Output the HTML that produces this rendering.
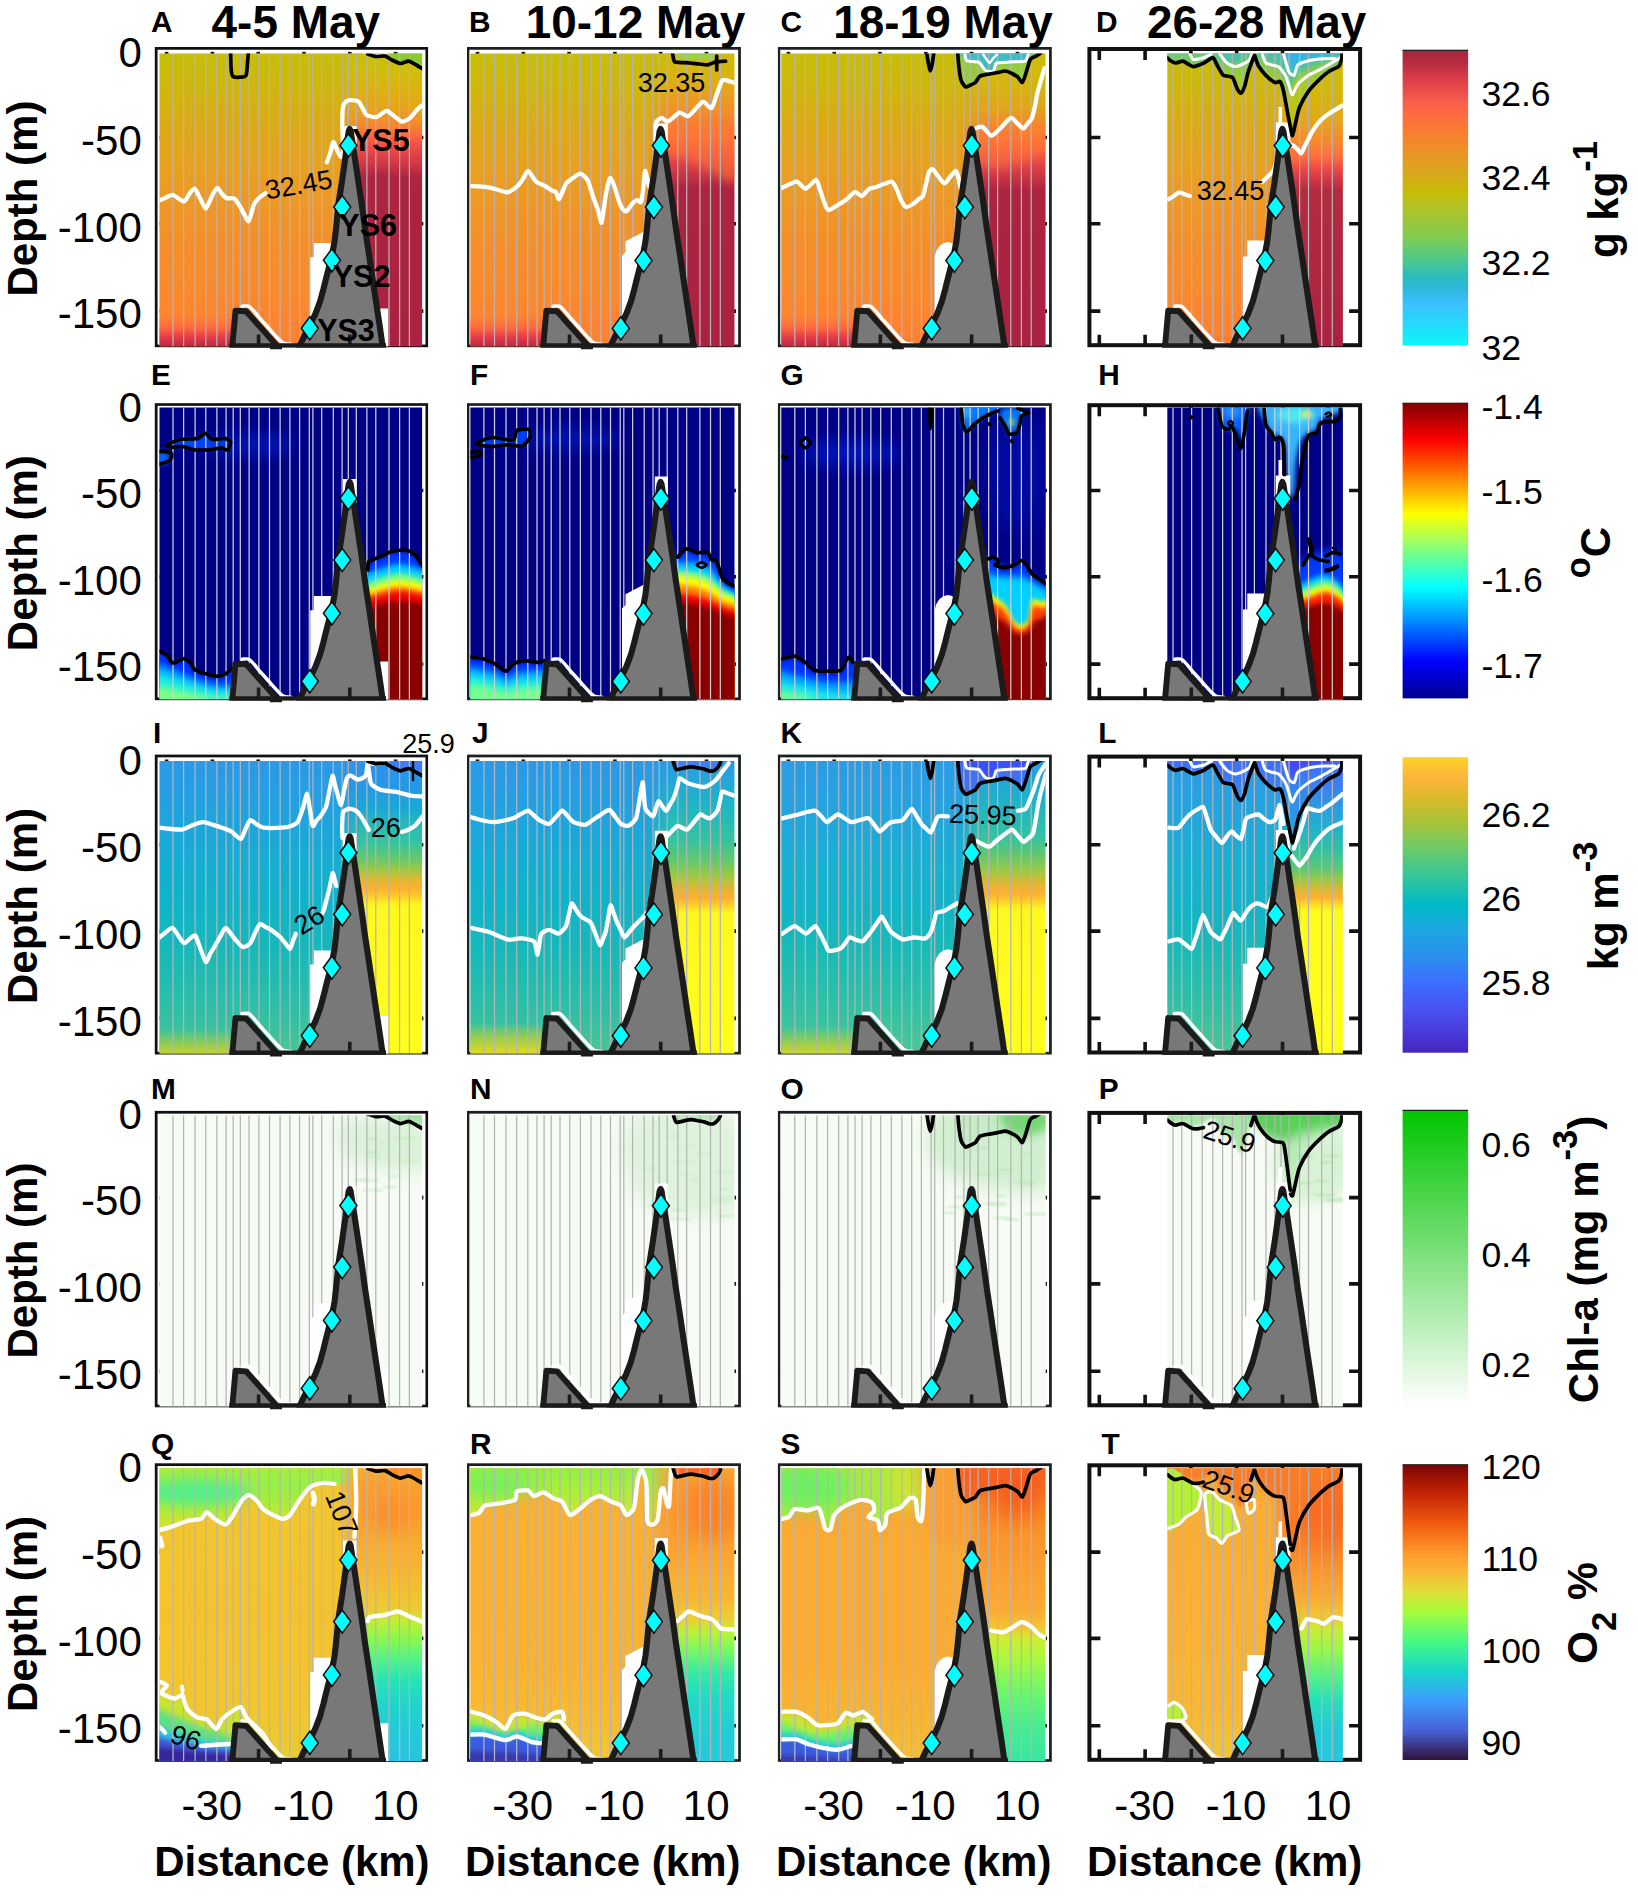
<!DOCTYPE html>
<html><head><meta charset="utf-8"><title>Figure</title>
<style>html,body{margin:0;padding:0;background:#fff}svg{display:block}text{font-family:'Liberation Sans', sans-serif;fill:#000}</style>
</head><body>
<svg width="1638" height="1897" viewBox="0 0 1638 1897">
<defs>
<linearGradient id="mRg" gradientUnits="userSpaceOnUse" x1="338" y1="0" x2="360" y2="0"><stop offset="0" stop-color="#fff" stop-opacity="0"/><stop offset="1" stop-color="#fff" stop-opacity="1"/></linearGradient><mask id="mR" maskUnits="userSpaceOnUse" x="320" y="30" width="120" height="330"><rect x="320" y="30" width="120" height="330" fill="url(#mRg)"/></mask>
<clipPath id="mclip"><path d="M100 40 H500 V347.4 H282 V349.2 H270 V347.4 H100 Z"/></clipPath>
<clipPath id="cA"><rect x="159.5" y="53.6" width="262.6" height="292.7"/></clipPath>
<linearGradient id="gA0" x1="0" y1="50" x2="0" y2="348" gradientUnits="userSpaceOnUse"><stop offset="0.0000" stop-color="#c6bf06"/><stop offset="0.1342" stop-color="#d0b60e"/><stop offset="0.2685" stop-color="#dda918"/><stop offset="0.4027" stop-color="#e8a020"/><stop offset="0.5369" stop-color="#f09626"/><stop offset="0.6711" stop-color="#f58e2a"/><stop offset="0.8054" stop-color="#fa8a2c"/><stop offset="0.9060" stop-color="#ff8430"/><stop offset="1.0000" stop-color="#ff8030"/></linearGradient>
<linearGradient id="gA1" x1="0" y1="313" x2="0" y2="348" gradientUnits="userSpaceOnUse"><stop offset="0.0000" stop-color="#ff7838" stop-opacity="0"/><stop offset="0.4000" stop-color="#ff6c3c" stop-opacity="1"/><stop offset="0.6857" stop-color="#e63c48"/><stop offset="0.8857" stop-color="#c42e44"/><stop offset="1.0000" stop-color="#b02842"/></linearGradient>
<linearGradient id="gA2" x1="0" y1="50" x2="0" y2="348" gradientUnits="userSpaceOnUse"><stop offset="0.0000" stop-color="#c6bf06"/><stop offset="0.0705" stop-color="#d0be08"/><stop offset="0.1409" stop-color="#e0b010"/><stop offset="0.1946" stop-color="#e8a418"/><stop offset="0.2483" stop-color="#f58a2c"/><stop offset="0.2852" stop-color="#ff6a3e"/><stop offset="0.3188" stop-color="#f25045"/><stop offset="0.3557" stop-color="#e04048"/><stop offset="0.3893" stop-color="#cc3444"/><stop offset="0.4262" stop-color="#ac2440"/><stop offset="1.0000" stop-color="#aa2240"/></linearGradient>
<filter id="b1_5" x="-50%" y="-50%" width="200%" height="200%"><feGaussianBlur stdDeviation="1.5"/></filter>
<clipPath id="cB"><rect x="159.5" y="53.6" width="264.1" height="292.7"/></clipPath>
<linearGradient id="gB0" x1="0" y1="50" x2="0" y2="348" gradientUnits="userSpaceOnUse"><stop offset="0.0000" stop-color="#c6bf06"/><stop offset="0.1342" stop-color="#d0b60e"/><stop offset="0.2685" stop-color="#dda918"/><stop offset="0.4027" stop-color="#e8a020"/><stop offset="0.5369" stop-color="#f09626"/><stop offset="0.6711" stop-color="#f58e2a"/><stop offset="0.8054" stop-color="#fa8a2c"/><stop offset="0.9060" stop-color="#ff8430"/><stop offset="1.0000" stop-color="#ff8030"/></linearGradient>
<linearGradient id="gB1" x1="0" y1="313" x2="0" y2="348" gradientUnits="userSpaceOnUse"><stop offset="0.0000" stop-color="#ff7838" stop-opacity="0"/><stop offset="0.4000" stop-color="#ff6c3c" stop-opacity="1"/><stop offset="0.6857" stop-color="#e63c48"/><stop offset="0.8857" stop-color="#c42e44"/><stop offset="1.0000" stop-color="#b02842"/></linearGradient>
<linearGradient id="gB2" x1="0" y1="50" x2="0" y2="348" gradientUnits="userSpaceOnUse"><stop offset="0.0000" stop-color="#ccbc08"/><stop offset="0.0839" stop-color="#d8b40c"/><stop offset="0.1510" stop-color="#e8a020"/><stop offset="0.2181" stop-color="#f58a2c"/><stop offset="0.2953" stop-color="#ff7038"/><stop offset="0.3423" stop-color="#f25045"/><stop offset="0.3792" stop-color="#e04048"/><stop offset="0.4195" stop-color="#c83444"/><stop offset="0.4631" stop-color="#ac2440"/><stop offset="1.0000" stop-color="#aa2240"/></linearGradient>
<filter id="b5" x="-50%" y="-50%" width="200%" height="200%"><feGaussianBlur stdDeviation="5"/></filter>
<clipPath id="cC"><rect x="159.5" y="53.6" width="264.4" height="292.7"/></clipPath>
<linearGradient id="gC0" x1="0" y1="50" x2="0" y2="348" gradientUnits="userSpaceOnUse"><stop offset="0.0000" stop-color="#c6bf06"/><stop offset="0.1342" stop-color="#d0b60e"/><stop offset="0.2685" stop-color="#dda918"/><stop offset="0.4027" stop-color="#e8a020"/><stop offset="0.5369" stop-color="#f09626"/><stop offset="0.6711" stop-color="#f58e2a"/><stop offset="0.8054" stop-color="#fa8a2c"/><stop offset="0.9060" stop-color="#ff8430"/><stop offset="1.0000" stop-color="#ff8030"/></linearGradient>
<linearGradient id="gC1" x1="0" y1="313" x2="0" y2="348" gradientUnits="userSpaceOnUse"><stop offset="0.0000" stop-color="#ff7838" stop-opacity="0"/><stop offset="0.4000" stop-color="#ff6c3c" stop-opacity="1"/><stop offset="0.6857" stop-color="#e63c48"/><stop offset="0.8857" stop-color="#c42e44"/><stop offset="1.0000" stop-color="#b02842"/></linearGradient>
<linearGradient id="gC2" x1="0" y1="50" x2="0" y2="348" gradientUnits="userSpaceOnUse"><stop offset="0.0000" stop-color="#ccbc08"/><stop offset="0.1007" stop-color="#d4b80c"/><stop offset="0.1846" stop-color="#e0a818"/><stop offset="0.2517" stop-color="#f09028"/><stop offset="0.3087" stop-color="#ff7038"/><stop offset="0.3557" stop-color="#f25045"/><stop offset="0.3893" stop-color="#e04048"/><stop offset="0.4295" stop-color="#c83444"/><stop offset="0.4732" stop-color="#ac2440"/><stop offset="1.0000" stop-color="#aa2240"/></linearGradient>
<clipPath id="cD"><rect x="234.6" y="53.6" width="175.6" height="292.7"/></clipPath>
<linearGradient id="gD0" x1="0" y1="50" x2="0" y2="348" gradientUnits="userSpaceOnUse"><stop offset="0.0000" stop-color="#c6bf06"/><stop offset="0.1342" stop-color="#d0b60e"/><stop offset="0.2685" stop-color="#dda918"/><stop offset="0.4027" stop-color="#e8a020"/><stop offset="0.5369" stop-color="#f09626"/><stop offset="0.6711" stop-color="#f58e2a"/><stop offset="0.8054" stop-color="#fa8a2c"/><stop offset="0.9060" stop-color="#ff8430"/><stop offset="1.0000" stop-color="#ff8030"/></linearGradient>
<linearGradient id="gD1" x1="0" y1="50" x2="0" y2="348" gradientUnits="userSpaceOnUse"><stop offset="0.0000" stop-color="#c6bf06"/><stop offset="0.1342" stop-color="#d2b80a"/><stop offset="0.2013" stop-color="#dcae14"/><stop offset="0.2617" stop-color="#eb9c22"/><stop offset="0.3188" stop-color="#f88432"/><stop offset="0.3624" stop-color="#ff6a3e"/><stop offset="0.3960" stop-color="#ee4c46"/><stop offset="0.4295" stop-color="#d43a46"/><stop offset="0.4698" stop-color="#b42c40"/><stop offset="1.0000" stop-color="#aa2240"/></linearGradient>
<linearGradient id="gD2" x1="0" y1="50" x2="0" y2="136" gradientUnits="userSpaceOnUse"><stop offset="0.0000" stop-color="#5cc890"/><stop offset="0.1395" stop-color="#7ccc58"/><stop offset="0.3256" stop-color="#a0cc30"/><stop offset="0.5814" stop-color="#b8c61a"/><stop offset="1.0000" stop-color="#c8bc10"/></linearGradient>
<filter id="b2" x="-50%" y="-50%" width="200%" height="200%"><feGaussianBlur stdDeviation="2"/></filter>
<clipPath id="cE"><rect x="159.5" y="54.5" width="262.6" height="291.8"/></clipPath>
<filter id="b3" x="-50%" y="-50%" width="200%" height="200%"><feGaussianBlur stdDeviation="3"/></filter>
<filter id="b2_5" x="-50%" y="-50%" width="200%" height="200%"><feGaussianBlur stdDeviation="2.5"/></filter>
<filter id="b8" x="-50%" y="-50%" width="200%" height="200%"><feGaussianBlur stdDeviation="8"/></filter>
<clipPath id="cF"><rect x="159.5" y="54.5" width="264.1" height="291.8"/></clipPath>
<clipPath id="cG"><rect x="159.5" y="54.5" width="264.4" height="291.8"/></clipPath>
<filter id="b12" x="-50%" y="-50%" width="200%" height="200%"><feGaussianBlur stdDeviation="12"/></filter>
<clipPath id="cH"><rect x="234.6" y="54.5" width="175.6" height="291.8"/></clipPath>
<filter id="b4" x="-50%" y="-50%" width="200%" height="200%"><feGaussianBlur stdDeviation="4"/></filter>
<clipPath id="cI"><rect x="159.5" y="53.6" width="262.6" height="292.7"/></clipPath>
<linearGradient id="gI0" x1="0" y1="50" x2="0" y2="348" gradientUnits="userSpaceOnUse"><stop offset="0.0000" stop-color="#2c98e8"/><stop offset="0.1174" stop-color="#259ee4"/><stop offset="0.2349" stop-color="#1ca6dc"/><stop offset="0.3691" stop-color="#14aed2"/><stop offset="0.5034" stop-color="#10b4c8"/><stop offset="0.6376" stop-color="#16b8ba"/><stop offset="0.8054" stop-color="#28beaa"/><stop offset="0.9228" stop-color="#3cc29e"/><stop offset="1.0000" stop-color="#4cc694"/></linearGradient>
<linearGradient id="gI1" x1="0" y1="322" x2="0" y2="348" gradientUnits="userSpaceOnUse"><stop offset="0.0000" stop-color="#8ccc58" stop-opacity="0"/><stop offset="0.5385" stop-color="#8ccc58" stop-opacity="1"/><stop offset="1.0000" stop-color="#ccd624"/></linearGradient>
<linearGradient id="gI2" x1="0" y1="50" x2="0" y2="348" gradientUnits="userSpaceOnUse"><stop offset="0.0000" stop-color="#3090f0"/><stop offset="0.1007" stop-color="#2498e6"/><stop offset="0.1678" stop-color="#18a8d8"/><stop offset="0.2282" stop-color="#28b8b8"/><stop offset="0.2852" stop-color="#34c4a0"/><stop offset="0.3356" stop-color="#60c870"/><stop offset="0.3792" stop-color="#a0c840"/><stop offset="0.4094" stop-color="#e0b830"/><stop offset="0.4396" stop-color="#ffb030"/><stop offset="0.4698" stop-color="#ffd028"/><stop offset="0.4966" stop-color="#fff820"/><stop offset="1.0000" stop-color="#ffff1c"/></linearGradient>
<clipPath id="cJ"><rect x="159.5" y="53.6" width="264.1" height="292.7"/></clipPath>
<linearGradient id="gJ0" x1="0" y1="50" x2="0" y2="348" gradientUnits="userSpaceOnUse"><stop offset="0.0000" stop-color="#2c98e8"/><stop offset="0.1174" stop-color="#259ee4"/><stop offset="0.2349" stop-color="#1ca6dc"/><stop offset="0.3691" stop-color="#14aed2"/><stop offset="0.5034" stop-color="#10b4c8"/><stop offset="0.6376" stop-color="#16b8ba"/><stop offset="0.8054" stop-color="#28beaa"/><stop offset="0.9228" stop-color="#3cc29e"/><stop offset="1.0000" stop-color="#4cc694"/></linearGradient>
<linearGradient id="gJ1" x1="0" y1="316" x2="0" y2="348" gradientUnits="userSpaceOnUse"><stop offset="0.0000" stop-color="#98cc50" stop-opacity="0"/><stop offset="0.4375" stop-color="#98cc50" stop-opacity="1"/><stop offset="1.0000" stop-color="#ecdc18"/></linearGradient>
<linearGradient id="gJ2" x1="0" y1="50" x2="0" y2="348" gradientUnits="userSpaceOnUse"><stop offset="0.0000" stop-color="#2c98e8"/><stop offset="0.0839" stop-color="#22a8d8"/><stop offset="0.1510" stop-color="#1eb4c8"/><stop offset="0.2181" stop-color="#28bcb4"/><stop offset="0.2852" stop-color="#38c49c"/><stop offset="0.3523" stop-color="#68c868"/><stop offset="0.4027" stop-color="#a4c840"/><stop offset="0.4430" stop-color="#e4b432"/><stop offset="0.4732" stop-color="#ffb030"/><stop offset="0.5000" stop-color="#ffd428"/><stop offset="0.5235" stop-color="#fff820"/><stop offset="1.0000" stop-color="#ffff1c"/></linearGradient>
<clipPath id="cK"><rect x="159.5" y="53.6" width="264.4" height="292.7"/></clipPath>
<linearGradient id="gK0" x1="0" y1="50" x2="0" y2="348" gradientUnits="userSpaceOnUse"><stop offset="0.0000" stop-color="#2b9ce6"/><stop offset="0.1174" stop-color="#28a0e2"/><stop offset="0.2349" stop-color="#20a8da"/><stop offset="0.3691" stop-color="#18b0d0"/><stop offset="0.5034" stop-color="#12b4c8"/><stop offset="0.6376" stop-color="#18bab8"/><stop offset="0.8054" stop-color="#2cc0a8"/><stop offset="0.9228" stop-color="#40c49c"/><stop offset="1.0000" stop-color="#4cc694"/></linearGradient>
<linearGradient id="gK1" x1="0" y1="320" x2="0" y2="348" gradientUnits="userSpaceOnUse"><stop offset="0.0000" stop-color="#90cc54" stop-opacity="0"/><stop offset="0.5000" stop-color="#90cc54" stop-opacity="1"/><stop offset="1.0000" stop-color="#d4d822"/></linearGradient>
<linearGradient id="gK2" x1="0" y1="50" x2="0" y2="348" gradientUnits="userSpaceOnUse"><stop offset="0.0000" stop-color="#2c98e8"/><stop offset="0.0839" stop-color="#22a8d8"/><stop offset="0.1510" stop-color="#1eb4c8"/><stop offset="0.2181" stop-color="#28bcb4"/><stop offset="0.2752" stop-color="#38c49c"/><stop offset="0.3356" stop-color="#68c868"/><stop offset="0.3859" stop-color="#a4c840"/><stop offset="0.4262" stop-color="#e4b432"/><stop offset="0.4564" stop-color="#ffb030"/><stop offset="0.4866" stop-color="#ffd428"/><stop offset="0.5101" stop-color="#fff820"/><stop offset="1.0000" stop-color="#ffff1c"/></linearGradient>
<clipPath id="cL"><rect x="234.6" y="53.6" width="175.6" height="292.7"/></clipPath>
<linearGradient id="gL0" x1="0" y1="50" x2="0" y2="348" gradientUnits="userSpaceOnUse"><stop offset="0.0000" stop-color="#2b9ce6"/><stop offset="0.1174" stop-color="#28a0e2"/><stop offset="0.2349" stop-color="#20a8da"/><stop offset="0.3691" stop-color="#18b0d0"/><stop offset="0.5034" stop-color="#12b4c8"/><stop offset="0.6376" stop-color="#18bab8"/><stop offset="0.8054" stop-color="#2cc0a8"/><stop offset="0.9228" stop-color="#40c49c"/><stop offset="1.0000" stop-color="#4cc694"/></linearGradient>
<linearGradient id="gL1" x1="0" y1="50" x2="0" y2="348" gradientUnits="userSpaceOnUse"><stop offset="0.0000" stop-color="#4468f8"/><stop offset="0.1007" stop-color="#3c80f0"/><stop offset="0.1678" stop-color="#2c9ce0"/><stop offset="0.2349" stop-color="#22b0cc"/><stop offset="0.3020" stop-color="#30c0a8"/><stop offset="0.3691" stop-color="#58c878"/><stop offset="0.4094" stop-color="#98c848"/><stop offset="0.4430" stop-color="#dcb834"/><stop offset="0.4698" stop-color="#ffb030"/><stop offset="0.4966" stop-color="#ffe024"/><stop offset="0.5168" stop-color="#fffc20"/><stop offset="1.0000" stop-color="#ffff1c"/></linearGradient>
<linearGradient id="gL2" x1="0" y1="50" x2="0" y2="136" gradientUnits="userSpaceOnUse"><stop offset="0.0000" stop-color="#4468f8"/><stop offset="0.1860" stop-color="#3c78f4"/><stop offset="0.4070" stop-color="#3488ec"/><stop offset="0.6977" stop-color="#2c98e4"/><stop offset="1.0000" stop-color="#28a8d8"/></linearGradient>
<clipPath id="cM"><rect x="159.5" y="55.1" width="262.6" height="291.2"/></clipPath>
<clipPath id="cN"><rect x="159.5" y="55.1" width="264.1" height="291.2"/></clipPath>
<clipPath id="cO"><rect x="159.5" y="55.1" width="264.4" height="291.2"/></clipPath>
<filter id="b1" x="-50%" y="-50%" width="200%" height="200%"><feGaussianBlur stdDeviation="1"/></filter>
<clipPath id="cP"><rect x="234.6" y="55.1" width="175.6" height="291.2"/></clipPath>
<filter id="b6" x="-50%" y="-50%" width="200%" height="200%"><feGaussianBlur stdDeviation="6"/></filter>
<clipPath id="cQ"><rect x="159.5" y="53.6" width="262.6" height="292.7"/></clipPath>
<linearGradient id="gQ0" x1="0" y1="50" x2="0" y2="348" gradientUnits="userSpaceOnUse"><stop offset="0.0000" stop-color="#f0c82e"/><stop offset="0.5034" stop-color="#f5c22c"/><stop offset="0.8389" stop-color="#f2c62e"/><stop offset="1.0000" stop-color="#e8cc32"/></linearGradient>
<linearGradient id="gQ1" x1="0" y1="50" x2="0" y2="118" gradientUnits="userSpaceOnUse"><stop offset="0.0000" stop-color="#a8f038"/><stop offset="0.2941" stop-color="#98f048"/><stop offset="0.5147" stop-color="#a4ee3c"/><stop offset="0.7353" stop-color="#c0e834"/><stop offset="1.0000" stop-color="#dcdc30"/></linearGradient>
<filter id="b7" x="-50%" y="-50%" width="200%" height="200%"><feGaussianBlur stdDeviation="7"/></filter>
<linearGradient id="gQ3" x1="0" y1="50" x2="0" y2="348" gradientUnits="userSpaceOnUse"><stop offset="0.0000" stop-color="#f8b030"/><stop offset="0.0671" stop-color="#fba030"/><stop offset="0.1342" stop-color="#fc9c30"/><stop offset="0.2685" stop-color="#f8ac32"/><stop offset="0.4027" stop-color="#f5bc32"/><stop offset="0.4866" stop-color="#eccc34"/><stop offset="0.5268" stop-color="#c0f034"/><stop offset="0.5872" stop-color="#88f850"/><stop offset="0.6544" stop-color="#50f488"/><stop offset="0.7215" stop-color="#28e4b4"/><stop offset="0.8054" stop-color="#20d4cc"/><stop offset="0.8893" stop-color="#24cad8"/><stop offset="1.0000" stop-color="#28c4e0"/></linearGradient>
<clipPath id="cR"><rect x="159.5" y="53.6" width="264.1" height="292.7"/></clipPath>
<linearGradient id="gR0" x1="0" y1="50" x2="0" y2="348" gradientUnits="userSpaceOnUse"><stop offset="0.0000" stop-color="#fab030"/><stop offset="0.2685" stop-color="#fbb030"/><stop offset="0.6711" stop-color="#fbb230"/><stop offset="0.8389" stop-color="#f8ba32"/><stop offset="1.0000" stop-color="#f2c636"/></linearGradient>
<linearGradient id="gR1" x1="0" y1="50" x2="0" y2="110" gradientUnits="userSpaceOnUse"><stop offset="0.0000" stop-color="#90f044"/><stop offset="0.4167" stop-color="#a8f038"/><stop offset="0.7500" stop-color="#c4e834"/><stop offset="1.0000" stop-color="#dcdc32"/></linearGradient>
<linearGradient id="gR3" x1="0" y1="50" x2="0" y2="348" gradientUnits="userSpaceOnUse"><stop offset="0.0000" stop-color="#fca430"/><stop offset="0.0839" stop-color="#fc9c30"/><stop offset="0.2013" stop-color="#fc9a30"/><stop offset="0.3356" stop-color="#fba832"/><stop offset="0.4530" stop-color="#f8b832"/><stop offset="0.5201" stop-color="#ecd034"/><stop offset="0.5638" stop-color="#b8f438"/><stop offset="0.6309" stop-color="#70f868"/><stop offset="0.6980" stop-color="#34eaa4"/><stop offset="0.7785" stop-color="#22dac4"/><stop offset="0.8893" stop-color="#22ced4"/><stop offset="1.0000" stop-color="#24cadc"/></linearGradient>
<filter id="b9" x="-50%" y="-50%" width="200%" height="200%"><feGaussianBlur stdDeviation="9"/></filter>
<clipPath id="cS"><rect x="159.5" y="53.6" width="264.4" height="292.7"/></clipPath>
<linearGradient id="gS0" x1="0" y1="50" x2="0" y2="348" gradientUnits="userSpaceOnUse"><stop offset="0.0000" stop-color="#fba830"/><stop offset="0.2685" stop-color="#fcaa30"/><stop offset="0.6711" stop-color="#fcac30"/><stop offset="0.8389" stop-color="#f9b432"/><stop offset="1.0000" stop-color="#f4c036"/></linearGradient>
<linearGradient id="gS4" x1="0" y1="50" x2="0" y2="348" gradientUnits="userSpaceOnUse"><stop offset="0.0000" stop-color="#f4601e"/><stop offset="0.0671" stop-color="#f66a20"/><stop offset="0.1342" stop-color="#f98428"/><stop offset="0.2349" stop-color="#fb942c"/><stop offset="0.3691" stop-color="#fca030"/><stop offset="0.4866" stop-color="#fcaa32"/><stop offset="0.5436" stop-color="#f6c232"/><stop offset="0.5839" stop-color="#d0ee34"/><stop offset="0.6544" stop-color="#a8f840"/><stop offset="0.7550" stop-color="#70f868"/><stop offset="0.8725" stop-color="#48ec90"/><stop offset="1.0000" stop-color="#38e6a4"/></linearGradient>
<clipPath id="cT"><rect x="234.6" y="53.6" width="175.6" height="292.7"/></clipPath>
<linearGradient id="gT0" x1="0" y1="50" x2="0" y2="348" gradientUnits="userSpaceOnUse"><stop offset="0.0000" stop-color="#f8a030"/><stop offset="0.1342" stop-color="#fbac32"/><stop offset="0.5034" stop-color="#fdb032"/><stop offset="0.8389" stop-color="#f8b834"/><stop offset="1.0000" stop-color="#f0c838"/></linearGradient>
<linearGradient id="gT1" x1="0" y1="50" x2="0" y2="348" gradientUnits="userSpaceOnUse"><stop offset="0.0000" stop-color="#fa7428"/><stop offset="0.1678" stop-color="#f87026"/><stop offset="0.3020" stop-color="#fa8a2c"/><stop offset="0.4362" stop-color="#fca832"/><stop offset="0.5134" stop-color="#f0c836"/><stop offset="0.5537" stop-color="#c8ec38"/><stop offset="0.6208" stop-color="#98f848"/><stop offset="0.7047" stop-color="#58f480"/><stop offset="0.7886" stop-color="#28e0b8"/><stop offset="0.8893" stop-color="#20ccd8"/><stop offset="1.0000" stop-color="#24c8e0"/></linearGradient>
<linearGradient id="cb0" x1="0" y1="0" x2="0" y2="1" gradientUnits="objectBoundingBox"><stop offset="0.0000" stop-color="#a6263c"/><stop offset="0.0400" stop-color="#b42a40"/><stop offset="0.1100" stop-color="#e2414a"/><stop offset="0.1800" stop-color="#f8604a"/><stop offset="0.2300" stop-color="#ff6e3e"/><stop offset="0.3000" stop-color="#f5852c"/><stop offset="0.4000" stop-color="#dda322"/><stop offset="0.4800" stop-color="#c7bc06"/><stop offset="0.5500" stop-color="#a8c42e"/><stop offset="0.6300" stop-color="#82cc4e"/><stop offset="0.7100" stop-color="#4ec88c"/><stop offset="0.7700" stop-color="#2cbcc0"/><stop offset="0.8100" stop-color="#2eb8dc"/><stop offset="0.8600" stop-color="#3cc0ff"/><stop offset="1.0000" stop-color="#0cf6f8"/></linearGradient>
<linearGradient id="cb1" x1="0" y1="0" x2="0" y2="1" gradientUnits="objectBoundingBox"><stop offset="0.0000" stop-color="#800000"/><stop offset="0.1250" stop-color="#ff0000"/><stop offset="0.3750" stop-color="#ffff00"/><stop offset="0.6250" stop-color="#00ffff"/><stop offset="0.8750" stop-color="#0000ff"/><stop offset="1.0000" stop-color="#00008f"/></linearGradient>
<linearGradient id="cb2" x1="0" y1="0" x2="0" y2="1" gradientUnits="objectBoundingBox"><stop offset="0.0000" stop-color="#ffd22a"/><stop offset="0.0700" stop-color="#fdb53a"/><stop offset="0.1500" stop-color="#d4ba2a"/><stop offset="0.2300" stop-color="#a2c43c"/><stop offset="0.3100" stop-color="#6ccb68"/><stop offset="0.4000" stop-color="#36c698"/><stop offset="0.5000" stop-color="#00b9c7"/><stop offset="0.5800" stop-color="#1ca8df"/><stop offset="0.6800" stop-color="#2c8df0"/><stop offset="0.7700" stop-color="#3e6cff"/><stop offset="0.8700" stop-color="#4a4cee"/><stop offset="1.0000" stop-color="#4426c0"/></linearGradient>
<linearGradient id="cb3" x1="0" y1="0" x2="0" y2="1" gradientUnits="objectBoundingBox"><stop offset="0.0000" stop-color="#00c400"/><stop offset="1.0000" stop-color="#ffffff"/></linearGradient>
<linearGradient id="cb4" x1="0" y1="0" x2="0" y2="1" gradientUnits="objectBoundingBox"><stop offset="0.0000" stop-color="#7a0403"/><stop offset="0.1000" stop-color="#c42503"/><stop offset="0.2000" stop-color="#f05b12"/><stop offset="0.3000" stop-color="#fe992c"/><stop offset="0.3700" stop-color="#f9ba38"/><stop offset="0.4300" stop-color="#e1dd37"/><stop offset="0.5000" stop-color="#a4fc3c"/><stop offset="0.6000" stop-color="#46f884"/><stop offset="0.7000" stop-color="#18d6cb"/><stop offset="0.8000" stop-color="#3e9bfe"/><stop offset="0.9000" stop-color="#4662d7"/><stop offset="1.0000" stop-color="#30123b"/></linearGradient>
</defs>
<rect width="1638" height="1897" fill="#fff"/>
<g transform="translate(0.0,0.0)">
<rect x="156.8" y="49.0" width="269.3" height="296.2" fill="#fff" stroke="#111" stroke-width="4"/>
<path d="M166.6 49.0 v11 M166.6 345.2 v-10.5 M212.4 49.0 v11 M212.4 345.2 v-10.5 M258.2 49.0 v11 M258.2 345.2 v-10.5 M304.0 49.0 v11 M304.0 345.2 v-10.5 M349.8 49.0 v11 M349.8 345.2 v-10.5 M395.6 49.0 v11 M395.6 345.2 v-10.5 M156.8 137.5 h11 M426.1 137.5 h-11 M156.8 223.8 h11 M426.1 223.8 h-11 M156.8 311.1 h11 M426.1 311.1 h-11 " stroke="#111" stroke-width="3.6" fill="none"/>
<rect x="158.6" y="50.8" width="265.8" height="292.7" fill="none" stroke="#fff" stroke-width="2.1"/>
<g clip-path="url(#cA)">
<rect x="158.0" y="52.6" width="204.0" height="294.7" fill="url(#gA0)"/>
<rect x="158.0" y="52.6" width="74.0" height="294.7" fill="url(#gA1)"/>
<rect x="330.0" y="52.6" width="94.0" height="294.7" fill="url(#gA2)" mask="url(#mR)"/>
<path d="M392.0 60.0 C393.4 63.9 397.8 63.3 400.5 63.5 C403.2 63.7 406.2 61.1 408.5 61.2 C410.8 61.3 412.3 62.8 414.5 64.0 C416.7 65.2 419.9 67.6 421.8 68.3 C423.7 69.0 425.3 73.0 426.0 68.3 C426.7 63.6 431.7 44.7 426.0 40.0 C420.3 35.3 397.7 36.7 392.0 40.0 C386.3 43.3 390.6 56.1 392.0 60.0Z" fill="#8cc832" filter="url(#b1_5)"/>
<path d="M173.0 53.6 V346.3 M183.6 53.6 V346.3 M195.1 53.6 V346.3 M205.8 53.6 V346.3 M216.9 53.6 V346.3 M226.1 53.6 V346.3 M233.2 53.6 V346.3 M240.3 53.6 V346.3 M249.1 53.6 V346.3 M258.9 53.6 V346.3 M269.5 53.6 V346.3 M280.1 53.6 V346.3 M289.9 53.6 V346.3 M299.6 53.6 V346.3 M309.3 53.6 V346.3 M312.9 53.6 V346.3 M321.7 53.6 V346.3 M333.3 53.6 V346.3 M342.1 53.6 V346.3 M348.3 53.6 V346.3 M356.3 53.6 V346.3 M366.9 53.6 V346.3 M375.8 53.6 V346.3 M389.0 53.6 V346.3 M399.6 53.6 V346.3 M409.4 53.6 V346.3 " stroke="#b6b4b8" stroke-width="1.25" fill="none"/>
<path d="M310.2 257.3 L313.8 257.3 L313.8 243.1 L342.0 243.1 L342.0 336.0 L310.2 336.0 Z" fill="#fff"/>
<path d="M374.0 308.6 L388.1 308.6 L388.1 348.0 L374.0 348.0 Z" fill="#fff"/>
<path d="M343.0 126.0 L356.5 126.0 L356.5 146.0 L343.0 146.0 Z" fill="#fff"/>
</g>
</g>
<g transform="translate(310.9,0.0)">
<rect x="158.1" y="49.0" width="269.9" height="296.2" fill="#fff" stroke="#1c2020" stroke-width="4"/>
<path d="M166.6 49.0 v11 M166.6 345.2 v-10.5 M212.4 49.0 v11 M212.4 345.2 v-10.5 M258.2 49.0 v11 M258.2 345.2 v-10.5 M304.0 49.0 v11 M304.0 345.2 v-10.5 M349.8 49.0 v11 M349.8 345.2 v-10.5 M395.6 49.0 v11 M395.6 345.2 v-10.5 M158.1 137.5 h11 M428.0 137.5 h-11 M158.1 223.8 h11 M428.0 223.8 h-11 M158.1 311.1 h11 M428.0 311.1 h-11 " stroke="#111" stroke-width="3.6" fill="none"/>
<rect x="159.5" y="50.8" width="266.7" height="292.7" fill="none" stroke="#fff" stroke-width="2.1"/>
<g clip-path="url(#cB)">
<rect x="158.0" y="52.6" width="204.0" height="294.7" fill="url(#gB0)"/>
<rect x="158.0" y="52.6" width="74.0" height="294.7" fill="url(#gB1)"/>
<rect x="330.0" y="52.6" width="94.0" height="294.7" fill="url(#gB2)" mask="url(#mR)"/>
<rect x="367.0" y="50.0" width="37.0" height="9.5" fill="#98d440" filter="url(#b1_5)"/>
<path d="M349.0 150.0 C352.8 155.5 363.5 154.3 372.0 158.0 C380.5 161.7 391.0 168.3 400.0 172.0 C409.0 175.7 421.7 187.0 426.0 180.0 C430.3 173.0 438.8 139.2 426.0 130.0 C413.2 120.8 361.8 121.7 349.0 125.0 C336.2 128.3 345.2 144.5 349.0 150.0Z" fill="#ff7a36" filter="url(#b5)" opacity="0.55"/>
<path d="M173.0 53.6 V346.3 M183.6 53.6 V346.3 M195.1 53.6 V346.3 M205.8 53.6 V346.3 M216.9 53.6 V346.3 M226.1 53.6 V346.3 M233.2 53.6 V346.3 M240.3 53.6 V346.3 M249.1 53.6 V346.3 M258.9 53.6 V346.3 M269.5 53.6 V346.3 M280.1 53.6 V346.3 M289.9 53.6 V346.3 M299.6 53.6 V346.3 M309.3 53.6 V346.3 M312.9 53.6 V346.3 M321.7 53.6 V346.3 M333.3 53.6 V346.3 M342.1 53.6 V346.3 M348.3 53.6 V346.3 M356.3 53.6 V346.3 M366.9 53.6 V346.3 M375.8 53.6 V346.3 M389.0 53.6 V346.3 M399.6 53.6 V346.3 M409.4 53.6 V346.3 " stroke="#b6b4b8" stroke-width="1.25" fill="none"/>
<path d="M311.1 255.5 L314.6 252.0 L314.6 241.3 L333.1 231.6 L344.0 231.6 L344.0 332.0 L311.1 332.0 Z" fill="#fff"/>
<path d="M343.9 123.4 L357.1 123.4 L357.1 146.0 L343.9 146.0 Z" fill="#fff"/>
</g>
</g>
<g transform="translate(621.8,0.0)">
<rect x="158.1" y="49.0" width="269.9" height="296.2" fill="#fff" stroke="#1c2020" stroke-width="4"/>
<path d="M166.6 49.0 v11 M166.6 345.2 v-10.5 M212.4 49.0 v11 M212.4 345.2 v-10.5 M258.2 49.0 v11 M258.2 345.2 v-10.5 M304.0 49.0 v11 M304.0 345.2 v-10.5 M349.8 49.0 v11 M349.8 345.2 v-10.5 M395.6 49.0 v11 M395.6 345.2 v-10.5 M158.1 137.5 h11 M428.0 137.5 h-11 M158.1 223.8 h11 M428.0 223.8 h-11 M158.1 311.1 h11 M428.0 311.1 h-11 " stroke="#111" stroke-width="3.6" fill="none"/>
<rect x="159.5" y="50.8" width="266.7" height="292.7" fill="none" stroke="#fff" stroke-width="2.1"/>
<g clip-path="url(#cC)">
<rect x="158.0" y="52.6" width="204.0" height="294.7" fill="url(#gC0)"/>
<rect x="158.0" y="52.6" width="74.0" height="294.7" fill="url(#gC1)"/>
<rect x="330.0" y="52.6" width="94.0" height="294.7" fill="url(#gC2)" mask="url(#mR)"/>
<path d="M304.9 53.0 C305.2 57.0 306.1 61.0 306.7 64.0 C307.3 67.0 307.8 71.0 308.4 71.0 C309.0 71.0 309.8 67.0 310.4 64.0 C311.0 61.0 311.7 57.0 312.0 53.0 C312.3 49.0 313.2 42.2 312.0 40.0 C310.8 37.8 306.1 37.8 304.9 40.0 C303.7 42.2 304.6 49.0 304.9 53.0Z" fill="#a4d41c"/>
<path d="M335.9 53.0 C336.1 57.7 336.6 63.4 337.2 68.0 C337.8 72.6 338.3 77.5 339.4 80.7 C340.5 83.9 342.3 86.2 343.8 86.9 C345.4 87.6 347.1 85.7 348.7 85.0 C350.3 84.3 352.1 84.0 353.6 82.5 C355.2 81.0 355.9 77.7 358.0 76.3 C360.1 74.9 363.4 74.8 366.2 74.2 C369.0 73.6 371.9 73.3 374.8 72.8 C377.7 72.3 381.1 70.9 383.7 71.0 C386.3 71.1 388.1 72.5 390.2 73.5 C392.3 74.5 394.4 75.7 396.1 77.2 C397.8 78.7 399.2 83.1 400.5 82.5 C401.8 81.9 402.7 77.4 404.0 73.6 C405.3 69.8 406.8 62.4 408.5 59.5 C410.2 56.6 412.4 57.1 414.2 56.0 C416.0 54.9 418.3 55.7 419.1 53.0 C419.9 50.3 433.0 42.2 419.1 40.0 C405.2 37.8 349.8 37.8 335.9 40.0 C322.0 42.2 335.7 48.3 335.9 53.0Z" fill="#96cc3c"/>
<path d="M343.5 50.0 C333.2 51.7 342.4 58.4 344.7 60.4 C347.0 62.4 354.0 60.5 357.1 62.1 C360.2 63.7 360.9 68.6 363.3 70.1 C365.7 71.6 369.4 72.2 371.3 71.0 C373.2 69.8 369.5 64.6 374.8 63.0 C380.1 61.4 397.9 63.4 403.2 61.2 C408.5 59.0 416.6 51.9 406.7 50.0 C396.8 48.1 353.8 48.3 343.5 50.0Z" fill="#3cbcc8" filter="url(#b1_5)"/>
<path d="M349.0 160.0 C354.2 166.7 367.2 169.7 380.0 168.0 C392.8 166.3 418.3 158.0 426.0 150.0 C433.7 142.0 438.8 123.7 426.0 120.0 C413.2 116.3 361.8 121.3 349.0 128.0 C336.2 134.7 343.8 153.3 349.0 160.0Z" fill="#ff7a36" filter="url(#b5)" opacity="0.5"/>
<path d="M173.0 53.6 V346.3 M183.6 53.6 V346.3 M195.1 53.6 V346.3 M205.8 53.6 V346.3 M216.9 53.6 V346.3 M226.1 53.6 V346.3 M233.2 53.6 V346.3 M240.3 53.6 V346.3 M249.1 53.6 V346.3 M258.9 53.6 V346.3 M269.5 53.6 V346.3 M280.1 53.6 V346.3 M289.9 53.6 V346.3 M299.6 53.6 V346.3 M309.3 53.6 V346.3 M312.9 53.6 V346.3 M321.7 53.6 V346.3 M333.3 53.6 V346.3 M342.1 53.6 V346.3 M348.3 53.6 V346.3 M356.3 53.6 V346.3 M366.9 53.6 V346.3 M375.8 53.6 V346.3 M389.0 53.6 V346.3 M399.6 53.6 V346.3 M409.4 53.6 V346.3 " stroke="#b6b4b8" stroke-width="1.25" fill="none"/>
<path d="M312.9 322.0 L312.9 257.0 L314.5 251.0 L317.5 246.2 L321.5 243.2 L326.0 242.0 L330.5 243.0 L334.0 246.5 L342.0 250.0 L342.0 322.0 Z" fill="#fff"/>
</g>
</g>
<g transform="translate(932.7,0.0)">
<rect x="156.7" y="49.0" width="270.7" height="296.2" fill="#fff" stroke="#111" stroke-width="4"/>
<path d="M166.6 49.0 v11 M166.6 345.2 v-10.5 M212.4 49.0 v11 M212.4 345.2 v-10.5 M258.2 49.0 v11 M258.2 345.2 v-10.5 M304.0 49.0 v11 M304.0 345.2 v-10.5 M349.8 49.0 v11 M349.8 345.2 v-10.5 M395.6 49.0 v11 M395.6 345.2 v-10.5 M156.7 137.5 h11 M427.4 137.5 h-11 M156.7 223.8 h11 M427.4 223.8 h-11 M156.7 311.1 h11 M427.4 311.1 h-11 " stroke="#111" stroke-width="3.6" fill="none"/>
<g clip-path="url(#cD)">
<rect x="158.0" y="52.6" width="204.0" height="294.7" fill="url(#gD0)"/>
<rect x="330.0" y="52.6" width="94.0" height="294.7" fill="url(#gD1)" mask="url(#mR)"/>
<path d="M234.8 58.0 C235.4 61.5 236.9 60.2 238.3 61.0 C239.6 61.8 240.9 63.0 242.9 63.0 C244.8 63.0 247.9 61.0 250.0 61.2 C252.1 61.4 253.5 63.1 255.3 64.0 C257.1 64.9 257.9 66.8 260.6 66.6 C263.2 66.4 268.0 64.5 271.2 63.0 C274.5 61.5 278.0 57.5 280.1 57.7 C282.2 57.9 282.6 61.9 283.8 64.0 C285.0 66.1 286.1 68.2 287.2 70.1 C288.4 72.0 288.6 74.2 290.7 75.4 C292.8 76.6 297.7 75.9 299.6 77.2 C301.5 78.5 301.4 80.9 302.3 83.0 C303.2 85.1 303.9 87.9 304.9 89.6 C305.9 91.3 307.2 93.7 308.4 93.1 C309.6 92.5 310.8 89.5 312.0 86.0 C313.2 82.5 314.4 75.7 315.5 71.9 C316.6 68.1 317.8 65.7 318.8 63.0 C319.8 60.3 320.9 55.8 321.7 55.5 C322.5 55.2 323.1 59.1 323.8 61.0 C324.5 62.9 324.5 64.2 326.1 66.6 C327.7 69.0 330.5 72.8 333.2 75.4 C335.9 78.1 339.7 81.5 342.1 82.5 C344.5 83.5 345.9 80.1 347.4 81.6 C348.9 83.1 349.7 86.4 350.9 91.3 C352.1 96.2 353.3 104.6 354.5 110.8 C355.7 117.0 357.1 124.4 358.0 128.5 C358.9 132.6 359.1 136.2 359.8 135.6 C360.5 135.0 361.2 129.7 362.4 125.0 C363.6 120.3 364.6 112.9 366.8 107.3 C369.0 101.7 372.5 95.9 375.7 91.3 C379.0 86.7 382.8 83.2 386.3 79.8 C389.8 76.4 393.6 73.2 396.9 71.0 C400.1 68.8 403.8 68.4 405.8 66.6 C407.8 64.8 408.2 62.0 408.8 60.0 C409.4 58.0 409.2 57.8 409.3 54.5 C409.4 51.2 438.4 42.4 409.3 40.0 C380.2 37.6 263.9 37.0 234.8 40.0 C205.7 43.0 234.2 54.5 234.8 58.0Z" fill="url(#gD2)"/>
<path d="M330.0 48.0 C317.0 50.0 330.5 57.0 333.0 60.0 C335.5 63.0 341.8 63.0 345.0 66.0 C348.2 69.0 350.2 73.7 352.0 78.0 C353.8 82.3 354.5 91.7 356.0 92.0 C357.5 92.3 358.3 83.7 361.0 80.0 C363.7 76.3 367.8 72.7 372.0 70.0 C376.2 67.3 381.3 66.0 386.0 64.0 C390.7 62.0 395.8 60.7 400.0 58.0 C404.2 55.3 422.7 49.7 411.0 48.0 C399.3 46.3 343.0 46.0 330.0 48.0Z" fill="#48c4a4" filter="url(#b2)"/>
<path d="M352.0 48.0 C342.8 50.3 354.3 58.3 356.0 62.0 C357.7 65.7 360.0 70.0 362.0 70.0 C364.0 70.0 364.3 64.2 368.0 62.0 C371.7 59.8 376.8 58.3 384.0 57.0 C391.2 55.7 406.5 55.5 411.0 54.0 C415.5 52.5 420.8 49.0 411.0 48.0 C401.2 47.0 361.2 45.7 352.0 48.0Z" fill="#34b4e4" filter="url(#b2)"/>
<path d="M282.0 48.0 C277.7 50.0 287.0 57.3 290.0 60.0 C293.0 62.7 296.7 64.0 300.0 64.0 C303.3 64.0 307.3 62.7 310.0 60.0 C312.7 57.3 320.7 50.0 316.0 48.0 C311.3 46.0 286.3 46.0 282.0 48.0Z" fill="#48c4a4" filter="url(#b2)"/>
<path d="M240.3 53.6 V346.3 M249.1 53.6 V346.3 M258.9 53.6 V346.3 M269.5 53.6 V346.3 M280.1 53.6 V346.3 M289.9 53.6 V346.3 M299.6 53.6 V346.3 M309.3 53.6 V346.3 M312.9 53.6 V346.3 M321.7 53.6 V346.3 M333.3 53.6 V346.3 M342.1 53.6 V346.3 M348.3 53.6 V346.3 M356.3 53.6 V346.3 M366.9 53.6 V346.3 M375.8 53.6 V346.3 M389.0 53.6 V346.3 M399.6 53.6 V346.3 " stroke="#b6b4b8" stroke-width="1.25" fill="none"/>
<path d="M310.2 256.5 L314.6 256.5 L314.6 240.5 L342.0 240.5 L342.0 336.0 L310.2 336.0 Z" fill="#fff"/>
<path d="M343.2 122.6 L357.6 122.6 L357.6 146.0 L343.2 146.0 Z" fill="#fff"/>
<path d="M345.8 107.0 L349.4 107.0 L349.4 124.0 L345.8 124.0 Z" fill="#fff"/>
</g>
</g>
<g transform="translate(0.0,353.0)">
<rect x="156.8" y="52.2" width="269.3" height="293.0" fill="#fff" stroke="#111" stroke-width="4"/>
<path d="M166.6 52.2 v11 M166.6 345.2 v-10.5 M212.4 52.2 v11 M212.4 345.2 v-10.5 M258.2 52.2 v11 M258.2 345.2 v-10.5 M304.0 52.2 v11 M304.0 345.2 v-10.5 M349.8 52.2 v11 M349.8 345.2 v-10.5 M395.6 52.2 v11 M395.6 345.2 v-10.5 M156.8 137.5 h11 M426.1 137.5 h-11 M156.8 223.8 h11 M426.1 223.8 h-11 M156.8 311.1 h11 M426.1 311.1 h-11 " stroke="#111" stroke-width="3.6" fill="none"/>
<rect x="158.6" y="53.9" width="265.8" height="289.5" fill="none" stroke="#fff" stroke-width="2.1"/>
<g clip-path="url(#cE)">
<rect x="150.0" y="40.0" width="290.0" height="320.0" fill="#000086"/>
<path d="M150.0 300.0 C151.8 292.0 157.7 299.3 160.6 300.0 C163.5 300.7 165.6 302.5 167.7 304.4 C169.8 306.3 170.3 311.1 173.0 311.5 C175.7 311.9 180.7 307.1 183.6 307.1 C186.5 307.1 188.9 309.7 190.7 311.5 C192.5 313.3 191.9 315.9 194.3 317.7 C196.7 319.5 201.1 320.9 204.9 322.1 C208.7 323.3 213.8 324.8 217.3 324.8 C220.8 324.8 223.8 323.4 226.1 322.1 C228.4 320.8 229.8 317.7 231.4 316.8 C233.1 315.9 235.2 311.6 236.0 316.8 C236.8 322.0 250.3 342.8 236.0 348.0 C221.7 353.2 164.3 356.0 150.0 348.0 C135.7 340.0 148.2 308.0 150.0 300.0Z" fill="#0030ff" filter="url(#b2)"/>
<path d="M151.0 312.0 C152.3 306.0 155.0 311.0 159.0 312.0 C163.0 313.0 169.0 315.7 175.0 318.0 C181.0 320.3 188.3 323.7 195.0 326.0 C201.7 328.3 208.2 331.0 215.0 332.0 C221.8 333.0 231.2 332.0 236.0 332.0 C240.8 332.0 242.7 329.3 244.0 332.0 C245.3 334.7 259.5 345.3 244.0 348.0 C228.5 350.7 166.5 354.0 151.0 348.0 C135.5 342.0 149.7 318.0 151.0 312.0Z" fill="#00b4ff" filter="url(#b3)"/>
<path d="M151.0 322.0 C152.3 317.7 155.0 321.2 159.0 322.0 C163.0 322.8 169.0 325.2 175.0 327.0 C181.0 328.8 188.3 331.2 195.0 333.0 C201.7 334.8 208.2 337.2 215.0 338.0 C221.8 338.8 231.2 338.0 236.0 338.0 C240.8 338.0 242.7 336.3 244.0 338.0 C245.3 339.7 259.5 346.3 244.0 348.0 C228.5 349.7 166.5 352.3 151.0 348.0 C135.5 343.7 149.7 326.3 151.0 322.0Z" fill="#24f0dc" filter="url(#b3)"/>
<path d="M151.0 334.0 C152.3 331.7 155.0 333.5 159.0 334.0 C163.0 334.5 169.0 335.8 175.0 337.0 C181.0 338.2 188.3 339.7 195.0 341.0 C201.7 342.3 208.2 344.3 215.0 345.0 C221.8 345.7 231.2 345.0 236.0 345.0 C240.8 345.0 242.7 344.5 244.0 345.0 C245.3 345.5 259.5 347.5 244.0 348.0 C228.5 348.5 166.5 350.3 151.0 348.0 C135.5 345.7 149.7 336.3 151.0 334.0Z" fill="#80ff84" filter="url(#b3)"/>
<path d="M360.0 218.8 C361.3 197.3 366.4 220.1 367.8 218.8 C369.2 217.5 366.9 212.9 368.7 210.8 C370.5 208.7 374.4 208.2 378.4 206.4 C382.4 204.6 387.9 201.4 392.6 200.2 C397.3 199.0 402.9 198.6 406.7 199.3 C410.5 200.0 412.9 201.9 415.6 204.6 C418.3 207.2 420.3 213.4 422.7 215.2 C425.1 217.0 428.8 193.1 430.0 215.2 C431.2 237.3 441.7 325.9 430.0 348.0 C418.3 370.1 371.7 369.5 360.0 348.0 C348.3 326.5 358.7 240.3 360.0 218.8Z" fill="#0038ff" filter="url(#b2)"/>
<path d="M354.0 222.0 C355.3 201.0 357.7 223.0 362.0 222.0 C366.3 221.0 373.7 217.8 380.0 216.0 C386.3 214.2 392.3 210.7 400.0 211.0 C407.7 211.3 420.3 216.8 426.0 218.0 C431.7 219.2 432.7 196.3 434.0 218.0 C435.3 239.7 447.3 326.3 434.0 348.0 C420.7 369.7 367.3 369.0 354.0 348.0 C340.7 327.0 352.7 243.0 354.0 222.0Z" fill="#00c8ff" filter="url(#b2_5)"/>
<path d="M354.0 231.0 C355.3 211.5 357.7 232.0 362.0 231.0 C366.3 230.0 373.7 226.8 380.0 225.0 C386.3 223.2 392.3 219.8 400.0 220.0 C407.7 220.2 420.3 225.0 426.0 226.0 C431.7 227.0 432.7 205.7 434.0 226.0 C435.3 246.3 447.3 327.7 434.0 348.0 C420.7 368.3 367.3 367.5 354.0 348.0 C340.7 328.5 352.7 250.5 354.0 231.0Z" fill="#70ff90" filter="url(#b2_5)"/>
<path d="M354.0 238.0 C355.3 219.7 357.7 239.0 362.0 238.0 C366.3 237.0 373.7 233.8 380.0 232.0 C386.3 230.2 392.3 227.0 400.0 227.0 C407.7 227.0 420.3 231.2 426.0 232.0 C431.7 232.8 432.7 212.7 434.0 232.0 C435.3 251.3 447.3 328.7 434.0 348.0 C420.7 367.3 367.3 366.3 354.0 348.0 C340.7 329.7 352.7 256.3 354.0 238.0Z" fill="#ffff00" filter="url(#b2_5)"/>
<path d="M354.0 244.0 C355.3 226.7 357.7 245.0 362.0 244.0 C366.3 243.0 373.7 239.7 380.0 238.0 C386.3 236.3 392.3 233.8 400.0 234.0 C407.7 234.2 420.3 238.2 426.0 239.0 C431.7 239.8 432.7 220.8 434.0 239.0 C435.3 257.2 447.3 329.8 434.0 348.0 C420.7 366.2 367.3 365.3 354.0 348.0 C340.7 330.7 352.7 261.3 354.0 244.0Z" fill="#ff6000" filter="url(#b2_5)"/>
<path d="M354.0 248.0 C355.3 231.3 357.7 248.8 362.0 248.0 C366.3 247.2 373.7 244.5 380.0 243.0 C386.3 241.5 392.3 239.0 400.0 239.0 C407.7 239.0 420.3 242.3 426.0 243.0 C431.7 243.7 432.7 225.5 434.0 243.0 C435.3 260.5 447.3 330.5 434.0 348.0 C420.7 365.5 367.3 364.7 354.0 348.0 C340.7 331.3 352.7 264.7 354.0 248.0Z" fill="#f00000" filter="url(#b2_5)"/>
<path d="M354.0 256.0 C355.3 240.7 357.7 256.8 362.0 256.0 C366.3 255.2 373.7 252.3 380.0 251.0 C386.3 249.7 392.3 248.0 400.0 248.0 C407.7 248.0 420.3 250.5 426.0 251.0 C431.7 251.5 432.7 234.8 434.0 251.0 C435.3 267.2 447.3 331.8 434.0 348.0 C420.7 364.2 367.3 363.3 354.0 348.0 C340.7 332.7 352.7 271.3 354.0 256.0Z" fill="#880000" filter="url(#b2_5)"/>
<path d="M166.8 91.6 C168.6 90.3 176.7 87.3 181.9 86.3 C187.1 85.3 194.0 86.4 197.8 85.4 C201.6 84.4 202.5 80.0 204.9 80.1 C207.3 80.3 208.8 85.4 212.0 86.3 C215.2 87.2 221.3 85.0 224.4 85.4 C227.5 85.8 230.0 87.0 230.6 88.9 C231.2 90.8 229.5 95.9 227.9 96.9 C226.3 97.9 224.1 95.1 220.8 95.1 C217.6 95.1 212.8 96.6 208.4 96.9 C204.0 97.2 198.7 97.5 194.3 96.9 C189.9 96.3 185.8 93.8 181.9 93.3 C178.1 92.9 173.7 94.5 171.2 94.2 C168.7 93.9 165.0 92.9 166.8 91.6Z" fill="#0048ff" filter="url(#b2)"/>
<ellipse cx="162.0" cy="105.0" rx="8.0" ry="7.0" fill="#0060ff" filter="url(#b2)"/>
<ellipse cx="250.0" cy="92.0" rx="45.0" ry="12.0" fill="#0020d0" filter="url(#b8)" opacity="0.6"/>
<path d="M173.0 54.5 V346.3 M183.6 54.5 V346.3 M195.1 54.5 V346.3 M205.8 54.5 V346.3 M216.9 54.5 V346.3 M226.1 54.5 V346.3 M233.2 54.5 V346.3 M240.3 54.5 V346.3 M249.1 54.5 V346.3 M258.9 54.5 V346.3 M269.5 54.5 V346.3 M280.1 54.5 V346.3 M289.9 54.5 V346.3 M299.6 54.5 V346.3 M309.3 54.5 V346.3 M312.9 54.5 V346.3 M321.7 54.5 V346.3 M333.3 54.5 V346.3 M342.1 54.5 V346.3 M348.3 54.5 V346.3 M356.3 54.5 V346.3 M366.9 54.5 V346.3 M375.8 54.5 V346.3 M389.0 54.5 V346.3 M399.6 54.5 V346.3 M409.4 54.5 V346.3 " stroke="#cfcfcf" stroke-width="1.25" fill="none"/>
<path d="M310.2 257.3 L313.8 257.3 L313.8 243.1 L342.0 243.1 L342.0 336.0 L310.2 336.0 Z" fill="#fff"/>
<path d="M374.0 308.6 L388.1 308.6 L388.1 348.0 L374.0 348.0 Z" fill="#fff"/>
<path d="M343.0 126.0 L356.5 126.0 L356.5 146.0 L343.0 146.0 Z" fill="#fff"/>
</g>
</g>
<g transform="translate(310.9,353.0)">
<rect x="158.1" y="52.2" width="269.9" height="293.0" fill="#fff" stroke="#1c2020" stroke-width="4"/>
<path d="M166.6 52.2 v11 M166.6 345.2 v-10.5 M212.4 52.2 v11 M212.4 345.2 v-10.5 M258.2 52.2 v11 M258.2 345.2 v-10.5 M304.0 52.2 v11 M304.0 345.2 v-10.5 M349.8 52.2 v11 M349.8 345.2 v-10.5 M395.6 52.2 v11 M395.6 345.2 v-10.5 M158.1 137.5 h11 M428.0 137.5 h-11 M158.1 223.8 h11 M428.0 223.8 h-11 M158.1 311.1 h11 M428.0 311.1 h-11 " stroke="#111" stroke-width="3.6" fill="none"/>
<rect x="159.5" y="53.9" width="266.7" height="289.5" fill="none" stroke="#fff" stroke-width="2.1"/>
<g clip-path="url(#cF)">
<rect x="150.0" y="40.0" width="290.0" height="320.0" fill="#000086"/>
<path d="M150.0 305.5 C151.6 298.4 156.0 305.2 159.7 305.5 C163.4 305.8 168.0 306.1 172.1 307.3 C176.2 308.5 180.7 310.5 184.5 312.6 C188.3 314.7 192.2 319.7 195.1 319.7 C198.0 319.7 199.2 314.4 202.2 312.6 C205.1 310.8 208.7 309.4 212.8 309.1 C216.9 308.8 223.4 310.9 227.0 310.9 C230.6 310.9 232.3 309.4 234.1 309.1 C235.9 308.8 237.3 302.6 238.0 309.1 C238.7 315.6 252.7 341.5 238.0 348.0 C223.3 354.5 164.7 355.1 150.0 348.0 C135.3 340.9 148.4 312.6 150.0 305.5Z" fill="#0030ff" filter="url(#b2)"/>
<path d="M151.0 314.0 C152.3 308.3 153.3 313.0 159.0 314.0 C164.7 315.0 178.8 318.0 185.0 320.0 C191.2 322.0 192.5 326.0 196.0 326.0 C199.5 326.0 199.3 321.5 206.0 320.0 C212.7 318.5 229.7 317.5 236.0 317.0 C242.3 316.5 242.7 311.8 244.0 317.0 C245.3 322.2 259.5 342.8 244.0 348.0 C228.5 353.2 166.5 353.7 151.0 348.0 C135.5 342.3 149.7 319.7 151.0 314.0Z" fill="#00b4ff" filter="url(#b3)"/>
<path d="M151.0 322.0 C152.3 317.7 153.3 321.0 159.0 322.0 C164.7 323.0 178.8 326.2 185.0 328.0 C191.2 329.8 192.5 333.0 196.0 333.0 C199.5 333.0 199.3 329.2 206.0 328.0 C212.7 326.8 229.7 326.3 236.0 326.0 C242.3 325.7 242.7 322.3 244.0 326.0 C245.3 329.7 259.5 344.3 244.0 348.0 C228.5 351.7 166.5 352.3 151.0 348.0 C135.5 343.7 149.7 326.3 151.0 322.0Z" fill="#24f0dc" filter="url(#b3)"/>
<path d="M151.0 331.0 C152.3 328.2 153.3 330.2 159.0 331.0 C164.7 331.8 178.8 334.7 185.0 336.0 C191.2 337.3 192.5 339.0 196.0 339.0 C199.5 339.0 199.3 336.8 206.0 336.0 C212.7 335.2 229.7 334.3 236.0 334.0 C242.3 333.7 242.7 331.7 244.0 334.0 C245.3 336.3 259.5 345.7 244.0 348.0 C228.5 350.3 166.5 350.8 151.0 348.0 C135.5 345.2 149.7 333.8 151.0 331.0Z" fill="#78ff8c" filter="url(#b3)"/>
<path d="M360.0 206.0 C361.1 182.3 364.9 207.0 366.9 206.0 C368.9 205.0 370.4 201.1 372.2 199.8 C374.0 198.5 375.1 197.7 377.5 198.0 C379.9 198.3 383.1 201.0 386.3 201.6 C389.6 202.2 394.6 200.4 397.0 201.6 C399.4 202.8 399.0 207.2 400.5 208.7 C402.0 210.2 404.0 207.4 405.8 210.4 C407.6 213.4 409.3 222.9 411.1 226.4 C412.9 229.9 414.4 230.2 416.5 231.7 C418.6 233.2 421.2 234.6 423.5 235.2 C425.8 235.8 428.9 216.4 430.0 235.2 C431.1 254.0 441.7 329.2 430.0 348.0 C418.3 366.8 371.7 371.7 360.0 348.0 C348.3 324.3 358.9 229.7 360.0 206.0Z" fill="#0040ff" filter="url(#b2)"/>
<path d="M354.0 210.0 C355.3 187.0 356.8 210.0 362.0 210.0 C367.2 210.0 378.7 209.0 385.0 210.0 C391.3 211.0 395.5 212.3 400.0 216.0 C404.5 219.7 407.7 228.0 412.0 232.0 C416.3 236.0 422.3 238.7 426.0 240.0 C429.7 241.3 432.7 222.0 434.0 240.0 C435.3 258.0 447.3 330.0 434.0 348.0 C420.7 366.0 367.3 371.0 354.0 348.0 C340.7 325.0 352.7 233.0 354.0 210.0Z" fill="#00c8ff" filter="url(#b2_5)"/>
<path d="M354.0 217.0 C355.3 195.2 356.8 216.7 362.0 217.0 C367.2 217.3 378.7 217.7 385.0 219.0 C391.3 220.3 395.5 222.0 400.0 225.0 C404.5 228.0 407.7 234.0 412.0 237.0 C416.3 240.0 422.3 242.0 426.0 243.0 C429.7 244.0 432.7 225.5 434.0 243.0 C435.3 260.5 447.3 330.5 434.0 348.0 C420.7 365.5 367.3 369.8 354.0 348.0 C340.7 326.2 352.7 238.8 354.0 217.0Z" fill="#70ff90" filter="url(#b2_5)"/>
<path d="M354.0 222.0 C355.3 201.0 356.8 221.5 362.0 222.0 C367.2 222.5 378.7 223.5 385.0 225.0 C391.3 226.5 395.5 228.3 400.0 231.0 C404.5 233.7 407.7 238.5 412.0 241.0 C416.3 243.5 422.3 245.2 426.0 246.0 C429.7 246.8 432.7 229.0 434.0 246.0 C435.3 263.0 447.3 331.0 434.0 348.0 C420.7 365.0 367.3 369.0 354.0 348.0 C340.7 327.0 352.7 243.0 354.0 222.0Z" fill="#ffff00" filter="url(#b2_5)"/>
<path d="M354.0 231.0 C355.3 211.5 356.8 230.5 362.0 231.0 C367.2 231.5 378.7 232.5 385.0 234.0 C391.3 235.5 395.5 237.7 400.0 240.0 C404.5 242.3 407.7 246.0 412.0 248.0 C416.3 250.0 422.3 251.3 426.0 252.0 C429.7 252.7 432.7 236.0 434.0 252.0 C435.3 268.0 447.3 332.0 434.0 348.0 C420.7 364.0 367.3 367.5 354.0 348.0 C340.7 328.5 352.7 250.5 354.0 231.0Z" fill="#ff8000" filter="url(#b2_5)"/>
<path d="M354.0 240.0 C355.3 222.0 356.8 239.5 362.0 240.0 C367.2 240.5 378.7 241.7 385.0 243.0 C391.3 244.3 395.5 246.2 400.0 248.0 C404.5 249.8 407.7 252.3 412.0 254.0 C416.3 255.7 422.3 257.3 426.0 258.0 C429.7 258.7 432.7 243.0 434.0 258.0 C435.3 273.0 447.3 333.0 434.0 348.0 C420.7 363.0 367.3 366.0 354.0 348.0 C340.7 330.0 352.7 258.0 354.0 240.0Z" fill="#f00000" filter="url(#b2_5)"/>
<path d="M354.0 248.0 C355.3 231.3 356.8 247.5 362.0 248.0 C367.2 248.5 378.7 249.8 385.0 251.0 C391.3 252.2 395.5 253.5 400.0 255.0 C404.5 256.5 407.7 258.5 412.0 260.0 C416.3 261.5 422.3 263.3 426.0 264.0 C429.7 264.7 432.7 250.0 434.0 264.0 C435.3 278.0 447.3 334.0 434.0 348.0 C420.7 362.0 367.3 364.7 354.0 348.0 C340.7 331.3 352.7 264.7 354.0 248.0Z" fill="#880000" filter="url(#b2_5)"/>
<path d="M165.9 89.8 C167.7 88.5 174.9 84.9 181.0 84.5 C187.1 84.0 198.1 88.3 202.2 87.1 C206.3 85.9 203.2 79.2 205.8 77.4 C208.5 75.6 215.9 75.3 218.1 76.5 C220.3 77.7 220.2 81.7 219.0 84.5 C217.8 87.3 214.5 92.1 211.1 93.3 C207.7 94.5 203.1 91.6 198.7 91.6 C194.3 91.6 189.2 93.1 184.5 93.3 C179.8 93.4 173.4 93.1 170.3 92.5 C167.2 91.9 164.1 91.1 165.9 89.8Z" fill="#0040ff" filter="url(#b2)"/>
<ellipse cx="262.0" cy="86.0" rx="50.0" ry="10.0" fill="#0020d0" filter="url(#b8)" opacity="0.6"/>
<path d="M173.0 54.5 V346.3 M183.6 54.5 V346.3 M195.1 54.5 V346.3 M205.8 54.5 V346.3 M216.9 54.5 V346.3 M226.1 54.5 V346.3 M233.2 54.5 V346.3 M240.3 54.5 V346.3 M249.1 54.5 V346.3 M258.9 54.5 V346.3 M269.5 54.5 V346.3 M280.1 54.5 V346.3 M289.9 54.5 V346.3 M299.6 54.5 V346.3 M309.3 54.5 V346.3 M312.9 54.5 V346.3 M321.7 54.5 V346.3 M333.3 54.5 V346.3 M342.1 54.5 V346.3 M348.3 54.5 V346.3 M356.3 54.5 V346.3 M366.9 54.5 V346.3 M375.8 54.5 V346.3 M389.0 54.5 V346.3 M399.6 54.5 V346.3 M409.4 54.5 V346.3 " stroke="#cfcfcf" stroke-width="1.25" fill="none"/>
<path d="M311.1 255.5 L314.6 252.0 L314.6 241.3 L333.1 231.6 L344.0 231.6 L344.0 332.0 L311.1 332.0 Z" fill="#fff"/>
<path d="M343.9 123.4 L357.1 123.4 L357.1 146.0 L343.9 146.0 Z" fill="#fff"/>
</g>
</g>
<g transform="translate(621.8,353.0)">
<rect x="158.1" y="52.2" width="269.9" height="293.0" fill="#fff" stroke="#1c2020" stroke-width="4"/>
<path d="M166.6 52.2 v11 M166.6 345.2 v-10.5 M212.4 52.2 v11 M212.4 345.2 v-10.5 M258.2 52.2 v11 M258.2 345.2 v-10.5 M304.0 52.2 v11 M304.0 345.2 v-10.5 M349.8 52.2 v11 M349.8 345.2 v-10.5 M395.6 52.2 v11 M395.6 345.2 v-10.5 M158.1 137.5 h11 M428.0 137.5 h-11 M158.1 223.8 h11 M428.0 223.8 h-11 M158.1 311.1 h11 M428.0 311.1 h-11 " stroke="#111" stroke-width="3.6" fill="none"/>
<rect x="159.5" y="53.9" width="266.7" height="289.5" fill="none" stroke="#fff" stroke-width="2.1"/>
<g clip-path="url(#cG)">
<rect x="150.0" y="40.0" width="290.0" height="320.0" fill="#000086"/>
<path d="M150.0 307.3 C151.8 300.5 156.8 307.7 160.6 307.3 C164.4 306.9 169.2 304.1 173.0 304.7 C176.8 305.3 180.3 308.5 183.6 310.9 C186.8 313.2 188.9 317.3 192.5 318.8 C196.1 320.3 200.5 319.7 204.9 319.7 C209.3 319.7 215.8 320.6 219.0 318.8 C222.2 317.0 222.8 311.3 224.3 309.1 C225.8 306.9 226.7 305.2 227.9 305.5 C229.1 305.8 230.1 310.0 231.4 310.9 C232.8 311.8 235.2 304.7 236.0 310.9 C236.8 317.1 250.3 341.8 236.0 348.0 C221.7 354.2 164.3 354.8 150.0 348.0 C135.7 341.2 148.2 314.1 150.0 307.3Z" fill="#0030ff" filter="url(#b2_5)"/>
<path d="M151.0 318.0 C152.3 313.0 153.3 316.8 159.0 318.0 C164.7 319.2 176.5 323.0 185.0 325.0 C193.5 327.0 201.5 329.5 210.0 330.0 C218.5 330.5 230.3 328.3 236.0 328.0 C241.7 327.7 242.7 324.7 244.0 328.0 C245.3 331.3 259.5 344.7 244.0 348.0 C228.5 351.3 166.5 353.0 151.0 348.0 C135.5 343.0 149.7 323.0 151.0 318.0Z" fill="#00a8ff" filter="url(#b3)"/>
<path d="M151.0 328.0 C152.3 324.7 153.3 327.0 159.0 328.0 C164.7 329.0 176.5 332.0 185.0 334.0 C193.5 336.0 201.5 339.0 210.0 340.0 C218.5 341.0 230.3 340.0 236.0 340.0 C241.7 340.0 242.7 338.7 244.0 340.0 C245.3 341.3 259.5 346.7 244.0 348.0 C228.5 349.3 166.5 351.3 151.0 348.0 C135.5 344.7 149.7 331.3 151.0 328.0Z" fill="#20e8e8" filter="url(#b3)"/>
<path d="M147.0 338.0 C148.3 336.3 149.5 337.3 155.0 338.0 C160.5 338.7 172.5 340.3 180.0 342.0 C187.5 343.7 195.3 347.0 200.0 348.0 C204.7 349.0 206.7 348.0 208.0 348.0 C209.3 348.0 218.2 348.0 208.0 348.0 C197.8 348.0 157.2 349.7 147.0 348.0 C136.8 346.3 145.7 339.7 147.0 338.0Z" fill="#74ff90" filter="url(#b3)"/>
<path d="M360.0 207.8 C361.1 184.4 365.0 208.1 366.9 207.8 C368.8 207.5 369.7 205.7 371.3 206.0 C372.9 206.3 374.8 207.7 376.6 209.5 C378.4 211.3 379.2 215.8 381.9 216.6 C384.5 217.3 389.6 215.2 392.5 214.0 C395.4 212.8 397.5 209.5 399.6 209.5 C401.7 209.5 403.1 211.8 404.9 214.0 C406.7 216.2 408.1 220.5 410.2 222.8 C412.3 225.2 415.1 226.5 417.3 228.1 C419.5 229.7 421.4 231.8 423.5 232.6 C425.6 233.3 428.9 213.4 430.0 232.6 C431.1 251.8 441.7 328.8 430.0 348.0 C418.3 367.2 371.7 371.4 360.0 348.0 C348.3 324.6 358.9 231.2 360.0 207.8Z" fill="#0040ff" filter="url(#b3)"/>
<path d="M354.0 221.0 C355.3 199.8 356.8 220.5 362.0 221.0 C367.2 221.5 378.7 223.5 385.0 224.0 C391.3 224.5 395.5 223.0 400.0 224.0 C404.5 225.0 407.7 227.7 412.0 230.0 C416.3 232.3 422.3 236.7 426.0 238.0 C429.7 239.3 432.7 219.7 434.0 238.0 C435.3 256.3 447.3 329.7 434.0 348.0 C420.7 366.3 367.3 369.2 354.0 348.0 C340.7 326.8 352.7 242.2 354.0 221.0Z" fill="#00d0ff" filter="url(#b3)"/>
<path d="M362.0 243.0 C364.1 233.9 371.2 243.8 374.8 245.4 C378.4 247.0 380.8 248.7 383.7 252.5 C386.6 256.3 389.9 265.2 392.5 268.4 C395.1 271.6 397.2 272.2 399.6 271.9 C402.0 271.6 404.9 270.7 406.7 266.6 C408.5 262.5 407.8 250.1 410.2 247.2 C412.6 244.2 417.6 248.6 420.9 248.9 C424.2 249.2 428.5 240.5 430.0 249.0 C431.5 257.5 441.3 291.5 430.0 300.0 C418.7 308.5 373.3 309.5 362.0 300.0 C350.7 290.5 359.9 252.1 362.0 243.0Z" fill="#ffff00" filter="url(#b2)"/>
<path d="M362.0 249.0 C364.1 240.9 371.2 249.8 374.8 251.4 C378.4 253.0 380.8 254.9 383.7 258.5 C386.6 262.1 389.9 270.1 392.5 273.0 C395.1 275.9 397.2 276.3 399.6 276.0 C402.0 275.7 404.8 274.8 406.7 271.0 C408.6 267.2 408.8 255.9 411.2 253.2 C413.6 250.5 417.8 254.6 420.9 254.9 C424.0 255.2 428.5 247.5 430.0 255.0 C431.5 262.5 441.3 292.5 430.0 300.0 C418.7 307.5 373.3 308.5 362.0 300.0 C350.7 291.5 359.9 257.1 362.0 249.0Z" fill="#ff4000" filter="url(#b2_5)"/>
<path d="M362.0 262.0 C364.1 247.7 371.0 262.5 374.8 264.0 C378.6 265.5 382.1 268.5 385.0 271.0 C387.9 273.5 390.1 277.3 392.5 279.0 C394.9 280.7 397.2 281.2 399.6 281.0 C402.0 280.8 404.5 280.2 406.7 278.0 C408.9 275.8 410.6 270.0 413.0 268.0 C415.4 266.0 418.1 266.3 420.9 266.0 C423.7 265.7 428.5 252.0 430.0 266.0 C431.5 280.0 441.3 336.0 430.0 350.0 C418.7 364.0 373.3 364.7 362.0 350.0 C350.7 335.3 359.9 276.3 362.0 262.0Z" fill="#880000" filter="url(#b2_5)"/>
<ellipse cx="183.6" cy="89.8" rx="5.0" ry="5.0" fill="#0040ff" filter="url(#b1_5)"/>
<path d="M339.4 56.0 C339.7 60.2 339.8 68.1 340.7 72.0 C341.6 75.9 342.9 79.2 344.7 79.2 C346.6 79.2 349.1 74.5 351.8 72.1 C354.5 69.7 357.5 67.1 360.7 65.0 C364.0 62.9 368.7 60.9 371.3 59.7 C374.0 58.5 375.8 60.0 376.6 57.9 C377.4 55.8 382.4 48.8 376.2 47.0 C370.0 45.2 345.3 45.5 339.2 47.0 C333.1 48.5 339.2 51.8 339.4 56.0Z" fill="#0078ff" filter="url(#b2_5)"/>
<ellipse cx="345.2" cy="59.0" rx="4.0" ry="6.0" fill="#30a8ff" filter="url(#b2)"/>
<path d="M378.4 65.0 C378.8 68.0 382.2 71.2 383.7 73.9 C385.2 76.5 385.4 79.9 387.2 80.9 C389.0 81.9 392.5 81.6 394.3 80.1 C396.1 78.6 397.0 74.9 397.9 72.1 C398.8 69.3 398.1 65.3 399.6 63.2 C401.1 61.1 407.3 61.0 406.7 59.7 C406.1 58.4 400.4 55.9 396.1 55.3 C391.9 54.7 384.2 54.4 381.2 56.0 C378.3 57.6 378.0 62.0 378.4 65.0Z" fill="#0088ff" filter="url(#b2)"/>
<ellipse cx="389.9" cy="69.4" rx="5.0" ry="6.0" fill="#30e0d0" filter="url(#b2)"/>
<ellipse cx="389.9" cy="69.4" rx="2.2" ry="2.6" fill="#f0f040" filter="url(#b1_5)"/>
<ellipse cx="230.0" cy="100.0" rx="50.0" ry="14.0" fill="#0024d8" filter="url(#b8)" opacity="0.6"/>
<ellipse cx="395.0" cy="120.0" rx="30.0" ry="60.0" fill="#0018c0" filter="url(#b12)" opacity="0.5"/>
<path d="M173.0 54.5 V346.3 M183.6 54.5 V346.3 M195.1 54.5 V346.3 M205.8 54.5 V346.3 M216.9 54.5 V346.3 M226.1 54.5 V346.3 M233.2 54.5 V346.3 M240.3 54.5 V346.3 M249.1 54.5 V346.3 M258.9 54.5 V346.3 M269.5 54.5 V346.3 M280.1 54.5 V346.3 M289.9 54.5 V346.3 M299.6 54.5 V346.3 M309.3 54.5 V346.3 M312.9 54.5 V346.3 M321.7 54.5 V346.3 M333.3 54.5 V346.3 M342.1 54.5 V346.3 M348.3 54.5 V346.3 M356.3 54.5 V346.3 M366.9 54.5 V346.3 M375.8 54.5 V346.3 M389.0 54.5 V346.3 M399.6 54.5 V346.3 M409.4 54.5 V346.3 " stroke="#cfcfcf" stroke-width="1.25" fill="none"/>
<path d="M312.9 322.0 L312.9 257.0 L314.5 251.0 L317.5 246.2 L321.5 243.2 L326.0 242.0 L330.5 243.0 L334.0 246.5 L342.0 250.0 L342.0 322.0 Z" fill="#fff"/>
</g>
</g>
<g transform="translate(932.7,353.0)">
<rect x="156.7" y="52.2" width="270.7" height="293.0" fill="#fff" stroke="#111" stroke-width="4"/>
<path d="M166.6 52.2 v11 M166.6 345.2 v-10.5 M212.4 52.2 v11 M212.4 345.2 v-10.5 M258.2 52.2 v11 M258.2 345.2 v-10.5 M304.0 52.2 v11 M304.0 345.2 v-10.5 M349.8 52.2 v11 M349.8 345.2 v-10.5 M395.6 52.2 v11 M395.6 345.2 v-10.5 M156.7 137.5 h11 M427.4 137.5 h-11 M156.7 223.8 h11 M427.4 223.8 h-11 M156.7 311.1 h11 M427.4 311.1 h-11 " stroke="#111" stroke-width="3.6" fill="none"/>
<g clip-path="url(#cH)">
<rect x="150.0" y="40.0" width="290.0" height="320.0" fill="#000086"/>
<path d="M287.0 48.0 C282.7 52.0 287.5 67.0 289.0 72.0 C290.5 77.0 293.5 77.3 296.0 78.0 C298.5 78.7 301.8 74.7 304.0 76.0 C306.2 77.3 307.5 86.7 309.0 86.0 C310.5 85.3 312.0 78.3 313.0 72.0 C314.0 65.7 319.3 52.0 315.0 48.0 C310.7 44.0 291.3 44.0 287.0 48.0Z" fill="#1060ff" filter="url(#b2_5)"/>
<path d="M331.0 48.0 C318.0 51.7 331.5 64.7 333.0 70.0 C334.5 75.3 337.5 77.7 340.0 80.0 C342.5 82.3 345.8 81.3 348.0 84.0 C350.2 86.7 351.7 86.7 353.0 96.0 C354.3 105.3 354.7 132.7 356.0 140.0 C357.3 147.3 359.8 145.0 361.0 140.0 C362.2 135.0 361.8 118.7 363.0 110.0 C364.2 101.3 365.8 93.0 368.0 88.0 C370.2 83.0 373.3 82.0 376.0 80.0 C378.7 78.0 382.0 78.3 384.0 76.0 C386.0 73.7 385.3 68.3 388.0 66.0 C390.7 63.7 396.2 63.7 400.0 62.0 C403.8 60.3 409.2 58.3 411.0 56.0 C412.8 53.7 424.3 49.3 411.0 48.0 C397.7 46.7 344.0 44.3 331.0 48.0Z" fill="#38b4ff" filter="url(#b2_5)"/>
<ellipse cx="362.0" cy="62.0" rx="18.0" ry="8.0" fill="#50e8f0" filter="url(#b3)"/>
<ellipse cx="374.0" cy="61.5" rx="6.0" ry="3.5" fill="#d0f060" filter="url(#b2)"/>
<ellipse cx="300.0" cy="58.0" rx="9.0" ry="7.0" fill="#2890ff" filter="url(#b3)"/>
<path d="M362.0 215.0 C363.7 209.3 367.0 208.8 372.0 206.0 C377.0 203.2 385.5 198.3 392.0 198.0 C398.5 197.7 407.8 197.0 411.0 204.0 C414.2 211.0 419.2 234.0 411.0 240.0 C402.8 246.0 370.2 244.2 362.0 240.0 C353.8 235.8 360.3 220.7 362.0 215.0Z" fill="#0038ff" filter="url(#b4)"/>
<path d="M354.0 234.0 C355.3 215.0 358.0 235.3 362.0 234.0 C366.0 232.7 373.0 228.0 378.0 226.0 C383.0 224.0 387.8 221.8 392.0 222.0 C396.2 222.2 399.3 224.3 403.0 227.0 C406.7 229.7 410.8 236.2 414.0 238.0 C417.2 239.8 420.7 219.7 422.0 238.0 C423.3 256.3 433.3 329.7 422.0 348.0 C410.7 366.3 365.3 367.0 354.0 348.0 C342.7 329.0 352.7 253.0 354.0 234.0Z" fill="#00c8ff" filter="url(#b2_5)"/>
<path d="M354.0 240.0 C355.3 222.0 358.0 241.2 362.0 240.0 C366.0 238.8 373.0 235.0 378.0 233.0 C383.0 231.0 387.8 228.2 392.0 228.0 C396.2 227.8 399.3 229.5 403.0 232.0 C406.7 234.5 410.8 241.2 414.0 243.0 C417.2 244.8 420.7 225.5 422.0 243.0 C423.3 260.5 433.3 330.5 422.0 348.0 C410.7 365.5 365.3 366.0 354.0 348.0 C342.7 330.0 352.7 258.0 354.0 240.0Z" fill="#70ff90" filter="url(#b2_5)"/>
<path d="M354.0 244.0 C355.3 226.7 358.0 245.0 362.0 244.0 C366.0 243.0 373.0 239.8 378.0 238.0 C383.0 236.2 387.8 233.2 392.0 233.0 C396.2 232.8 399.3 234.7 403.0 237.0 C406.7 239.3 410.8 245.3 414.0 247.0 C417.2 248.7 420.7 230.2 422.0 247.0 C423.3 263.8 433.3 331.2 422.0 348.0 C410.7 364.8 365.3 365.3 354.0 348.0 C342.7 330.7 352.7 261.3 354.0 244.0Z" fill="#ffff00" filter="url(#b2_5)"/>
<path d="M354.0 249.0 C355.3 232.5 358.0 249.8 362.0 249.0 C366.0 248.2 373.0 245.7 378.0 244.0 C383.0 242.3 387.8 239.2 392.0 239.0 C396.2 238.8 399.3 240.8 403.0 243.0 C406.7 245.2 410.8 250.5 414.0 252.0 C417.2 253.5 420.7 236.0 422.0 252.0 C423.3 268.0 433.3 332.0 422.0 348.0 C410.7 364.0 365.3 364.5 354.0 348.0 C342.7 331.5 352.7 265.5 354.0 249.0Z" fill="#ff2000" filter="url(#b2_5)"/>
<path d="M354.0 257.0 C355.3 241.8 358.0 257.7 362.0 257.0 C366.0 256.3 373.0 254.2 378.0 253.0 C383.0 251.8 387.8 250.0 392.0 250.0 C396.2 250.0 399.3 251.5 403.0 253.0 C406.7 254.5 410.8 258.0 414.0 259.0 C417.2 260.0 420.7 244.2 422.0 259.0 C423.3 273.8 433.3 333.2 422.0 348.0 C410.7 362.8 365.3 363.2 354.0 348.0 C342.7 332.8 352.7 272.2 354.0 257.0Z" fill="#880000" filter="url(#b2_5)"/>
<path d="M240.3 54.5 V346.3 M249.1 54.5 V346.3 M258.9 54.5 V346.3 M269.5 54.5 V346.3 M280.1 54.5 V346.3 M289.9 54.5 V346.3 M299.6 54.5 V346.3 M309.3 54.5 V346.3 M312.9 54.5 V346.3 M321.7 54.5 V346.3 M333.3 54.5 V346.3 M342.1 54.5 V346.3 M348.3 54.5 V346.3 M356.3 54.5 V346.3 M366.9 54.5 V346.3 M375.8 54.5 V346.3 M389.0 54.5 V346.3 M399.6 54.5 V346.3 " stroke="#cfcfcf" stroke-width="1.25" fill="none"/>
<path d="M310.2 256.5 L314.6 256.5 L314.6 240.5 L342.0 240.5 L342.0 336.0 L310.2 336.0 Z" fill="#fff"/>
<path d="M343.2 122.6 L357.6 122.6 L357.6 146.0 L343.2 146.0 Z" fill="#fff"/>
<path d="M345.8 107.0 L349.4 107.0 L349.4 124.0 L345.8 124.0 Z" fill="#fff"/>
</g>
</g>
<g transform="translate(0.0,707.3)">
<rect x="156.8" y="49.3" width="269.3" height="295.9" fill="#fff" stroke="#111" stroke-width="4"/>
<path d="M166.6 49.3 v11 M166.6 345.2 v-10.5 M212.4 49.3 v11 M212.4 345.2 v-10.5 M258.2 49.3 v11 M258.2 345.2 v-10.5 M304.0 49.3 v11 M304.0 345.2 v-10.5 M349.8 49.3 v11 M349.8 345.2 v-10.5 M395.6 49.3 v11 M395.6 345.2 v-10.5 M156.8 137.5 h11 M426.1 137.5 h-11 M156.8 223.8 h11 M426.1 223.8 h-11 M156.8 311.1 h11 M426.1 311.1 h-11 " stroke="#111" stroke-width="3.6" fill="none"/>
<rect x="158.6" y="51.1" width="265.8" height="292.4" fill="none" stroke="#fff" stroke-width="2.1"/>
<g clip-path="url(#cI)">
<rect x="158.0" y="52.6" width="204.0" height="294.7" fill="url(#gI0)"/>
<rect x="158.0" y="52.6" width="74.0" height="294.7" fill="url(#gI1)"/>
<rect x="330.0" y="52.6" width="94.0" height="294.7" fill="url(#gI2)" mask="url(#mR)"/>
<path d="M385.0 56.0 C386.2 59.3 389.4 58.8 392.0 60.0 C394.6 61.2 397.8 63.3 400.5 63.5 C403.2 63.7 406.2 61.1 408.5 61.2 C410.8 61.3 412.3 62.8 414.5 64.0 C416.7 65.2 419.9 67.6 421.8 68.3 C423.7 69.0 425.3 73.0 426.0 68.3 C426.7 63.6 432.8 44.7 426.0 40.0 C419.2 35.3 391.8 37.3 385.0 40.0 C378.2 42.7 383.8 52.7 385.0 56.0Z" fill="#3c7cf4" filter="url(#b1_5)"/>
<path d="M173.0 53.6 V346.3 M183.6 53.6 V346.3 M195.1 53.6 V346.3 M205.8 53.6 V346.3 M216.9 53.6 V346.3 M226.1 53.6 V346.3 M233.2 53.6 V346.3 M240.3 53.6 V346.3 M249.1 53.6 V346.3 M258.9 53.6 V346.3 M269.5 53.6 V346.3 M280.1 53.6 V346.3 M289.9 53.6 V346.3 M299.6 53.6 V346.3 M309.3 53.6 V346.3 M312.9 53.6 V346.3 M321.7 53.6 V346.3 M333.3 53.6 V346.3 M342.1 53.6 V346.3 M348.3 53.6 V346.3 M356.3 53.6 V346.3 M366.9 53.6 V346.3 M375.8 53.6 V346.3 M389.0 53.6 V346.3 M399.6 53.6 V346.3 M409.4 53.6 V346.3 " stroke="#b6b4b8" stroke-width="1.25" fill="none"/>
<path d="M310.2 257.3 L313.8 257.3 L313.8 243.1 L342.0 243.1 L342.0 336.0 L310.2 336.0 Z" fill="#fff"/>
<path d="M374.0 308.6 L388.1 308.6 L388.1 348.0 L374.0 348.0 Z" fill="#fff"/>
<path d="M343.0 126.0 L356.5 126.0 L356.5 146.0 L343.0 146.0 Z" fill="#fff"/>
</g>
</g>
<g transform="translate(310.9,707.3)">
<rect x="158.1" y="49.3" width="269.9" height="295.9" fill="#fff" stroke="#1c2020" stroke-width="4"/>
<path d="M166.6 49.3 v11 M166.6 345.2 v-10.5 M212.4 49.3 v11 M212.4 345.2 v-10.5 M258.2 49.3 v11 M258.2 345.2 v-10.5 M304.0 49.3 v11 M304.0 345.2 v-10.5 M349.8 49.3 v11 M349.8 345.2 v-10.5 M395.6 49.3 v11 M395.6 345.2 v-10.5 M158.1 137.5 h11 M428.0 137.5 h-11 M158.1 223.8 h11 M428.0 223.8 h-11 M158.1 311.1 h11 M428.0 311.1 h-11 " stroke="#111" stroke-width="3.6" fill="none"/>
<rect x="159.5" y="51.1" width="266.7" height="292.4" fill="none" stroke="#fff" stroke-width="2.1"/>
<g clip-path="url(#cJ)">
<rect x="158.0" y="52.6" width="204.0" height="294.7" fill="url(#gJ0)"/>
<rect x="158.0" y="52.6" width="74.0" height="294.7" fill="url(#gJ1)"/>
<rect x="330.0" y="52.6" width="94.0" height="294.7" fill="url(#gJ2)" mask="url(#mR)"/>
<path d="M361.9 52.0 C362.1 54.8 362.4 54.8 363.0 56.5 C363.6 58.2 364.0 61.5 365.5 62.2 C367.0 63.0 369.7 61.4 372.1 61.0 C374.5 60.6 377.5 59.7 380.0 59.6 C382.5 59.5 384.9 60.2 387.1 60.6 C389.3 61.0 391.4 61.3 393.2 61.8 C395.0 62.3 396.5 63.3 398.1 63.6 C399.7 63.9 401.3 64.1 402.7 63.6 C404.1 63.1 405.5 61.8 406.6 60.5 C407.7 59.2 408.8 57.4 409.3 56.0 C409.9 54.6 409.8 54.7 409.9 52.0 C410.0 49.3 417.9 42.0 409.9 40.0 C401.9 38.0 369.9 38.0 361.9 40.0 C353.9 42.0 361.7 49.2 361.9 52.0Z" fill="#3c80f4" filter="url(#b1_5)"/>
<path d="M173.0 53.6 V346.3 M183.6 53.6 V346.3 M195.1 53.6 V346.3 M205.8 53.6 V346.3 M216.9 53.6 V346.3 M226.1 53.6 V346.3 M233.2 53.6 V346.3 M240.3 53.6 V346.3 M249.1 53.6 V346.3 M258.9 53.6 V346.3 M269.5 53.6 V346.3 M280.1 53.6 V346.3 M289.9 53.6 V346.3 M299.6 53.6 V346.3 M309.3 53.6 V346.3 M312.9 53.6 V346.3 M321.7 53.6 V346.3 M333.3 53.6 V346.3 M342.1 53.6 V346.3 M348.3 53.6 V346.3 M356.3 53.6 V346.3 M366.9 53.6 V346.3 M375.8 53.6 V346.3 M389.0 53.6 V346.3 M399.6 53.6 V346.3 M409.4 53.6 V346.3 " stroke="#b6b4b8" stroke-width="1.25" fill="none"/>
<path d="M311.1 255.5 L314.6 252.0 L314.6 241.3 L333.1 231.6 L344.0 231.6 L344.0 332.0 L311.1 332.0 Z" fill="#fff"/>
<path d="M343.9 123.4 L357.1 123.4 L357.1 146.0 L343.9 146.0 Z" fill="#fff"/>
</g>
</g>
<g transform="translate(621.8,707.3)">
<rect x="158.1" y="49.3" width="269.9" height="295.9" fill="#fff" stroke="#1c2020" stroke-width="4"/>
<path d="M166.6 49.3 v11 M166.6 345.2 v-10.5 M212.4 49.3 v11 M212.4 345.2 v-10.5 M258.2 49.3 v11 M258.2 345.2 v-10.5 M304.0 49.3 v11 M304.0 345.2 v-10.5 M349.8 49.3 v11 M349.8 345.2 v-10.5 M395.6 49.3 v11 M395.6 345.2 v-10.5 M158.1 137.5 h11 M428.0 137.5 h-11 M158.1 223.8 h11 M428.0 223.8 h-11 M158.1 311.1 h11 M428.0 311.1 h-11 " stroke="#111" stroke-width="3.6" fill="none"/>
<rect x="159.5" y="51.1" width="266.7" height="292.4" fill="none" stroke="#fff" stroke-width="2.1"/>
<g clip-path="url(#cK)">
<rect x="158.0" y="52.6" width="204.0" height="294.7" fill="url(#gK0)"/>
<rect x="158.0" y="52.6" width="74.0" height="294.7" fill="url(#gK1)"/>
<rect x="330.0" y="52.6" width="94.0" height="294.7" fill="url(#gK2)" mask="url(#mR)"/>
<path d="M304.9 53.0 C305.2 57.0 306.1 61.0 306.7 64.0 C307.3 67.0 307.8 71.0 308.4 71.0 C309.0 71.0 309.8 67.0 310.4 64.0 C311.0 61.0 311.7 57.0 312.0 53.0 C312.3 49.0 313.2 42.2 312.0 40.0 C310.8 37.8 306.1 37.8 304.9 40.0 C303.7 42.2 304.6 49.0 304.9 53.0Z" fill="#3c7cf4"/>
<path d="M335.9 53.0 C336.1 57.7 336.6 63.4 337.2 68.0 C337.8 72.6 338.3 77.5 339.4 80.7 C340.5 83.9 342.3 86.2 343.8 86.9 C345.4 87.6 347.1 85.7 348.7 85.0 C350.3 84.3 352.1 84.0 353.6 82.5 C355.2 81.0 355.9 77.7 358.0 76.3 C360.1 74.9 363.4 74.8 366.2 74.2 C369.0 73.6 371.9 73.3 374.8 72.8 C377.7 72.3 381.1 70.9 383.7 71.0 C386.3 71.1 388.1 72.5 390.2 73.5 C392.3 74.5 394.4 75.7 396.1 77.2 C397.8 78.7 399.2 83.1 400.5 82.5 C401.8 81.9 402.7 77.4 404.0 73.6 C405.3 69.8 406.8 62.4 408.5 59.5 C410.2 56.6 412.4 57.1 414.2 56.0 C416.0 54.9 418.3 55.7 419.1 53.0 C419.9 50.3 433.0 42.2 419.1 40.0 C405.2 37.8 349.8 37.8 335.9 40.0 C322.0 42.2 335.7 48.3 335.9 53.0Z" fill="#4070f4"/>
<path d="M343.5 50.0 C333.2 51.7 342.4 58.4 344.7 60.4 C347.0 62.4 354.0 60.5 357.1 62.1 C360.2 63.7 360.9 68.6 363.3 70.1 C365.7 71.6 369.4 72.2 371.3 71.0 C373.2 69.8 369.5 64.6 374.8 63.0 C380.1 61.4 397.9 63.4 403.2 61.2 C408.5 59.0 416.6 51.9 406.7 50.0 C396.8 48.1 353.8 48.3 343.5 50.0Z" fill="#3a50fc" filter="url(#b1_5)"/>
<path d="M173.0 53.6 V346.3 M183.6 53.6 V346.3 M195.1 53.6 V346.3 M205.8 53.6 V346.3 M216.9 53.6 V346.3 M226.1 53.6 V346.3 M233.2 53.6 V346.3 M240.3 53.6 V346.3 M249.1 53.6 V346.3 M258.9 53.6 V346.3 M269.5 53.6 V346.3 M280.1 53.6 V346.3 M289.9 53.6 V346.3 M299.6 53.6 V346.3 M309.3 53.6 V346.3 M312.9 53.6 V346.3 M321.7 53.6 V346.3 M333.3 53.6 V346.3 M342.1 53.6 V346.3 M348.3 53.6 V346.3 M356.3 53.6 V346.3 M366.9 53.6 V346.3 M375.8 53.6 V346.3 M389.0 53.6 V346.3 M399.6 53.6 V346.3 M409.4 53.6 V346.3 " stroke="#b6b4b8" stroke-width="1.25" fill="none"/>
<path d="M312.9 322.0 L312.9 257.0 L314.5 251.0 L317.5 246.2 L321.5 243.2 L326.0 242.0 L330.5 243.0 L334.0 246.5 L342.0 250.0 L342.0 322.0 Z" fill="#fff"/>
</g>
</g>
<g transform="translate(932.7,707.3)">
<rect x="156.7" y="49.3" width="270.7" height="295.9" fill="#fff" stroke="#111" stroke-width="4"/>
<path d="M166.6 49.3 v11 M166.6 345.2 v-10.5 M212.4 49.3 v11 M212.4 345.2 v-10.5 M258.2 49.3 v11 M258.2 345.2 v-10.5 M304.0 49.3 v11 M304.0 345.2 v-10.5 M349.8 49.3 v11 M349.8 345.2 v-10.5 M395.6 49.3 v11 M395.6 345.2 v-10.5 M156.7 137.5 h11 M427.4 137.5 h-11 M156.7 223.8 h11 M427.4 223.8 h-11 M156.7 311.1 h11 M427.4 311.1 h-11 " stroke="#111" stroke-width="3.6" fill="none"/>
<g clip-path="url(#cL)">
<rect x="158.0" y="52.6" width="204.0" height="294.7" fill="url(#gL0)"/>
<rect x="330.0" y="52.6" width="94.0" height="294.7" fill="url(#gL1)" mask="url(#mR)"/>
<path d="M234.8 58.0 C235.4 61.5 236.9 60.2 238.3 61.0 C239.6 61.8 240.9 63.0 242.9 63.0 C244.8 63.0 247.9 61.0 250.0 61.2 C252.1 61.4 253.5 63.1 255.3 64.0 C257.1 64.9 257.9 66.8 260.6 66.6 C263.2 66.4 268.0 64.5 271.2 63.0 C274.5 61.5 278.0 57.5 280.1 57.7 C282.2 57.9 282.6 61.9 283.8 64.0 C285.0 66.1 286.1 68.2 287.2 70.1 C288.4 72.0 288.6 74.2 290.7 75.4 C292.8 76.6 297.7 75.9 299.6 77.2 C301.5 78.5 301.4 80.9 302.3 83.0 C303.2 85.1 303.9 87.9 304.9 89.6 C305.9 91.3 307.2 93.7 308.4 93.1 C309.6 92.5 310.8 89.5 312.0 86.0 C313.2 82.5 314.4 75.7 315.5 71.9 C316.6 68.1 317.8 65.7 318.8 63.0 C319.8 60.3 320.9 55.8 321.7 55.5 C322.5 55.2 323.1 59.1 323.8 61.0 C324.5 62.9 324.5 64.2 326.1 66.6 C327.7 69.0 330.5 72.8 333.2 75.4 C335.9 78.1 339.7 81.5 342.1 82.5 C344.5 83.5 345.9 80.1 347.4 81.6 C348.9 83.1 349.7 86.4 350.9 91.3 C352.1 96.2 353.3 104.6 354.5 110.8 C355.7 117.0 357.1 124.4 358.0 128.5 C358.9 132.6 359.1 136.2 359.8 135.6 C360.5 135.0 361.2 129.7 362.4 125.0 C363.6 120.3 364.6 112.9 366.8 107.3 C369.0 101.7 372.5 95.9 375.7 91.3 C379.0 86.7 382.8 83.2 386.3 79.8 C389.8 76.4 393.6 73.2 396.9 71.0 C400.1 68.8 403.8 68.4 405.8 66.6 C407.8 64.8 408.2 62.0 408.8 60.0 C409.4 58.0 409.2 57.8 409.3 54.5 C409.4 51.2 438.4 42.4 409.3 40.0 C380.2 37.6 263.9 37.0 234.8 40.0 C205.7 43.0 234.2 54.5 234.8 58.0Z" fill="url(#gL2)"/>
<path d="M352.0 48.0 C344.7 50.3 354.7 57.7 356.0 62.0 C357.3 66.3 358.7 73.3 360.0 74.0 C361.3 74.7 362.0 68.3 364.0 66.0 C366.0 63.7 368.3 61.5 372.0 60.0 C375.7 58.5 381.3 57.7 386.0 57.0 C390.7 56.3 397.7 57.5 400.0 56.0 C402.3 54.5 408.0 49.3 400.0 48.0 C392.0 46.7 359.3 45.7 352.0 48.0Z" fill="#4448f4" filter="url(#b2_5)"/>
<path d="M240.3 53.6 V346.3 M249.1 53.6 V346.3 M258.9 53.6 V346.3 M269.5 53.6 V346.3 M280.1 53.6 V346.3 M289.9 53.6 V346.3 M299.6 53.6 V346.3 M309.3 53.6 V346.3 M312.9 53.6 V346.3 M321.7 53.6 V346.3 M333.3 53.6 V346.3 M342.1 53.6 V346.3 M348.3 53.6 V346.3 M356.3 53.6 V346.3 M366.9 53.6 V346.3 M375.8 53.6 V346.3 M389.0 53.6 V346.3 M399.6 53.6 V346.3 " stroke="#b6b4b8" stroke-width="1.25" fill="none"/>
<path d="M310.2 256.5 L314.6 256.5 L314.6 240.5 L342.0 240.5 L342.0 336.0 L310.2 336.0 Z" fill="#fff"/>
<path d="M343.2 122.6 L357.6 122.6 L357.6 146.0 L343.2 146.0 Z" fill="#fff"/>
<path d="M345.8 107.0 L349.4 107.0 L349.4 124.0 L345.8 124.0 Z" fill="#fff"/>
</g>
</g>
<g transform="translate(0.0,1060.1)">
<rect x="156.8" y="52.8" width="269.3" height="292.4" fill="#fff" stroke="#111" stroke-width="4"/>
<path d="M166.6 52.8 v11 M166.6 345.2 v-10.5 M212.4 52.8 v11 M212.4 345.2 v-10.5 M258.2 52.8 v11 M258.2 345.2 v-10.5 M304.0 52.8 v11 M304.0 345.2 v-10.5 M349.8 52.8 v11 M349.8 345.2 v-10.5 M395.6 52.8 v11 M395.6 345.2 v-10.5 M156.8 137.5 h11 M426.1 137.5 h-11 M156.8 223.8 h11 M426.1 223.8 h-11 M156.8 311.1 h11 M426.1 311.1 h-11 " stroke="#111" stroke-width="3.6" fill="none"/>
<rect x="158.6" y="54.6" width="265.8" height="288.9" fill="none" stroke="#fff" stroke-width="2.1"/>
<g clip-path="url(#cM)">
<rect x="150.0" y="40.0" width="290.0" height="320.0" fill="#f6fbf4"/>
<path d="M376.0 56.5 C377.5 59.2 382.3 55.4 385.0 56.0 C387.7 56.6 389.4 58.8 392.0 60.0 C394.6 61.2 397.8 63.3 400.5 63.5 C403.2 63.7 406.2 61.1 408.5 61.2 C410.8 61.3 412.3 62.8 414.5 64.0 C416.7 65.2 419.9 67.6 421.8 68.3 C423.7 69.0 425.3 73.0 426.0 68.3 C426.7 63.6 434.3 44.7 426.0 40.0 C417.7 35.3 384.3 37.2 376.0 40.0 C367.7 42.8 374.5 53.8 376.0 56.5Z" fill="#9adf9a" filter="url(#b1_5)"/>
<path d="M345.0 60.0 C357.3 54.3 410.8 57.7 424.0 66.0 C437.2 74.3 436.3 104.3 424.0 110.0 C411.7 115.7 363.2 108.3 350.0 100.0 C336.8 91.7 332.7 65.7 345.0 60.0Z" fill="#d4f0d2" filter="url(#b8)" opacity="0.8"/>
<rect x="359.8" y="119.6" width="18.7" height="1.6" fill="#bfeabd" filter="url(#b1_5)"/>
<rect x="366.8" y="95.7" width="14.3" height="1.6" fill="#bfeabd" filter="url(#b1_5)"/>
<rect x="389.8" y="115.6" width="9.3" height="1.6" fill="#bfeabd" filter="url(#b1_5)"/>
<rect x="353.6" y="118.8" width="14.1" height="1.6" fill="#bfeabd" filter="url(#b1_5)"/>
<rect x="396.2" y="62.1" width="14.2" height="1.6" fill="#bfeabd" filter="url(#b1_5)"/>
<rect x="393.8" y="77.6" width="21.2" height="1.6" fill="#bfeabd" filter="url(#b1_5)"/>
<rect x="404.3" y="64.1" width="8.4" height="1.6" fill="#bfeabd" filter="url(#b1_5)"/>
<rect x="383.4" y="125.9" width="13.3" height="1.6" fill="#bfeabd" filter="url(#b1_5)"/>
<rect x="364.6" y="90.7" width="8.4" height="1.6" fill="#bfeabd" filter="url(#b1_5)"/>
<rect x="364.9" y="91.8" width="14.9" height="1.6" fill="#bfeabd" filter="url(#b1_5)"/>
<rect x="365.5" y="77.7" width="11.1" height="1.6" fill="#bfeabd" filter="url(#b1_5)"/>
<rect x="378.7" y="81.7" width="8.3" height="1.6" fill="#bfeabd" filter="url(#b1_5)"/>
<rect x="400.6" y="99.8" width="17.0" height="1.6" fill="#bfeabd" filter="url(#b1_5)"/>
<rect x="362.8" y="129.5" width="20.0" height="1.6" fill="#bfeabd" filter="url(#b1_5)"/>
<path d="M173.0 55.1 V346.3 M183.6 55.1 V346.3 M195.1 55.1 V346.3 M205.8 55.1 V346.3 M216.9 55.1 V346.3 M226.1 55.1 V346.3 M233.2 55.1 V346.3 M240.3 55.1 V346.3 M249.1 55.1 V346.3 M258.9 55.1 V346.3 M269.5 55.1 V346.3 M280.1 55.1 V346.3 M289.9 55.1 V346.3 M299.6 55.1 V346.3 M309.3 55.1 V346.3 M312.9 55.1 V346.3 M321.7 55.1 V346.3 M333.3 55.1 V346.3 M342.1 55.1 V346.3 M348.3 55.1 V346.3 M356.3 55.1 V346.3 M366.9 55.1 V346.3 M375.8 55.1 V346.3 M389.0 55.1 V346.3 M399.6 55.1 V346.3 M409.4 55.1 V346.3 " stroke="#b4b4b4" stroke-width="1.25" fill="none"/>
<path d="M310.2 257.3 L313.8 257.3 L313.8 243.1 L342.0 243.1 L342.0 336.0 L310.2 336.0 Z" fill="#fff"/>
<path d="M374.0 308.6 L388.1 308.6 L388.1 348.0 L374.0 348.0 Z" fill="#fff"/>
<path d="M343.0 126.0 L356.5 126.0 L356.5 146.0 L343.0 146.0 Z" fill="#fff"/>
</g>
</g>
<g transform="translate(310.9,1060.1)">
<rect x="158.1" y="52.8" width="269.9" height="292.4" fill="#fff" stroke="#1c2020" stroke-width="4"/>
<path d="M166.6 52.8 v11 M166.6 345.2 v-10.5 M212.4 52.8 v11 M212.4 345.2 v-10.5 M258.2 52.8 v11 M258.2 345.2 v-10.5 M304.0 52.8 v11 M304.0 345.2 v-10.5 M349.8 52.8 v11 M349.8 345.2 v-10.5 M395.6 52.8 v11 M395.6 345.2 v-10.5 M158.1 137.5 h11 M428.0 137.5 h-11 M158.1 223.8 h11 M428.0 223.8 h-11 M158.1 311.1 h11 M428.0 311.1 h-11 " stroke="#111" stroke-width="3.6" fill="none"/>
<rect x="159.5" y="54.6" width="266.7" height="288.9" fill="none" stroke="#fff" stroke-width="2.1"/>
<g clip-path="url(#cN)">
<rect x="150.0" y="40.0" width="290.0" height="320.0" fill="#f6fbf4"/>
<path d="M361.9 52.0 C362.1 54.8 362.4 54.8 363.0 56.5 C363.6 58.2 364.0 61.5 365.5 62.2 C367.0 63.0 369.7 61.4 372.1 61.0 C374.5 60.6 377.5 59.7 380.0 59.6 C382.5 59.5 384.9 60.2 387.1 60.6 C389.3 61.0 391.4 61.3 393.2 61.8 C395.0 62.3 396.5 63.3 398.1 63.6 C399.7 63.9 401.3 64.1 402.7 63.6 C404.1 63.1 405.5 61.8 406.6 60.5 C407.7 59.2 408.8 57.4 409.3 56.0 C409.9 54.6 409.8 54.7 409.9 52.0 C410.0 49.3 417.9 42.0 409.9 40.0 C401.9 38.0 369.9 38.0 361.9 40.0 C353.9 42.0 361.7 49.2 361.9 52.0Z" fill="#8cdc8c" filter="url(#b1_5)"/>
<path d="M320.0 60.0 C335.7 46.7 406.7 45.0 424.0 60.0 C441.3 75.0 439.7 136.7 424.0 150.0 C408.3 163.3 347.3 155.0 330.0 140.0 C312.7 125.0 304.3 73.3 320.0 60.0Z" fill="#d8f2d6" filter="url(#b8)" opacity="0.8"/>
<rect x="406.5" y="154.9" width="8.8" height="1.6" fill="#c4ecc2" filter="url(#b1_5)"/>
<rect x="336.8" y="143.9" width="18.3" height="1.6" fill="#c4ecc2" filter="url(#b1_5)"/>
<rect x="383.6" y="92.2" width="16.5" height="1.6" fill="#c4ecc2" filter="url(#b1_5)"/>
<rect x="378.5" y="119.0" width="10.2" height="1.6" fill="#c4ecc2" filter="url(#b1_5)"/>
<rect x="364.5" y="100.6" width="18.1" height="1.6" fill="#c4ecc2" filter="url(#b1_5)"/>
<rect x="409.6" y="155.0" width="15.6" height="1.6" fill="#c4ecc2" filter="url(#b1_5)"/>
<rect x="365.6" y="88.3" width="8.5" height="1.6" fill="#c4ecc2" filter="url(#b1_5)"/>
<rect x="332.2" y="107.6" width="12.5" height="1.6" fill="#c4ecc2" filter="url(#b1_5)"/>
<rect x="360.4" y="149.4" width="15.4" height="1.6" fill="#c4ecc2" filter="url(#b1_5)"/>
<rect x="374.8" y="85.1" width="8.3" height="1.6" fill="#c4ecc2" filter="url(#b1_5)"/>
<rect x="356.0" y="75.4" width="15.1" height="1.6" fill="#c4ecc2" filter="url(#b1_5)"/>
<rect x="409.9" y="128.1" width="10.5" height="1.6" fill="#c4ecc2" filter="url(#b1_5)"/>
<rect x="401.5" y="140.1" width="18.3" height="1.6" fill="#c4ecc2" filter="url(#b1_5)"/>
<rect x="402.5" y="136.8" width="19.1" height="1.6" fill="#c4ecc2" filter="url(#b1_5)"/>
<rect x="358.3" y="158.1" width="21.5" height="1.6" fill="#c4ecc2" filter="url(#b1_5)"/>
<rect x="342.9" y="135.9" width="18.0" height="1.6" fill="#c4ecc2" filter="url(#b1_5)"/>
<rect x="366.9" y="114.0" width="14.9" height="1.6" fill="#c4ecc2" filter="url(#b1_5)"/>
<rect x="404.0" y="111.1" width="19.6" height="1.6" fill="#c4ecc2" filter="url(#b1_5)"/>
<path d="M173.0 55.1 V346.3 M183.6 55.1 V346.3 M195.1 55.1 V346.3 M205.8 55.1 V346.3 M216.9 55.1 V346.3 M226.1 55.1 V346.3 M233.2 55.1 V346.3 M240.3 55.1 V346.3 M249.1 55.1 V346.3 M258.9 55.1 V346.3 M269.5 55.1 V346.3 M280.1 55.1 V346.3 M289.9 55.1 V346.3 M299.6 55.1 V346.3 M309.3 55.1 V346.3 M312.9 55.1 V346.3 M321.7 55.1 V346.3 M333.3 55.1 V346.3 M342.1 55.1 V346.3 M348.3 55.1 V346.3 M356.3 55.1 V346.3 M366.9 55.1 V346.3 M375.8 55.1 V346.3 M389.0 55.1 V346.3 M399.6 55.1 V346.3 M409.4 55.1 V346.3 " stroke="#b4b4b4" stroke-width="1.25" fill="none"/>
<path d="M311.1 255.5 L314.6 252.0 L314.6 241.3 L333.1 231.6 L344.0 231.6 L344.0 332.0 L311.1 332.0 Z" fill="#fff"/>
<path d="M343.9 123.4 L357.1 123.4 L357.1 146.0 L343.9 146.0 Z" fill="#fff"/>
</g>
</g>
<g transform="translate(621.8,1060.1)">
<rect x="158.1" y="52.8" width="269.9" height="292.4" fill="#fff" stroke="#1c2020" stroke-width="4"/>
<path d="M166.6 52.8 v11 M166.6 345.2 v-10.5 M212.4 52.8 v11 M212.4 345.2 v-10.5 M258.2 52.8 v11 M258.2 345.2 v-10.5 M304.0 52.8 v11 M304.0 345.2 v-10.5 M349.8 52.8 v11 M349.8 345.2 v-10.5 M395.6 52.8 v11 M395.6 345.2 v-10.5 M158.1 137.5 h11 M428.0 137.5 h-11 M158.1 223.8 h11 M428.0 223.8 h-11 M158.1 311.1 h11 M428.0 311.1 h-11 " stroke="#111" stroke-width="3.6" fill="none"/>
<rect x="159.5" y="54.6" width="266.7" height="288.9" fill="none" stroke="#fff" stroke-width="2.1"/>
<g clip-path="url(#cO)">
<rect x="150.0" y="40.0" width="290.0" height="320.0" fill="#f6fbf4"/>
<path d="M335.9 53.0 C336.1 57.7 336.6 63.4 337.2 68.0 C337.8 72.6 338.3 77.5 339.4 80.7 C340.5 83.9 342.3 86.2 343.8 86.9 C345.4 87.6 347.1 85.7 348.7 85.0 C350.3 84.3 352.1 84.0 353.6 82.5 C355.2 81.0 355.9 77.7 358.0 76.3 C360.1 74.9 363.4 74.8 366.2 74.2 C369.0 73.6 371.9 73.3 374.8 72.8 C377.7 72.3 381.1 70.9 383.7 71.0 C386.3 71.1 388.1 72.5 390.2 73.5 C392.3 74.5 394.4 75.7 396.1 77.2 C397.8 78.7 399.2 83.1 400.5 82.5 C401.8 81.9 402.7 77.4 404.0 73.6 C405.3 69.8 406.8 62.4 408.5 59.5 C410.2 56.6 412.4 57.1 414.2 56.0 C416.0 54.9 418.3 55.7 419.1 53.0 C419.9 50.3 433.0 42.2 419.1 40.0 C405.2 37.8 349.8 37.8 335.9 40.0 C322.0 42.2 335.7 48.3 335.9 53.0Z" fill="#8fdc8f" filter="url(#b1_5)"/>
<path d="M304.9 53.0 C305.2 57.0 306.1 61.0 306.7 64.0 C307.3 67.0 307.8 71.0 308.4 71.0 C309.0 71.0 309.8 67.0 310.4 64.0 C311.0 61.0 311.7 57.0 312.0 53.0 C312.3 49.0 313.2 42.2 312.0 40.0 C310.8 37.8 306.1 37.8 304.9 40.0 C303.7 42.2 304.6 49.0 304.9 53.0Z" fill="#a8e4a8" filter="url(#b1)"/>
<path d="M318.0 52.0 C335.3 42.3 406.3 39.0 424.0 52.0 C441.7 65.0 441.3 120.3 424.0 130.0 C406.7 139.7 337.7 123.0 320.0 110.0 C302.3 97.0 300.7 61.7 318.0 52.0Z" fill="#cdeeca" filter="url(#b8)" opacity="0.9"/>
<path d="M380.0 50.0 C385.7 46.0 416.7 46.7 424.0 50.0 C431.3 53.3 429.7 66.0 424.0 70.0 C418.3 74.0 397.3 77.3 390.0 74.0 C382.7 70.7 374.3 54.0 380.0 50.0Z" fill="#5fd05f" filter="url(#b4)" opacity="0.8"/>
<rect x="341.4" y="128.5" width="13.2" height="1.6" fill="#b8e8b6" filter="url(#b1_5)"/>
<rect x="374.4" y="135.1" width="8.9" height="1.6" fill="#b8e8b6" filter="url(#b1_5)"/>
<rect x="321.2" y="152.0" width="11.6" height="1.6" fill="#b8e8b6" filter="url(#b1_5)"/>
<rect x="341.1" y="164.7" width="14.6" height="1.6" fill="#b8e8b6" filter="url(#b1_5)"/>
<rect x="395.3" y="123.1" width="16.9" height="1.6" fill="#b8e8b6" filter="url(#b1_5)"/>
<rect x="333.6" y="135.8" width="20.2" height="1.6" fill="#b8e8b6" filter="url(#b1_5)"/>
<rect x="367.1" y="144.3" width="17.4" height="1.6" fill="#b8e8b6" filter="url(#b1_5)"/>
<rect x="325.8" y="145.7" width="16.3" height="1.6" fill="#b8e8b6" filter="url(#b1_5)"/>
<rect x="347.1" y="87.5" width="20.1" height="1.6" fill="#b8e8b6" filter="url(#b1_5)"/>
<rect x="362.5" y="142.5" width="20.3" height="1.6" fill="#b8e8b6" filter="url(#b1_5)"/>
<rect x="384.3" y="158.7" width="13.5" height="1.6" fill="#b8e8b6" filter="url(#b1_5)"/>
<rect x="392.1" y="120.6" width="21.1" height="1.6" fill="#b8e8b6" filter="url(#b1_5)"/>
<rect x="399.1" y="92.8" width="9.9" height="1.6" fill="#b8e8b6" filter="url(#b1_5)"/>
<rect x="339.5" y="162.2" width="14.1" height="1.6" fill="#b8e8b6" filter="url(#b1_5)"/>
<rect x="376.4" y="109.1" width="15.1" height="1.6" fill="#b8e8b6" filter="url(#b1_5)"/>
<rect x="354.7" y="113.1" width="16.2" height="1.6" fill="#b8e8b6" filter="url(#b1_5)"/>
<rect x="372.6" y="157.3" width="17.5" height="1.6" fill="#b8e8b6" filter="url(#b1_5)"/>
<rect x="403.6" y="153.5" width="21.9" height="1.6" fill="#b8e8b6" filter="url(#b1_5)"/>
<path d="M173.0 55.1 V346.3 M183.6 55.1 V346.3 M195.1 55.1 V346.3 M205.8 55.1 V346.3 M216.9 55.1 V346.3 M226.1 55.1 V346.3 M233.2 55.1 V346.3 M240.3 55.1 V346.3 M249.1 55.1 V346.3 M258.9 55.1 V346.3 M269.5 55.1 V346.3 M280.1 55.1 V346.3 M289.9 55.1 V346.3 M299.6 55.1 V346.3 M309.3 55.1 V346.3 M312.9 55.1 V346.3 M321.7 55.1 V346.3 M333.3 55.1 V346.3 M342.1 55.1 V346.3 M348.3 55.1 V346.3 M356.3 55.1 V346.3 M366.9 55.1 V346.3 M375.8 55.1 V346.3 M389.0 55.1 V346.3 M399.6 55.1 V346.3 M409.4 55.1 V346.3 " stroke="#b4b4b4" stroke-width="1.25" fill="none"/>
<path d="M312.9 322.0 L312.9 257.0 L314.5 251.0 L317.5 246.2 L321.5 243.2 L326.0 242.0 L330.5 243.0 L334.0 246.5 L342.0 250.0 L342.0 322.0 Z" fill="#fff"/>
</g>
</g>
<g transform="translate(932.7,1060.1)">
<rect x="156.7" y="52.8" width="270.7" height="292.4" fill="#fff" stroke="#111" stroke-width="4"/>
<path d="M166.6 52.8 v11 M166.6 345.2 v-10.5 M212.4 52.8 v11 M212.4 345.2 v-10.5 M258.2 52.8 v11 M258.2 345.2 v-10.5 M304.0 52.8 v11 M304.0 345.2 v-10.5 M349.8 52.8 v11 M349.8 345.2 v-10.5 M395.6 52.8 v11 M395.6 345.2 v-10.5 M156.7 137.5 h11 M427.4 137.5 h-11 M156.7 223.8 h11 M427.4 223.8 h-11 M156.7 311.1 h11 M427.4 311.1 h-11 " stroke="#111" stroke-width="3.6" fill="none"/>
<g clip-path="url(#cP)">
<rect x="150.0" y="40.0" width="290.0" height="320.0" fill="#f6fbf4"/>
<path d="M234.8 58.0 C235.4 61.5 236.9 60.2 238.3 61.0 C239.6 61.8 240.9 63.0 242.9 63.0 C244.8 63.0 247.9 61.0 250.0 61.2 C252.1 61.4 253.5 63.1 255.3 64.0 C257.1 64.9 257.9 66.8 260.6 66.6 C263.2 66.4 268.0 64.5 271.2 63.0 C274.5 61.5 278.0 57.5 280.1 57.7 C282.2 57.9 282.6 61.9 283.8 64.0 C285.0 66.1 286.1 68.2 287.2 70.1 C288.4 72.0 288.6 74.2 290.7 75.4 C292.8 76.6 297.7 75.9 299.6 77.2 C301.5 78.5 301.4 80.9 302.3 83.0 C303.2 85.1 303.9 87.9 304.9 89.6 C305.9 91.3 307.2 93.7 308.4 93.1 C309.6 92.5 310.8 89.5 312.0 86.0 C313.2 82.5 314.4 75.7 315.5 71.9 C316.6 68.1 317.8 65.7 318.8 63.0 C319.8 60.3 320.9 55.8 321.7 55.5 C322.5 55.2 323.1 59.1 323.8 61.0 C324.5 62.9 324.5 64.2 326.1 66.6 C327.7 69.0 330.5 72.8 333.2 75.4 C335.9 78.1 339.7 81.5 342.1 82.5 C344.5 83.5 345.9 80.1 347.4 81.6 C348.9 83.1 349.7 86.4 350.9 91.3 C352.1 96.2 353.3 104.6 354.5 110.8 C355.7 117.0 357.1 124.4 358.0 128.5 C358.9 132.6 359.1 136.2 359.8 135.6 C360.5 135.0 361.2 129.7 362.4 125.0 C363.6 120.3 364.6 112.9 366.8 107.3 C369.0 101.7 372.5 95.9 375.7 91.3 C379.0 86.7 382.8 83.2 386.3 79.8 C389.8 76.4 393.6 73.2 396.9 71.0 C400.1 68.8 403.8 68.4 405.8 66.6 C407.8 64.8 408.2 62.0 408.8 60.0 C409.4 58.0 409.2 57.8 409.3 54.5 C409.4 51.2 438.4 42.4 409.3 40.0 C380.2 37.6 263.9 37.0 234.8 40.0 C205.7 43.0 234.2 54.5 234.8 58.0Z" fill="#a9e5a9" filter="url(#b1_5)"/>
<path d="M322.0 48.0 C308.5 51.7 325.7 64.7 330.0 70.0 C334.3 75.3 344.2 75.7 348.0 80.0 C351.8 84.3 351.5 88.0 353.0 96.0 C354.5 104.0 355.7 125.7 357.0 128.0 C358.3 130.3 359.2 116.0 361.0 110.0 C362.8 104.0 364.8 97.0 368.0 92.0 C371.2 87.0 375.3 83.7 380.0 80.0 C384.7 76.3 390.8 73.0 396.0 70.0 C401.2 67.0 408.5 65.7 411.0 62.0 C413.5 58.3 425.8 50.3 411.0 48.0 C396.2 45.7 335.5 44.3 322.0 48.0Z" fill="#4fcf4f" filter="url(#b3)" opacity="0.9"/>
<path d="M345.0 86.0 C354.2 74.3 400.0 62.7 411.0 70.0 C422.0 77.3 420.2 118.3 411.0 130.0 C401.8 141.7 367.0 147.3 356.0 140.0 C345.0 132.7 335.8 97.7 345.0 86.0Z" fill="#d0f0ce" filter="url(#b6)" opacity="0.8"/>
<rect x="367.0" y="96.2" width="13.5" height="1.6" fill="#a8e4a6" filter="url(#b1_5)"/>
<rect x="363.9" y="94.0" width="13.6" height="1.6" fill="#a8e4a6" filter="url(#b1_5)"/>
<rect x="392.9" y="138.0" width="18.7" height="1.6" fill="#a8e4a6" filter="url(#b1_5)"/>
<rect x="366.4" y="122.2" width="11.9" height="1.6" fill="#a8e4a6" filter="url(#b1_5)"/>
<rect x="364.6" y="96.4" width="11.0" height="1.6" fill="#a8e4a6" filter="url(#b1_5)"/>
<rect x="393.2" y="139.7" width="19.3" height="1.6" fill="#a8e4a6" filter="url(#b1_5)"/>
<rect x="388.4" y="101.6" width="12.3" height="1.6" fill="#a8e4a6" filter="url(#b1_5)"/>
<rect x="381.8" y="133.9" width="20.0" height="1.6" fill="#a8e4a6" filter="url(#b1_5)"/>
<rect x="391.4" y="95.2" width="16.5" height="1.6" fill="#a8e4a6" filter="url(#b1_5)"/>
<rect x="383.5" y="120.4" width="10.5" height="1.6" fill="#a8e4a6" filter="url(#b1_5)"/>
<path d="M240.3 55.1 V346.3 M249.1 55.1 V346.3 M258.9 55.1 V346.3 M269.5 55.1 V346.3 M280.1 55.1 V346.3 M289.9 55.1 V346.3 M299.6 55.1 V346.3 M309.3 55.1 V346.3 M312.9 55.1 V346.3 M321.7 55.1 V346.3 M333.3 55.1 V346.3 M342.1 55.1 V346.3 M348.3 55.1 V346.3 M356.3 55.1 V346.3 M366.9 55.1 V346.3 M375.8 55.1 V346.3 M389.0 55.1 V346.3 M399.6 55.1 V346.3 " stroke="#b4b4b4" stroke-width="1.25" fill="none"/>
<path d="M310.2 256.5 L314.6 256.5 L314.6 240.5 L342.0 240.5 L342.0 336.0 L310.2 336.0 Z" fill="#fff"/>
<path d="M343.2 122.6 L357.6 122.6 L357.6 146.0 L343.2 146.0 Z" fill="#fff"/>
<path d="M345.8 107.0 L349.4 107.0 L349.4 124.0 L345.8 124.0 Z" fill="#fff"/>
</g>
</g>
<g transform="translate(0.0,1414.6)">
<rect x="156.8" y="50.7" width="269.3" height="294.5" fill="#fff" stroke="#111" stroke-width="4"/>
<path d="M166.6 50.7 v11 M166.6 345.2 v-10.5 M212.4 50.7 v11 M212.4 345.2 v-10.5 M258.2 50.7 v11 M258.2 345.2 v-10.5 M304.0 50.7 v11 M304.0 345.2 v-10.5 M349.8 50.7 v11 M349.8 345.2 v-10.5 M395.6 50.7 v11 M395.6 345.2 v-10.5 M156.8 137.5 h11 M426.1 137.5 h-11 M156.8 223.8 h11 M426.1 223.8 h-11 M156.8 311.1 h11 M426.1 311.1 h-11 " stroke="#111" stroke-width="3.6" fill="none"/>
<rect x="158.6" y="52.5" width="265.8" height="291.0" fill="none" stroke="#fff" stroke-width="2.1"/>
<g clip-path="url(#cQ)">
<rect x="158.0" y="52.6" width="204.0" height="294.7" fill="url(#gQ0)"/>
<path d="M150.0 115.6 C151.6 128.2 155.7 116.2 159.5 115.6 C163.3 115.0 168.0 113.4 172.7 111.8 C177.4 110.2 183.2 107.4 187.9 106.1 C192.6 104.8 197.9 105.6 201.1 104.2 C204.2 102.8 204.6 97.6 206.8 97.6 C209.0 97.6 211.2 102.2 214.3 104.2 C217.5 106.3 222.5 110.5 225.7 109.9 C228.9 109.3 230.8 104.2 233.3 100.4 C235.8 96.6 238.3 90.5 240.8 87.2 C243.3 83.9 245.9 80.9 248.4 80.6 C250.9 80.3 253.5 83.0 256.0 85.3 C258.5 87.7 260.8 92.2 263.6 94.7 C266.4 97.2 269.9 98.8 273.0 100.4 C276.1 102.0 279.7 104.2 282.5 104.2 C285.3 104.2 287.2 103.6 290.0 100.4 C292.8 97.3 296.0 90.0 299.5 85.3 C303.0 80.6 306.8 74.8 310.9 72.0 C315.0 69.2 320.2 68.8 324.1 68.3 C328.0 67.8 331.2 69.1 334.5 69.2 C337.8 69.3 340.6 70.5 344.0 69.0 C347.4 67.5 353.0 63.5 355.0 60.0 C357.0 56.5 355.8 51.3 356.0 48.0 C356.2 44.7 390.3 41.3 356.0 40.0 C321.7 38.7 184.3 27.4 150.0 40.0 C115.7 52.6 148.4 103.0 150.0 115.6Z" fill="url(#gQ1)" filter="url(#b1_5)"/>
<ellipse cx="195.0" cy="78.0" rx="55.0" ry="12.0" fill="#44f094" filter="url(#b7)" opacity="0.9"/>
<rect x="330.0" y="52.6" width="94.0" height="294.7" fill="url(#gQ3)" mask="url(#mR)"/>
<ellipse cx="392.0" cy="100.0" rx="22.0" ry="16.0" fill="#fb8c2c" filter="url(#b8)" opacity="0.8"/>
<path d="M385.0 56.0 C386.2 59.3 389.4 58.8 392.0 60.0 C394.6 61.2 397.8 63.3 400.5 63.5 C403.2 63.7 406.2 61.1 408.5 61.2 C410.8 61.3 412.3 62.8 414.5 64.0 C416.7 65.2 419.9 67.6 421.8 68.3 C423.7 69.0 425.3 73.0 426.0 68.3 C426.7 63.6 432.8 44.7 426.0 40.0 C419.2 35.3 391.8 37.3 385.0 40.0 C378.2 42.7 383.8 52.7 385.0 56.0Z" fill="#fa902c" filter="url(#b1_5)"/>
<path d="M150.0 280.3 C151.9 269.0 157.3 279.4 161.4 280.3 C165.5 281.3 171.1 285.7 174.6 286.0 C178.1 286.3 180.5 281.6 182.2 282.2 C183.8 282.8 183.6 286.9 184.5 289.4 C185.4 291.9 185.8 294.8 187.9 297.4 C190.0 300.0 194.2 303.3 197.3 304.9 C200.5 306.5 203.7 304.9 206.8 306.8 C210.0 308.7 213.7 316.3 216.2 316.3 C218.7 316.3 219.4 309.7 221.9 306.8 C224.4 304.0 228.2 301.3 231.4 299.2 C234.6 297.2 238.3 293.6 240.8 294.5 C243.3 295.4 244.3 301.9 246.5 304.9 C248.7 307.9 251.2 309.7 254.1 312.5 C256.9 315.3 260.8 318.2 263.6 322.0 C266.4 325.8 269.9 330.9 271.1 335.2 C272.4 339.5 291.3 345.9 271.1 348.0 C250.9 350.1 170.2 359.3 150.0 348.0 C129.8 336.7 148.1 291.6 150.0 280.3Z" fill="#c8e430" filter="url(#b3)"/>
<path d="M150.0 296.0 C154.2 288.3 166.7 299.3 175.0 302.0 C183.3 304.7 190.5 308.3 200.0 312.0 C209.5 315.7 226.7 318.0 232.0 324.0 C237.3 330.0 245.7 344.0 232.0 348.0 C218.3 352.0 163.7 356.7 150.0 348.0 C136.3 339.3 145.8 303.7 150.0 296.0Z" fill="#5ce084" filter="url(#b3)"/>
<path d="M150.0 314.0 C154.2 309.0 166.7 316.2 175.0 318.0 C183.3 319.8 190.5 322.8 200.0 325.0 C209.5 327.2 226.7 327.2 232.0 331.0 C237.3 334.8 245.7 345.2 232.0 348.0 C218.3 350.8 163.7 353.7 150.0 348.0 C136.3 342.3 145.8 319.0 150.0 314.0Z" fill="#30c4e0" filter="url(#b2_5)"/>
<path d="M150.0 323.0 C154.2 319.5 166.7 325.5 175.0 327.0 C183.3 328.5 190.5 330.5 200.0 332.0 C209.5 333.5 226.7 333.3 232.0 336.0 C237.3 338.7 245.7 346.0 232.0 348.0 C218.3 350.0 163.7 352.2 150.0 348.0 C136.3 343.8 145.8 326.5 150.0 323.0Z" fill="#3c54d4" filter="url(#b2_5)"/>
<path d="M150.0 333.0 C158.3 331.3 186.3 336.7 200.0 338.0 C213.7 339.3 226.7 339.3 232.0 341.0 C237.3 342.7 245.7 346.8 232.0 348.0 C218.3 349.2 163.7 350.5 150.0 348.0 C136.3 345.5 141.7 334.7 150.0 333.0Z" fill="#34289a" filter="url(#b2)"/>
<path d="M173.0 53.6 V346.3 M183.6 53.6 V346.3 M195.1 53.6 V346.3 M205.8 53.6 V346.3 M216.9 53.6 V346.3 M226.1 53.6 V346.3 M233.2 53.6 V346.3 M240.3 53.6 V346.3 M249.1 53.6 V346.3 M258.9 53.6 V346.3 M269.5 53.6 V346.3 M280.1 53.6 V346.3 M289.9 53.6 V346.3 M299.6 53.6 V346.3 M309.3 53.6 V346.3 M312.9 53.6 V346.3 M321.7 53.6 V346.3 M333.3 53.6 V346.3 M342.1 53.6 V346.3 M348.3 53.6 V346.3 M356.3 53.6 V346.3 M366.9 53.6 V346.3 M375.8 53.6 V346.3 M389.0 53.6 V346.3 M399.6 53.6 V346.3 M409.4 53.6 V346.3 " stroke="#b6b4b8" stroke-width="1.25" fill="none"/>
<path d="M310.2 257.3 L313.8 257.3 L313.8 243.1 L342.0 243.1 L342.0 336.0 L310.2 336.0 Z" fill="#fff"/>
<path d="M374.0 308.6 L388.1 308.6 L388.1 348.0 L374.0 348.0 Z" fill="#fff"/>
<path d="M343.0 126.0 L356.5 126.0 L356.5 146.0 L343.0 146.0 Z" fill="#fff"/>
</g>
</g>
<g transform="translate(310.9,1414.6)">
<rect x="158.1" y="50.7" width="269.9" height="294.5" fill="#fff" stroke="#1c2020" stroke-width="4"/>
<path d="M166.6 50.7 v11 M166.6 345.2 v-10.5 M212.4 50.7 v11 M212.4 345.2 v-10.5 M258.2 50.7 v11 M258.2 345.2 v-10.5 M304.0 50.7 v11 M304.0 345.2 v-10.5 M349.8 50.7 v11 M349.8 345.2 v-10.5 M395.6 50.7 v11 M395.6 345.2 v-10.5 M158.1 137.5 h11 M428.0 137.5 h-11 M158.1 223.8 h11 M428.0 223.8 h-11 M158.1 311.1 h11 M428.0 311.1 h-11 " stroke="#111" stroke-width="3.6" fill="none"/>
<rect x="159.5" y="52.5" width="266.7" height="291.0" fill="none" stroke="#fff" stroke-width="2.1"/>
<g clip-path="url(#cR)">
<rect x="158.0" y="52.6" width="204.0" height="294.7" fill="url(#gR0)"/>
<path d="M150.0 100.4 C151.8 110.5 157.5 100.7 160.5 100.4 C163.5 100.1 165.8 100.1 168.0 98.5 C170.2 96.9 170.5 92.6 173.7 91.0 C176.9 89.4 182.0 90.1 187.0 89.1 C192.0 88.2 200.8 87.4 204.0 85.3 C207.2 83.3 203.7 78.4 205.9 76.8 C208.1 75.2 214.4 75.0 217.2 75.8 C220.0 76.6 220.4 81.2 222.9 81.5 C225.4 81.8 229.2 77.4 232.4 77.7 C235.5 78.0 238.7 81.8 241.8 83.4 C245.0 85.0 248.5 84.4 251.3 87.2 C254.2 90.0 256.1 99.2 258.9 100.4 C261.7 101.7 264.8 97.2 268.3 94.7 C271.8 92.2 276.2 87.5 279.7 85.3 C283.2 83.1 285.6 81.2 289.1 81.5 C292.6 81.8 297.0 85.6 300.5 87.2 C304.0 88.8 307.5 88.8 310.0 91.0 C312.5 93.2 313.4 100.1 315.6 100.4 C317.8 100.7 321.3 98.9 323.2 92.9 C325.1 86.9 325.7 70.8 327.0 64.5 C328.3 58.2 329.4 54.4 330.8 55.0 C332.2 55.6 334.6 59.8 335.5 68.3 C336.4 76.8 335.4 99.2 336.5 106.1 C337.6 113.0 340.4 110.2 342.1 109.9 C343.8 109.6 345.6 109.6 346.9 104.2 C348.2 98.8 348.8 82.8 349.7 77.7 C350.6 72.7 351.6 72.3 352.5 73.9 C353.4 75.5 354.4 84.4 355.4 87.2 C356.3 90.1 357.4 96.4 358.2 91.0 C359.0 85.6 359.8 63.5 360.1 55.0 C360.4 46.5 395.1 42.5 360.1 40.0 C325.1 37.5 185.0 29.9 150.0 40.0 C115.0 50.1 148.2 90.3 150.0 100.4Z" fill="url(#gR1)" filter="url(#b1_5)"/>
<ellipse cx="185.0" cy="70.0" rx="40.0" ry="14.0" fill="#70f060" filter="url(#b8)" opacity="0.8"/>
<rect x="330.0" y="52.6" width="94.0" height="294.7" fill="url(#gR3)" mask="url(#mR)"/>
<path d="M361.9 52.0 C362.1 54.8 362.4 54.8 363.0 56.5 C363.6 58.2 364.0 61.5 365.5 62.2 C367.0 63.0 369.7 61.4 372.1 61.0 C374.5 60.6 377.5 59.7 380.0 59.6 C382.5 59.5 384.9 60.2 387.1 60.6 C389.3 61.0 391.4 61.3 393.2 61.8 C395.0 62.3 396.5 63.3 398.1 63.6 C399.7 63.9 401.3 64.1 402.7 63.6 C404.1 63.1 405.5 61.8 406.6 60.5 C407.7 59.2 408.8 57.4 409.3 56.0 C409.9 54.6 409.8 54.7 409.9 52.0 C410.0 49.3 417.9 42.0 409.9 40.0 C401.9 38.0 369.9 38.0 361.9 40.0 C353.9 42.0 361.7 49.2 361.9 52.0Z" fill="#ff6420" filter="url(#b1_5)"/>
<ellipse cx="400.0" cy="95.0" rx="26.0" ry="30.0" fill="#fb7c26" filter="url(#b9)" opacity="0.7"/>
<path d="M150.0 299.2 C151.8 291.1 156.5 298.6 160.5 299.2 C164.5 299.8 169.3 301.1 173.7 303.0 C178.1 304.9 183.5 308.4 187.0 310.6 C190.5 312.8 192.0 317.6 194.5 316.3 C197.0 315.0 199.0 305.5 202.1 303.0 C205.3 300.5 209.6 300.8 213.4 301.1 C217.2 301.4 221.3 304.0 224.8 304.9 C228.3 305.9 231.5 307.4 234.3 306.8 C237.1 306.2 239.0 302.4 241.8 301.1 C244.6 299.8 249.4 298.3 251.3 299.2 C253.2 300.2 252.9 298.7 253.2 306.8 C253.5 314.9 270.4 341.1 253.2 348.0 C236.0 354.9 167.2 356.1 150.0 348.0 C132.8 339.9 148.2 307.3 150.0 299.2Z" fill="#c4e834" filter="url(#b3)"/>
<path d="M150.0 306.0 C157.5 301.0 181.3 317.2 195.0 318.0 C208.7 318.8 225.8 306.0 232.0 311.0 C238.2 316.0 245.7 341.8 232.0 348.0 C218.3 354.2 163.7 355.0 150.0 348.0 C136.3 341.0 142.5 311.0 150.0 306.0Z" fill="#64f074" filter="url(#b3)"/>
<path d="M150.0 314.0 C151.8 308.3 156.5 314.0 160.5 314.0 C164.5 314.0 168.0 313.1 173.7 314.0 C179.4 314.9 189.1 319.3 194.5 319.6 C199.9 319.9 201.5 315.5 205.9 315.8 C210.3 316.1 216.9 320.4 221.0 321.5 C225.1 322.6 227.3 322.3 230.5 322.5 C233.7 322.7 238.4 318.2 240.0 322.5 C241.6 326.8 255.0 343.8 240.0 348.0 C225.0 352.2 165.0 353.7 150.0 348.0 C135.0 342.3 148.2 319.7 150.0 314.0Z" fill="#28c8e0" filter="url(#b2_5)"/>
<path d="M150.0 321.5 C151.8 317.1 156.5 321.5 160.5 321.5 C164.5 321.5 168.0 320.6 173.7 321.5 C179.4 322.4 189.1 326.8 194.5 327.1 C199.9 327.4 201.5 323.0 205.9 323.3 C210.3 323.6 216.9 327.9 221.0 329.0 C225.1 330.1 227.3 329.8 230.5 330.0 C233.7 330.2 238.4 327.0 240.0 330.0 C241.6 333.0 255.0 345.0 240.0 348.0 C225.0 351.0 165.0 352.4 150.0 348.0 C135.0 343.6 148.2 325.9 150.0 321.5Z" fill="#3a5ce0" filter="url(#b1_5)"/>
<path d="M150.0 337.0 C163.7 335.8 218.3 339.2 232.0 341.0 C245.7 342.8 245.7 346.8 232.0 348.0 C218.3 349.2 163.7 349.8 150.0 348.0 C136.3 346.2 136.3 338.2 150.0 337.0Z" fill="#3838a8" filter="url(#b2_5)"/>
<path d="M173.0 53.6 V346.3 M183.6 53.6 V346.3 M195.1 53.6 V346.3 M205.8 53.6 V346.3 M216.9 53.6 V346.3 M226.1 53.6 V346.3 M233.2 53.6 V346.3 M240.3 53.6 V346.3 M249.1 53.6 V346.3 M258.9 53.6 V346.3 M269.5 53.6 V346.3 M280.1 53.6 V346.3 M289.9 53.6 V346.3 M299.6 53.6 V346.3 M309.3 53.6 V346.3 M312.9 53.6 V346.3 M321.7 53.6 V346.3 M333.3 53.6 V346.3 M342.1 53.6 V346.3 M348.3 53.6 V346.3 M356.3 53.6 V346.3 M366.9 53.6 V346.3 M375.8 53.6 V346.3 M389.0 53.6 V346.3 M399.6 53.6 V346.3 M409.4 53.6 V346.3 " stroke="#b6b4b8" stroke-width="1.25" fill="none"/>
<path d="M311.1 255.5 L314.6 252.0 L314.6 241.3 L333.1 231.6 L344.0 231.6 L344.0 332.0 L311.1 332.0 Z" fill="#fff"/>
<path d="M343.9 123.4 L357.1 123.4 L357.1 146.0 L343.9 146.0 Z" fill="#fff"/>
</g>
</g>
<g transform="translate(621.8,1414.6)">
<rect x="158.1" y="50.7" width="269.9" height="294.5" fill="#fff" stroke="#1c2020" stroke-width="4"/>
<path d="M166.6 50.7 v11 M166.6 345.2 v-10.5 M212.4 50.7 v11 M212.4 345.2 v-10.5 M258.2 50.7 v11 M258.2 345.2 v-10.5 M304.0 50.7 v11 M304.0 345.2 v-10.5 M349.8 50.7 v11 M349.8 345.2 v-10.5 M395.6 50.7 v11 M395.6 345.2 v-10.5 M158.1 137.5 h11 M428.0 137.5 h-11 M158.1 223.8 h11 M428.0 223.8 h-11 M158.1 311.1 h11 M428.0 311.1 h-11 " stroke="#111" stroke-width="3.6" fill="none"/>
<rect x="159.5" y="52.5" width="266.7" height="291.0" fill="none" stroke="#fff" stroke-width="2.1"/>
<g clip-path="url(#cS)">
<rect x="158.0" y="52.6" width="204.0" height="294.7" fill="url(#gS0)"/>
<path d="M150.0 104.2 C151.8 114.9 157.7 104.5 160.5 104.2 C163.3 103.9 165.1 103.9 167.1 102.3 C169.2 100.7 169.6 95.8 172.8 94.7 C176.0 93.6 182.0 95.9 186.1 95.7 C190.2 95.6 194.6 90.8 197.4 93.8 C200.2 96.8 201.2 110.2 203.1 113.7 C205.0 117.2 207.2 116.8 208.8 114.6 C210.4 112.4 210.0 104.3 212.5 100.4 C215.0 96.5 219.5 93.5 223.9 91.0 C228.3 88.5 234.6 85.8 239.0 85.3 C243.4 84.8 248.2 86.2 250.4 88.1 C252.6 90.0 252.9 94.2 252.3 96.6 C251.7 99.0 246.0 100.7 246.6 102.3 C247.2 103.9 254.2 103.9 256.1 106.1 C258.0 108.3 256.8 115.0 258.0 115.6 C259.2 116.2 262.4 112.8 263.6 109.9 C264.9 107.1 263.0 101.3 265.5 98.5 C268.0 95.7 275.0 95.4 278.8 92.9 C282.6 90.4 285.7 84.7 288.2 83.4 C290.7 82.1 292.6 82.2 293.9 85.3 C295.2 88.5 294.9 98.8 295.8 102.3 C296.8 105.8 298.7 108.6 299.6 106.1 C300.6 103.6 301.0 95.7 301.5 87.2 C302.0 78.7 302.3 62.9 302.4 55.0 C302.6 47.1 327.8 42.5 302.4 40.0 C277.0 37.5 175.4 29.3 150.0 40.0 C124.6 50.7 148.2 93.5 150.0 104.2Z" fill="#a8ec40" filter="url(#b1_5)"/>
<ellipse cx="185.0" cy="72.0" rx="45.0" ry="22.0" fill="#68f068" filter="url(#b9)" opacity="0.9"/>
<ellipse cx="285.0" cy="70.0" rx="18.0" ry="24.0" fill="#d0e432" filter="url(#b7)" opacity="0.9"/>
<rect x="330.0" y="52.6" width="94.0" height="294.7" fill="url(#gS4)" mask="url(#mR)"/>
<path d="M300.0 48.0 C307.5 39.3 340.8 36.0 349.0 48.0 C357.2 60.0 354.2 106.3 349.0 120.0 C343.8 133.7 325.5 133.3 318.0 130.0 C310.5 126.7 307.0 113.7 304.0 100.0 C301.0 86.3 292.5 56.7 300.0 48.0Z" fill="#fb9c30" filter="url(#b6)" opacity="0.7"/>
<path d="M335.9 53.0 C336.1 57.7 336.6 63.4 337.2 68.0 C337.8 72.6 338.3 77.5 339.4 80.7 C340.5 83.9 342.3 86.2 343.8 86.9 C345.4 87.6 347.1 85.7 348.7 85.0 C350.3 84.3 352.1 84.0 353.6 82.5 C355.2 81.0 355.9 77.7 358.0 76.3 C360.1 74.9 363.4 74.8 366.2 74.2 C369.0 73.6 371.9 73.3 374.8 72.8 C377.7 72.3 381.1 70.9 383.7 71.0 C386.3 71.1 388.1 72.5 390.2 73.5 C392.3 74.5 394.4 75.7 396.1 77.2 C397.8 78.7 399.2 83.1 400.5 82.5 C401.8 81.9 402.7 77.4 404.0 73.6 C405.3 69.8 406.8 62.4 408.5 59.5 C410.2 56.6 412.4 57.1 414.2 56.0 C416.0 54.9 418.3 55.7 419.1 53.0 C419.9 50.3 433.0 42.2 419.1 40.0 C405.2 37.8 349.8 37.8 335.9 40.0 C322.0 42.2 335.7 48.3 335.9 53.0Z" fill="#f86420" filter="url(#b2)"/>
<ellipse cx="395.0" cy="82.0" rx="24.0" ry="22.0" fill="#f4581c" filter="url(#b9)" opacity="0.7"/>
<path d="M150.0 299.2 C151.8 291.1 156.4 299.2 160.5 299.2 C164.6 299.2 170.4 298.3 174.7 299.2 C179.0 300.2 182.6 302.7 186.1 304.9 C189.6 307.1 192.3 311.2 195.5 312.5 C198.7 313.8 201.5 312.8 205.0 312.5 C208.5 312.2 213.2 312.7 216.3 310.6 C219.5 308.6 221.4 301.5 223.9 300.2 C226.4 298.9 228.7 303.2 231.5 303.0 C234.3 302.8 237.8 298.6 240.9 299.2 C244.1 299.8 248.8 298.7 250.4 306.8 C252.0 314.9 267.1 341.1 250.4 348.0 C233.7 354.9 166.7 356.1 150.0 348.0 C133.3 339.9 148.2 307.3 150.0 299.2Z" fill="#c4e834" filter="url(#b3)"/>
<path d="M150.0 308.0 C157.5 303.3 180.0 319.0 195.0 320.0 C210.0 321.0 232.5 309.3 240.0 314.0 C247.5 318.7 255.0 342.3 240.0 348.0 C225.0 353.7 165.0 354.7 150.0 348.0 C135.0 341.3 142.5 312.7 150.0 308.0Z" fill="#64f074" filter="url(#b3)"/>
<path d="M150.0 318.7 C151.8 313.8 156.4 318.7 160.5 318.7 C164.6 318.7 170.4 317.9 174.7 318.7 C179.0 319.5 181.7 322.0 186.1 323.4 C190.5 324.8 196.2 326.3 201.2 327.2 C206.2 328.2 211.6 329.4 216.3 329.1 C221.0 328.8 225.7 325.9 229.6 325.3 C233.6 324.7 238.3 321.5 240.0 325.3 C241.7 329.1 255.0 344.2 240.0 348.0 C225.0 351.8 165.0 352.9 150.0 348.0 C135.0 343.1 148.2 323.6 150.0 318.7Z" fill="#28c8e0" filter="url(#b2_5)"/>
<path d="M150.0 326.2 C151.8 322.6 156.4 326.2 160.5 326.2 C164.6 326.2 170.4 325.4 174.7 326.2 C179.0 327.0 181.7 329.5 186.1 330.9 C190.5 332.3 196.2 333.8 201.2 334.7 C206.2 335.7 211.6 336.9 216.3 336.6 C221.0 336.3 225.7 333.4 229.6 332.8 C233.6 332.2 238.3 330.3 240.0 332.8 C241.7 335.3 255.0 345.5 240.0 348.0 C225.0 350.5 165.0 351.6 150.0 348.0 C135.0 344.4 148.2 329.8 150.0 326.2Z" fill="#3a5ce0" filter="url(#b1_5)"/>
<path d="M150.0 341.0 C163.7 340.5 218.3 343.8 232.0 345.0 C245.7 346.2 245.7 347.5 232.0 348.0 C218.3 348.5 163.7 349.2 150.0 348.0 C136.3 346.8 136.3 341.5 150.0 341.0Z" fill="#3838a8" filter="url(#b2_5)"/>
<path d="M173.0 53.6 V346.3 M183.6 53.6 V346.3 M195.1 53.6 V346.3 M205.8 53.6 V346.3 M216.9 53.6 V346.3 M226.1 53.6 V346.3 M233.2 53.6 V346.3 M240.3 53.6 V346.3 M249.1 53.6 V346.3 M258.9 53.6 V346.3 M269.5 53.6 V346.3 M280.1 53.6 V346.3 M289.9 53.6 V346.3 M299.6 53.6 V346.3 M309.3 53.6 V346.3 M312.9 53.6 V346.3 M321.7 53.6 V346.3 M333.3 53.6 V346.3 M342.1 53.6 V346.3 M348.3 53.6 V346.3 M356.3 53.6 V346.3 M366.9 53.6 V346.3 M375.8 53.6 V346.3 M389.0 53.6 V346.3 M399.6 53.6 V346.3 M409.4 53.6 V346.3 " stroke="#b6b4b8" stroke-width="1.25" fill="none"/>
<path d="M312.9 322.0 L312.9 257.0 L314.5 251.0 L317.5 246.2 L321.5 243.2 L326.0 242.0 L330.5 243.0 L334.0 246.5 L342.0 250.0 L342.0 322.0 Z" fill="#fff"/>
</g>
</g>
<g transform="translate(932.7,1414.6)">
<rect x="156.7" y="50.7" width="270.7" height="294.5" fill="#fff" stroke="#111" stroke-width="4"/>
<path d="M166.6 50.7 v11 M166.6 345.2 v-10.5 M212.4 50.7 v11 M212.4 345.2 v-10.5 M258.2 50.7 v11 M258.2 345.2 v-10.5 M304.0 50.7 v11 M304.0 345.2 v-10.5 M349.8 50.7 v11 M349.8 345.2 v-10.5 M395.6 50.7 v11 M395.6 345.2 v-10.5 M156.7 137.5 h11 M427.4 137.5 h-11 M156.7 223.8 h11 M427.4 223.8 h-11 M156.7 311.1 h11 M427.4 311.1 h-11 " stroke="#111" stroke-width="3.6" fill="none"/>
<g clip-path="url(#cT)">
<rect x="158.0" y="52.6" width="204.0" height="294.7" fill="url(#gT0)"/>
<rect x="330.0" y="52.6" width="94.0" height="294.7" fill="url(#gT1)" mask="url(#mR)"/>
<path d="M234.8 58.0 C235.4 61.5 236.9 60.2 238.3 61.0 C239.6 61.8 240.9 63.0 242.9 63.0 C244.8 63.0 247.9 61.0 250.0 61.2 C252.1 61.4 253.5 63.1 255.3 64.0 C257.1 64.9 257.9 66.8 260.6 66.6 C263.2 66.4 268.0 64.5 271.2 63.0 C274.5 61.5 278.0 57.5 280.1 57.7 C282.2 57.9 282.6 61.9 283.8 64.0 C285.0 66.1 286.1 68.2 287.2 70.1 C288.4 72.0 288.6 74.2 290.7 75.4 C292.8 76.6 297.7 75.9 299.6 77.2 C301.5 78.5 301.4 80.9 302.3 83.0 C303.2 85.1 303.9 87.9 304.9 89.6 C305.9 91.3 307.2 93.7 308.4 93.1 C309.6 92.5 310.8 89.5 312.0 86.0 C313.2 82.5 314.4 75.7 315.5 71.9 C316.6 68.1 317.8 65.7 318.8 63.0 C319.8 60.3 320.9 55.8 321.7 55.5 C322.5 55.2 323.1 59.1 323.8 61.0 C324.5 62.9 324.5 64.2 326.1 66.6 C327.7 69.0 330.5 72.8 333.2 75.4 C335.9 78.1 339.7 81.5 342.1 82.5 C344.5 83.5 345.9 80.1 347.4 81.6 C348.9 83.1 349.7 86.4 350.9 91.3 C352.1 96.2 353.3 104.6 354.5 110.8 C355.7 117.0 357.1 124.4 358.0 128.5 C358.9 132.6 359.1 136.2 359.8 135.6 C360.5 135.0 361.2 129.7 362.4 125.0 C363.6 120.3 364.6 112.9 366.8 107.3 C369.0 101.7 372.5 95.9 375.7 91.3 C379.0 86.7 382.8 83.2 386.3 79.8 C389.8 76.4 393.6 73.2 396.9 71.0 C400.1 68.8 403.8 68.4 405.8 66.6 C407.8 64.8 408.2 62.0 408.8 60.0 C409.4 58.0 409.2 57.8 409.3 54.5 C409.4 51.2 438.4 42.4 409.3 40.0 C380.2 37.6 263.9 37.0 234.8 40.0 C205.7 43.0 234.2 54.5 234.8 58.0Z" fill="#f97c28" filter="url(#b2)"/>
<path d="M235.3 55.4 C239.6 48.1 255.4 66.4 260.9 70.1 C266.4 73.8 267.8 73.6 268.4 77.7 C269.0 81.8 267.1 90.6 264.6 94.7 C262.1 98.8 256.4 99.8 253.3 102.3 C250.1 104.8 248.7 108.0 245.7 109.9 C242.7 111.8 237.0 122.8 235.3 113.7 C233.6 104.6 231.0 62.7 235.3 55.4Z" fill="#b4f034"/>
<path d="M272.2 79.6 C271.3 83.7 273.5 95.7 274.1 102.3 C274.7 108.9 274.4 115.9 276.0 119.4 C277.6 122.9 281.4 121.5 283.6 123.1 C285.8 124.7 287.3 129.1 289.2 128.8 C291.1 128.5 292.0 123.4 294.9 121.2 C297.7 119.0 305.0 118.8 306.3 115.6 C307.6 112.5 303.8 106.4 302.5 102.3 C301.2 98.2 301.2 93.8 298.7 91.0 C296.2 88.2 290.4 87.5 287.3 85.3 C284.1 83.1 282.3 78.7 279.8 77.7 C277.3 76.8 273.2 75.5 272.2 79.6Z" fill="#c0ee34"/>
<path d="M235.3 291.6 C236.4 288.6 239.5 287.5 241.9 287.8 C244.3 288.1 247.6 291.0 249.5 293.5 C251.4 296.0 253.9 300.7 253.3 302.9 C252.7 305.1 248.7 306.2 245.7 306.7 C242.7 307.2 237.0 308.3 235.3 305.8 C233.6 303.3 234.2 294.6 235.3 291.6Z" fill="#b8f034"/>
<ellipse cx="395.0" cy="105.0" rx="20.0" ry="30.0" fill="#f86c24" filter="url(#b9)" opacity="0.7"/>
<path d="M232.0 322.0 C237.0 319.8 252.3 331.2 262.0 335.0 C271.7 338.8 295.0 342.8 290.0 345.0 C285.0 347.2 241.7 351.8 232.0 348.0 C222.3 344.2 227.0 324.2 232.0 322.0Z" fill="#e4d838" filter="url(#b5)" opacity="0.8"/>
<path d="M240.3 53.6 V346.3 M249.1 53.6 V346.3 M258.9 53.6 V346.3 M269.5 53.6 V346.3 M280.1 53.6 V346.3 M289.9 53.6 V346.3 M299.6 53.6 V346.3 M309.3 53.6 V346.3 M312.9 53.6 V346.3 M321.7 53.6 V346.3 M333.3 53.6 V346.3 M342.1 53.6 V346.3 M348.3 53.6 V346.3 M356.3 53.6 V346.3 M366.9 53.6 V346.3 M375.8 53.6 V346.3 M389.0 53.6 V346.3 M399.6 53.6 V346.3 " stroke="#b6b4b8" stroke-width="1.25" fill="none"/>
<path d="M310.2 256.5 L314.6 256.5 L314.6 240.5 L342.0 240.5 L342.0 336.0 L310.2 336.0 Z" fill="#fff"/>
<path d="M343.2 122.6 L357.6 122.6 L357.6 146.0 L343.2 146.0 Z" fill="#fff"/>
<path d="M345.8 107.0 L349.4 107.0 L349.4 124.0 L345.8 124.0 Z" fill="#fff"/>
</g>
</g>
<g clip-path="url(#cA)" transform="translate(0.0,0.0)"><g transform="translate(0.0,-0.0)" fill="none" stroke-linejoin="round" stroke-linecap="round">
<path d="M160.3 200.1 C161.0 199.8 164.5 198.1 166.0 197.5 C167.5 196.9 171.0 194.5 173.1 195.0 C175.2 195.5 182.0 201.6 184.0 201.4 C186.0 201.2 188.7 194.5 190.0 193.0 C191.3 191.5 193.7 188.0 194.9 188.6 C196.1 189.2 198.7 195.7 200.0 198.0 C201.3 200.3 204.4 208.7 205.8 208.5 C207.2 208.3 210.7 198.4 212.0 196.0 C213.3 193.6 216.1 188.1 217.3 187.9 C218.5 187.7 220.9 192.8 222.0 194.0 C223.1 195.2 225.4 197.6 226.9 198.2 C228.4 198.8 232.8 197.4 234.6 198.8 C236.4 200.2 240.4 207.4 242.0 210.0 C243.6 212.6 247.3 221.9 248.7 221.3 C250.1 220.7 252.6 207.3 253.8 204.6 C255.0 201.9 257.6 199.3 259.0 198.0 C260.4 196.7 264.7 193.7 265.4 193.1" stroke="#fff" stroke-width="4.3" fill="none"/>
<path d="M326.9 162.3 C327.3 161.1 329.8 154.4 330.5 152.0 C331.2 149.6 332.5 142.0 333.3 141.8 C334.1 141.6 336.1 148.2 337.0 150.0 C337.9 151.8 340.3 157.2 341.0 157.2 C341.7 157.2 342.8 153.8 343.0 150.0 C343.2 146.2 342.3 130.0 342.3 125.0 C342.3 120.0 342.6 109.7 343.0 107.0 C343.4 104.3 345.2 102.3 346.0 101.5 C346.8 100.7 348.9 100.3 350.0 100.2 C351.1 100.1 353.9 100.3 355.0 100.5 C356.1 100.7 358.1 101.1 359.0 102.0 C359.9 102.9 361.7 106.6 362.5 108.0 C363.3 109.4 365.0 113.4 366.0 114.4 C367.0 115.4 369.8 116.2 371.0 116.5 C372.2 116.8 375.3 117.3 376.6 117.0 C377.9 116.7 380.8 114.2 382.0 113.5 C383.2 112.8 385.6 110.5 387.0 110.8 C388.4 111.1 392.3 114.8 394.0 116.0 C395.7 117.2 400.1 120.9 401.4 121.4 C402.7 121.9 404.5 120.9 405.5 120.5 C406.5 120.1 408.8 119.1 410.0 118.0 C411.2 116.9 414.6 112.5 416.0 111.0 C417.4 109.5 421.1 106.1 421.8 105.5" stroke="#fff" stroke-width="4.3" fill="none"/>
<path d="M368.0 53.0 C368.7 53.3 372.5 55.2 374.0 55.5 C375.5 55.8 379.7 55.8 381.0 55.5 C382.3 55.2 385.0 53.3 385.5 53.0" stroke="#fff" stroke-width="3" fill="none"/>
<path d="M230.6 53.0 C230.7 55.0 230.9 67.3 231.2 70.0 C231.5 72.7 232.0 75.7 233.0 76.5 C234.0 77.3 238.5 77.3 240.0 77.2 C241.5 77.1 245.1 77.3 246.0 75.5 C246.9 73.7 247.3 64.6 247.6 62.0 C247.9 59.4 248.2 54.0 248.3 53.0" stroke="#000" stroke-width="3.7" fill="none"/>
<path d="M367.8 54.0 C368.8 54.3 374.0 56.3 376.0 56.5 C378.0 56.7 383.1 55.6 385.0 56.0 C386.9 56.4 390.2 59.1 392.0 60.0 C393.8 60.9 398.6 63.4 400.5 63.5 C402.4 63.6 406.9 61.1 408.5 61.2 C410.1 61.3 412.9 63.2 414.5 64.0 C416.1 64.8 420.9 67.8 421.8 68.3" stroke="#000" stroke-width="3.7" fill="none"/>
</g></g>
<g clip-path="url(#cB)" transform="translate(310.9,0.0)"><g transform="translate(-310.9,-0.0)" fill="none" stroke-linejoin="round" stroke-linecap="round">
<path d="M655.6 140.0 C655.6 138.2 655.5 127.2 655.6 125.0 C655.7 122.8 655.8 122.2 656.5 121.4 C657.2 120.6 660.5 117.9 661.8 117.9 C663.1 117.9 665.9 122.0 668.0 121.4 C670.1 120.8 677.1 113.2 679.5 112.6 C681.9 112.0 685.7 117.3 688.4 116.1 C691.1 114.9 699.9 102.9 702.6 102.0 C705.3 101.1 709.8 109.0 711.4 108.2 C713.0 107.4 715.3 98.2 716.5 95.0 C717.7 91.8 720.8 82.4 722.0 80.7 C723.2 79.0 725.6 80.3 727.0 80.5 C728.4 80.7 732.8 82.3 733.6 82.5" stroke="#fff" stroke-width="4.3" fill="none"/>
<path d="M470.6 186.0 C472.5 186.1 483.5 186.6 486.6 187.0 C489.7 187.4 494.5 188.9 497.0 189.5 C499.5 190.1 505.3 192.8 507.8 192.3 C510.3 191.8 516.6 186.9 518.4 185.2 C520.2 183.5 522.4 179.7 523.5 178.0 C524.6 176.3 526.7 170.6 528.2 171.0 C529.7 171.4 534.1 179.8 536.1 181.6 C538.1 183.3 543.1 185.0 545.0 186.0 C546.9 187.0 550.7 189.8 552.0 190.5 C553.3 191.2 555.2 191.0 556.0 192.0 C556.8 193.0 557.9 200.0 559.1 199.0 C560.3 198.0 564.6 185.8 566.2 183.4 C567.8 181.0 571.3 179.1 573.0 178.0 C574.7 176.9 578.7 173.5 580.4 173.7 C582.1 173.9 586.3 178.0 587.5 179.9 C588.7 181.8 590.2 187.5 591.0 190.0 C591.8 192.5 593.8 198.7 594.6 201.0 C595.4 203.3 597.2 207.5 598.0 210.0 C598.8 212.5 600.8 224.0 601.6 222.8 C602.4 221.6 604.3 204.5 605.0 200.0 C605.7 195.5 607.4 186.6 608.0 184.0 C608.6 181.4 609.7 177.5 610.5 178.0 C611.3 178.5 614.1 185.4 615.0 188.0 C615.9 190.6 617.7 197.7 618.5 200.0 C619.3 202.3 621.1 206.7 622.0 208.0 C622.9 209.3 625.2 211.7 626.4 211.2 C627.6 210.7 630.8 205.3 632.0 204.0 C633.2 202.7 636.0 200.2 637.0 200.0 C638.0 199.8 640.3 203.2 641.0 202.0 C641.7 200.8 642.5 193.6 643.0 190.0 C643.5 186.4 644.5 172.2 645.0 171.0 C645.5 169.8 647.0 178.1 647.5 180.0 C648.0 181.9 648.9 187.2 649.5 187.0 C650.1 186.8 652.1 179.1 652.5 178.0" stroke="#fff" stroke-width="4.3" fill="none"/>
<path d="M672.5 53.0 C672.6 53.7 673.2 57.9 673.5 59.0 C673.8 60.1 674.0 61.7 675.1 62.1 C676.2 62.5 681.2 62.5 683.0 62.6 C684.8 62.7 688.3 62.8 690.2 63.0 C692.1 63.2 696.9 63.8 699.0 64.0 C701.1 64.2 706.0 65.0 707.9 64.8 C709.8 64.6 713.5 62.5 715.0 62.1 C716.5 61.7 719.3 61.6 720.5 61.5 C721.7 61.4 725.0 61.2 725.6 61.2" stroke="#000" stroke-width="3.7" fill="none"/>
<path d="M716.7 56.0 L716.7 70.0" stroke="#000" stroke-width="3.7" fill="none"/>
</g></g>
<g clip-path="url(#cC)" transform="translate(621.8,0.0)"><g transform="translate(-621.8,-0.0)" fill="none" stroke-linejoin="round" stroke-linecap="round">
<path d="M975.4 128.5 C976.2 128.3 980.6 126.0 982.5 126.8 C984.4 127.6 989.2 135.4 991.3 135.6 C993.4 135.8 997.9 130.6 1000.2 128.5 C1002.5 126.4 1008.8 118.5 1010.8 117.9 C1012.8 117.3 1015.6 121.8 1017.0 123.0 C1018.4 124.2 1021.9 128.5 1023.2 128.5 C1024.5 128.5 1027.0 124.2 1028.0 123.0 C1029.0 121.8 1031.2 119.9 1032.0 117.9 C1032.8 115.9 1034.4 108.9 1035.0 106.0 C1035.6 103.1 1036.7 96.1 1037.4 93.1 C1038.1 90.1 1040.2 82.9 1041.0 80.0 C1041.8 77.1 1044.0 69.7 1044.4 68.3" stroke="#fff" stroke-width="4.3" fill="none"/>
<path d="M782.4 187.8 C784.1 187.1 793.9 181.5 796.6 181.6 C799.3 181.7 803.1 188.9 805.4 188.7 C807.7 188.5 814.4 180.0 816.0 179.9 C817.6 179.8 818.7 185.7 819.5 188.0 C820.3 190.3 822.3 197.1 823.1 199.3 C823.9 201.5 825.3 205.8 826.0 207.0 C826.7 208.2 827.6 210.2 829.0 210.0 C830.4 209.8 835.9 206.3 838.0 205.0 C840.1 203.7 845.0 200.5 847.0 199.0 C849.0 197.5 853.2 192.3 855.0 192.0 C856.8 191.7 860.4 196.3 862.0 196.0 C863.6 195.7 867.3 190.1 869.0 189.0 C870.7 187.9 874.5 187.6 876.2 187.0 C878.0 186.4 882.1 184.6 884.0 184.0 C885.9 183.4 890.6 180.9 892.1 181.6 C893.6 182.3 896.0 187.9 897.0 190.0 C898.0 192.1 900.0 198.0 901.0 200.0 C902.0 202.0 904.6 206.5 906.0 207.0 C907.4 207.5 911.5 204.9 913.0 204.0 C914.5 203.1 917.8 199.9 919.0 199.0 C920.2 198.1 922.2 197.8 923.0 196.0 C923.8 194.2 925.3 186.8 926.0 184.0 C926.7 181.2 928.2 173.7 929.0 172.0 C929.8 170.3 931.9 168.8 932.9 169.3 C933.9 169.8 936.7 174.4 938.0 176.0 C939.3 177.6 943.0 183.3 944.4 183.4 C945.8 183.5 948.7 178.4 950.0 177.0 C951.3 175.6 954.9 170.9 955.9 171.0 C956.9 171.1 957.9 175.7 958.5 178.0 C959.1 180.3 960.6 190.0 961.2 190.5 C961.8 191.0 963.7 183.0 964.0 182.0" stroke="#fff" stroke-width="4.3" fill="none"/>
<path d="M964.8 53.5 C965.0 54.3 965.7 59.5 966.5 60.4 C967.3 61.3 970.6 61.3 972.0 61.5 C973.4 61.7 977.7 61.6 978.9 62.1 C980.1 62.6 981.3 65.1 982.0 66.0 C982.7 66.9 984.3 69.5 985.1 70.1 C985.9 70.7 988.1 71.4 989.0 71.5 C989.9 71.6 992.4 71.5 993.1 71.0 C993.8 70.5 994.6 67.9 995.0 67.0 C995.4 66.1 994.9 63.6 996.6 63.0 C998.4 62.4 1006.7 62.2 1010.0 62.0 C1013.3 61.8 1023.0 61.7 1025.0 61.2 C1027.0 60.7 1026.6 58.9 1027.0 58.0 C1027.4 57.1 1028.3 54.0 1028.5 53.5" stroke="#fff" stroke-width="3" fill="none"/>
<path d="M983.0 54.0 C983.4 54.5 985.2 57.5 986.0 58.5 C986.8 59.5 988.7 63.0 989.5 63.0 C990.3 63.0 992.1 59.5 993.0 58.5 C993.9 57.5 996.5 55.0 997.0 54.5" stroke="#fff" stroke-width="2.4" fill="none"/>
<path d="M926.7 53.0 C926.9 54.3 928.1 61.9 928.5 64.0 C928.9 66.1 929.8 71.0 930.2 71.0 C930.6 71.0 931.8 66.1 932.2 64.0 C932.6 61.9 933.6 54.3 933.8 53.0" stroke="#000" stroke-width="3.7" fill="none"/>
<path d="M957.7 53.0 C957.9 54.8 958.6 64.8 959.0 68.0 C959.4 71.2 960.4 78.5 961.2 80.7 C962.0 82.9 964.5 86.4 965.6 86.9 C966.7 87.4 969.4 85.5 970.5 85.0 C971.6 84.5 974.3 83.5 975.4 82.5 C976.5 81.5 978.3 77.3 979.8 76.3 C981.3 75.3 986.0 74.6 988.0 74.2 C990.0 73.8 994.6 73.2 996.6 72.8 C998.6 72.4 1003.7 70.9 1005.5 71.0 C1007.3 71.1 1010.6 72.8 1012.0 73.5 C1013.4 74.2 1016.7 76.2 1017.9 77.2 C1019.1 78.2 1021.4 82.9 1022.3 82.5 C1023.2 82.1 1024.9 76.3 1025.8 73.6 C1026.7 70.9 1029.1 61.6 1030.3 59.5 C1031.5 57.4 1034.8 56.8 1036.0 56.0 C1037.2 55.2 1040.3 53.4 1040.9 53.0" stroke="#000" stroke-width="3.7" fill="none"/>
</g></g>
<g clip-path="url(#cD)" transform="translate(932.7,0.0)"><g transform="translate(-932.7,-0.0)" fill="none" stroke-linejoin="round" stroke-linecap="round">
<path d="M1342.0 105.5 C1341.2 106.0 1336.6 109.0 1335.0 110.0 C1333.4 111.0 1329.5 113.2 1327.9 114.4 C1326.3 115.6 1322.4 118.6 1321.0 120.0 C1319.6 121.4 1316.6 125.3 1315.5 126.8 C1314.4 128.3 1312.3 131.6 1311.5 133.0 C1310.7 134.4 1309.2 137.5 1308.4 139.1 C1307.6 140.7 1305.3 144.8 1304.5 146.5 C1303.7 148.2 1302.1 153.0 1301.3 153.3 C1300.5 153.7 1298.3 150.3 1297.5 149.5 C1296.7 148.7 1295.0 146.8 1294.2 146.2 C1293.4 145.6 1291.1 144.7 1290.7 144.5" stroke="#fff" stroke-width="4.3" fill="none"/>
<path d="M1168.5 199.3 C1169.1 198.9 1172.8 196.8 1174.0 196.0 C1175.2 195.2 1177.8 192.5 1179.1 192.3 C1180.4 192.1 1183.8 194.1 1185.0 194.5 C1186.2 194.9 1189.2 195.8 1189.8 196.0" stroke="#fff" stroke-width="4.3" fill="none"/>
<path d="M1262.4 181.6 C1263.1 181.0 1266.8 177.7 1268.0 176.5 C1269.2 175.3 1272.1 172.6 1273.0 171.0 C1273.9 169.4 1275.2 165.4 1276.0 163.0 C1276.8 160.6 1279.1 151.5 1279.5 150.0" stroke="#fff" stroke-width="4.3" fill="none"/>
<path d="M1189.8 54.2 C1190.2 54.8 1192.3 58.9 1193.3 59.5 C1194.3 60.1 1196.8 59.2 1198.0 59.0 C1199.2 58.8 1202.7 58.1 1203.9 57.7 C1205.1 57.3 1207.2 55.9 1208.0 55.5 C1208.8 55.1 1210.7 54.4 1211.0 54.2" stroke="#fff" stroke-width="3" fill="none"/>
<path d="M1219.9 54.2 C1220.3 54.7 1222.2 57.5 1223.0 58.5 C1223.8 59.5 1226.0 62.2 1227.0 63.0 C1228.0 63.8 1230.5 65.1 1231.5 65.5 C1232.5 65.9 1234.6 66.7 1235.8 66.6 C1237.0 66.5 1240.6 65.1 1242.0 64.5 C1243.4 63.9 1247.2 62.0 1248.2 61.2 C1249.2 60.4 1250.1 58.8 1250.5 58.0 C1250.9 57.2 1251.6 54.6 1251.7 54.2" stroke="#fff" stroke-width="3" fill="none"/>
<path d="M1262.4 54.2 C1262.6 54.8 1263.4 58.0 1263.8 59.0 C1264.2 60.0 1264.9 62.3 1265.9 63.0 C1266.9 63.7 1270.6 64.6 1272.0 65.0 C1273.4 65.4 1277.1 66.0 1278.3 66.6 C1279.5 67.2 1281.2 69.5 1282.0 70.5 C1282.8 71.5 1284.6 73.8 1285.4 75.4 C1286.2 77.0 1287.9 82.1 1288.5 84.0 C1289.1 85.9 1290.2 90.0 1290.7 91.3 C1291.2 92.6 1292.0 95.1 1292.5 94.9 C1293.0 94.7 1294.4 90.7 1295.0 89.5 C1295.6 88.3 1296.9 85.5 1297.8 84.3 C1298.7 83.1 1301.8 80.5 1303.0 79.5 C1304.2 78.5 1307.1 76.2 1308.4 75.4 C1309.7 74.6 1312.8 73.1 1314.0 72.5 C1315.2 71.9 1317.7 70.8 1319.0 70.1 C1320.3 69.4 1324.1 67.3 1325.5 66.5 C1326.9 65.7 1330.2 63.7 1331.4 63.0 C1332.6 62.3 1335.0 60.9 1336.0 60.3 C1337.0 59.7 1339.8 58.0 1340.3 57.7" stroke="#fff" stroke-width="3" fill="none"/>
<path d="M1283.6 54.2 C1283.9 55.2 1285.4 60.9 1286.0 63.0 C1286.6 65.1 1288.3 70.6 1288.9 71.9 C1289.5 73.2 1290.9 74.1 1291.5 74.5 C1292.1 74.9 1293.7 75.9 1294.2 75.4 C1294.7 74.9 1295.6 71.2 1296.0 70.0 C1296.4 68.8 1296.6 65.8 1297.8 64.8 C1299.0 63.8 1303.9 62.1 1306.0 61.5 C1308.1 60.9 1313.3 59.8 1315.5 59.5 C1317.7 59.2 1322.7 58.9 1325.0 58.8 C1327.3 58.7 1333.8 58.6 1335.0 58.6" stroke="#fff" stroke-width="3" fill="none"/>
<path d="M1167.5 58.0 C1167.9 58.4 1170.1 60.4 1171.0 61.0 C1171.9 61.6 1174.2 63.0 1175.6 63.0 C1177.0 63.0 1181.3 61.1 1182.7 61.2 C1184.1 61.3 1186.8 63.4 1188.0 64.0 C1189.2 64.6 1191.4 66.7 1193.3 66.6 C1195.2 66.5 1201.6 64.0 1203.9 63.0 C1206.2 62.0 1211.3 57.6 1212.8 57.7 C1214.3 57.8 1215.7 62.6 1216.5 64.0 C1217.3 65.4 1219.1 68.8 1219.9 70.1 C1220.7 71.4 1222.0 74.6 1223.4 75.4 C1224.8 76.2 1230.9 76.3 1232.3 77.2 C1233.7 78.1 1234.4 81.6 1235.0 83.0 C1235.6 84.4 1236.9 88.4 1237.6 89.6 C1238.3 90.8 1240.3 93.5 1241.1 93.1 C1241.9 92.7 1243.9 88.5 1244.7 86.0 C1245.5 83.5 1247.4 74.6 1248.2 71.9 C1249.0 69.2 1250.8 64.9 1251.5 63.0 C1252.2 61.1 1253.8 55.7 1254.4 55.5 C1255.0 55.3 1256.0 59.7 1256.5 61.0 C1257.0 62.3 1257.7 64.9 1258.8 66.6 C1259.9 68.3 1264.0 73.5 1265.9 75.4 C1267.8 77.3 1273.1 81.8 1274.8 82.5 C1276.5 83.2 1279.1 80.6 1280.1 81.6 C1281.1 82.6 1282.8 87.9 1283.6 91.3 C1284.4 94.7 1286.4 106.5 1287.2 110.8 C1288.0 115.1 1290.1 125.6 1290.7 128.5 C1291.3 131.4 1292.0 136.0 1292.5 135.6 C1293.0 135.2 1294.3 128.3 1295.1 125.0 C1295.9 121.7 1297.9 111.2 1299.5 107.3 C1301.1 103.4 1306.1 94.5 1308.4 91.3 C1310.7 88.1 1316.5 82.2 1319.0 79.8 C1321.5 77.4 1327.3 72.5 1329.6 71.0 C1331.9 69.5 1337.1 67.9 1338.5 66.6 C1339.9 65.3 1341.1 61.4 1341.5 60.0 C1341.9 58.6 1341.9 55.1 1342.0 54.5" stroke="#000" stroke-width="3.7" fill="none"/>
</g></g>
<g clip-path="url(#cE)" transform="translate(0.0,353.0)"><g transform="translate(0.0,-353.0)" fill="none" stroke-linejoin="round" stroke-linecap="round">
<path d="M166.8 444.6 C168.0 443.7 178.3 440.0 181.9 439.3 C185.5 438.6 195.1 439.1 197.8 438.4 C200.5 437.7 203.2 433.0 204.9 433.1 C206.6 433.2 209.7 438.7 212.0 439.3 C214.3 439.9 222.2 438.1 224.4 438.4 C226.6 438.7 230.2 440.6 230.6 441.9 C231.0 443.2 229.0 449.2 227.9 449.9 C226.8 450.6 223.1 448.1 220.8 448.1 C218.5 448.1 211.5 449.7 208.4 449.9 C205.3 450.1 197.4 450.3 194.3 449.9 C191.2 449.5 184.6 446.6 181.9 446.3 C179.2 446.0 173.0 447.4 171.2 447.2 C169.4 447.0 165.6 445.5 166.8 444.6Z" stroke="#000" stroke-width="3.7" fill="none"/>
<path d="M158.0 451.3 C158.8 451.3 163.5 451.5 165.0 451.7 C166.5 451.9 170.4 452.8 171.2 453.4 C172.0 454.0 171.7 456.2 171.5 457.0 C171.3 457.8 170.3 459.9 169.5 460.5 C168.7 461.1 166.3 462.0 165.0 462.5 C163.7 463.0 158.8 464.3 158.0 464.5" stroke="#000" stroke-width="3.7" fill="none"/>
<path d="M160.6 651.5 C161.4 652.0 166.3 654.6 167.7 655.9 C169.1 657.2 171.1 662.7 173.0 663.0 C174.9 663.3 181.5 658.6 183.6 658.6 C185.7 658.6 189.5 661.8 190.7 663.0 C191.9 664.2 192.6 668.0 194.3 669.2 C196.0 670.4 202.2 672.8 204.9 673.6 C207.6 674.4 214.8 676.3 217.3 676.3 C219.8 676.3 224.5 674.5 226.1 673.6 C227.7 672.7 230.8 668.9 231.4 668.3" stroke="#000" stroke-width="3.7" fill="none"/>
<path d="M367.8 569.8 C367.9 568.9 367.5 563.2 368.7 561.8 C369.9 560.4 375.6 558.6 378.4 557.4 C381.2 556.2 389.3 552.0 392.6 551.2 C395.9 550.4 404.0 549.8 406.7 550.3 C409.4 550.8 413.7 553.7 415.6 555.6 C417.5 557.5 421.9 565.0 422.7 566.2" stroke="#000" stroke-width="3.7" fill="none"/>
</g></g>
<g clip-path="url(#cF)" transform="translate(310.9,353.0)"><g transform="translate(-310.9,-353.0)" fill="none" stroke-linejoin="round" stroke-linecap="round">
<path d="M476.8 442.8 C478.0 441.9 487.7 437.8 491.9 437.5 C496.1 437.2 510.2 440.9 513.1 440.1 C516.0 439.3 514.8 431.6 516.7 430.4 C518.6 429.2 527.5 428.7 529.0 429.5 C530.5 430.3 530.7 435.5 529.9 437.5 C529.1 439.5 524.4 445.5 522.0 446.3 C519.6 447.1 512.7 444.6 509.6 444.6 C506.5 444.6 498.7 446.2 495.4 446.3 C492.1 446.4 483.4 445.9 481.2 445.5 C479.0 445.1 475.6 443.7 476.8 442.8Z" stroke="#000" stroke-width="3.7" fill="none"/>
<path d="M469.0 453.0 C470.2 452.7 478.2 450.5 479.5 450.8 C480.8 451.1 481.6 454.4 480.4 455.2 C479.2 456.0 470.3 457.2 469.0 457.5" stroke="#000" stroke-width="3.7" fill="none"/>
<path d="M470.6 657.0 C472.0 657.2 480.1 658.0 483.0 658.8 C485.9 659.6 492.7 662.7 495.4 664.1 C498.1 665.5 503.9 671.2 506.0 671.2 C508.1 671.2 511.0 665.3 513.1 664.1 C515.2 662.9 520.8 660.8 523.7 660.6 C526.6 660.4 535.4 662.4 537.9 662.4 C540.4 662.4 544.2 660.8 545.0 660.6" stroke="#000" stroke-width="3.7" fill="none"/>
<path d="M677.8 557.0 C678.4 556.3 681.9 551.7 683.1 550.8 C684.3 549.9 686.8 548.8 688.4 549.0 C690.0 549.2 694.9 552.2 697.2 552.6 C699.5 553.0 706.2 551.8 707.9 552.6 C709.6 553.4 710.4 558.7 711.4 559.7 C712.4 560.7 715.5 559.3 716.7 561.4 C717.9 563.5 720.8 574.9 722.0 577.4 C723.2 579.9 726.0 581.7 727.4 582.7 C728.8 583.7 733.6 585.8 734.4 586.2" stroke="#000" stroke-width="3.7" fill="none"/>
<path d="M696.7 565.0 C696.7 564.4 700.5 562.4 701.7 562.4 C702.9 562.4 706.7 564.4 706.7 565.0 C706.7 565.6 702.9 567.7 701.7 567.7 C700.5 567.7 696.7 565.6 696.7 565.0Z" stroke="#000" stroke-width="2.6" fill="none"/>
</g></g>
<g clip-path="url(#cG)" transform="translate(621.8,353.0)"><g transform="translate(-621.8,-353.0)" fill="none" stroke-linejoin="round" stroke-linecap="round">
<path d="M800.4 442.8 C800.4 441.6 804.2 437.8 805.4 437.8 C806.6 437.8 810.4 441.6 810.4 442.8 C810.4 444.0 806.6 447.8 805.4 447.8 C804.2 447.8 800.4 444.0 800.4 442.8Z" stroke="#000" stroke-width="3.7" fill="none"/>
<path d="M783.0 456.5 L786.5 457.5" stroke="#000" stroke-width="4" fill="none"/>
<path d="M929.5 409.0 C929.6 410.3 929.9 417.7 930.0 420.0 C930.1 422.3 930.3 428.6 930.4 428.6 C930.5 428.6 930.9 422.3 931.0 420.0 C931.1 417.7 931.3 410.3 931.3 409.0" stroke="#000" stroke-width="3.7" fill="none"/>
<path d="M961.2 409.0 C961.4 410.5 962.3 420.1 962.5 422.0 C962.7 423.9 962.5 423.9 963.0 425.1 C963.5 426.3 965.3 432.2 966.5 432.2 C967.7 432.2 971.7 426.8 973.6 425.1 C975.5 423.4 980.2 419.4 982.5 418.0 C984.8 416.6 991.2 413.5 993.1 412.7 C995.0 411.9 997.8 411.1 998.4 410.9" stroke="#000" stroke-width="3.7" fill="none"/>
<path d="M1000.2 418.0 C1000.8 419.0 1004.5 425.0 1005.5 426.9 C1006.5 428.8 1007.8 433.2 1009.0 433.9 C1010.2 434.6 1014.9 434.1 1016.1 433.1 C1017.3 432.1 1019.1 427.1 1019.7 425.1 C1020.3 423.1 1020.4 417.6 1021.4 416.2 C1022.4 414.8 1028.9 413.6 1028.5 412.7 C1028.1 411.8 1019.1 408.8 1017.9 408.3" stroke="#000" stroke-width="3.7" fill="none"/>
<path d="M989.2 424.0 L990.0 424.4" stroke="#000" stroke-width="4" fill="none"/>
<path d="M1011.5 440.5 L1011.9 442.0" stroke="#000" stroke-width="3" fill="none"/>
<path d="M782.4 658.8 C783.8 658.5 792.1 655.8 794.8 656.2 C797.5 656.6 803.1 660.8 805.4 662.4 C807.7 664.0 811.8 669.3 814.3 670.3 C816.8 671.3 823.6 671.2 826.7 671.2 C829.8 671.2 838.5 671.5 840.8 670.3 C843.1 669.1 845.1 662.2 846.1 660.6 C847.1 659.0 848.9 656.8 849.7 657.0 C850.5 657.2 852.8 661.8 853.2 662.4" stroke="#000" stroke-width="3.7" fill="none"/>
<path d="M988.7 558.8 C989.2 558.6 992.0 556.8 993.1 557.0 C994.2 557.2 997.9 559.7 998.4 560.5 C998.9 561.3 997.9 563.0 997.5 563.5 C997.1 564.0 994.7 564.6 994.9 565.0 C995.1 565.4 998.0 566.5 999.0 566.8 C1000.0 567.1 1002.5 567.6 1003.7 567.6 C1004.9 567.6 1007.8 567.1 1009.0 566.8 C1010.2 566.5 1012.9 565.7 1014.3 565.0 C1015.7 564.3 1020.0 560.5 1021.4 560.5 C1022.8 560.5 1025.5 563.4 1026.7 565.0 C1027.9 566.6 1030.6 572.2 1032.0 573.8 C1033.4 575.4 1037.5 578.0 1039.1 579.1 C1040.7 580.2 1044.6 583.1 1045.3 583.6" stroke="#000" stroke-width="3.7" fill="none"/>
</g></g>
<g clip-path="url(#cH)" transform="translate(932.7,353.0)"><g transform="translate(-932.7,-353.0)" fill="none" stroke-linejoin="round" stroke-linecap="round">
<path d="M1218.1 409.0 C1218.5 410.9 1220.6 422.7 1221.6 425.1 C1222.6 427.5 1225.8 429.3 1227.0 429.5 C1228.2 429.7 1231.3 426.2 1232.3 426.9 C1233.3 427.6 1234.8 433.2 1235.8 435.7 C1236.8 438.2 1240.1 448.7 1241.1 448.1 C1242.1 447.5 1244.0 434.7 1244.7 430.4 C1245.4 426.1 1247.0 413.2 1247.3 410.9" stroke="#000" stroke-width="3.7" fill="none"/>
<path d="M1228.0 423.3 C1228.0 422.8 1229.9 421.0 1230.5 421.0 C1231.1 421.0 1233.0 422.8 1233.0 423.3 C1233.0 423.8 1231.1 425.7 1230.5 425.7 C1229.9 425.7 1228.0 423.8 1228.0 423.3Z" stroke="#000" stroke-width="2.4" fill="none"/>
<path d="M1264.1 409.0 C1264.3 410.9 1265.1 422.4 1265.9 425.1 C1266.7 427.8 1270.2 430.5 1271.2 432.2 C1272.2 433.9 1273.8 438.7 1274.8 439.3 C1275.8 439.9 1279.1 436.7 1280.1 437.5 C1281.1 438.3 1283.1 442.0 1283.6 446.3 C1284.1 450.6 1284.4 471.4 1284.5 474.7" stroke="#000" stroke-width="3.7" fill="none"/>
<path d="M1295.1 499.5 C1295.6 497.6 1298.8 487.4 1299.5 483.5 C1300.2 479.6 1300.7 469.9 1301.3 465.8 C1301.9 461.7 1304.1 451.6 1304.9 448.1 C1305.7 444.6 1307.0 437.6 1308.4 435.7 C1309.8 433.8 1316.1 433.4 1317.3 432.2 C1318.5 431.0 1318.2 426.3 1319.0 425.1 C1319.8 423.9 1322.4 422.0 1324.3 421.6 C1326.2 421.2 1333.1 422.2 1335.0 421.6 C1336.9 421.0 1339.7 417.6 1340.3 416.2 C1340.9 414.8 1340.3 410.0 1340.3 409.2" stroke="#000" stroke-width="3.7" fill="none"/>
<path d="M1325.5 414.0 C1325.9 413.8 1328.4 412.4 1329.0 412.5 C1329.6 412.6 1331.2 414.5 1331.0 415.0 C1330.8 415.5 1327.5 416.8 1327.0 417.0" stroke="#000" stroke-width="2.4" fill="none"/>
<path d="M1190.5 417.0 L1190.8 417.3" stroke="#000" stroke-width="4.5" fill="none"/>
<path d="M1303.1 565.0 C1303.4 564.4 1305.2 561.2 1306.0 560.0 C1306.8 558.8 1309.2 554.6 1310.2 554.3 C1311.2 554.0 1313.5 556.9 1314.5 557.5 C1315.5 558.1 1317.4 559.2 1319.0 559.7 C1320.6 560.2 1326.9 561.2 1327.9 561.4" stroke="#000" stroke-width="3.7" fill="none"/>
<path d="M1309.0 539.5 C1309.2 540.1 1310.2 543.5 1310.5 545.0 C1310.8 546.5 1311.8 551.2 1312.0 552.0" stroke="#000" stroke-width="4.5" fill="none"/>
<path d="M1326.0 556.0 C1326.8 555.6 1331.3 552.7 1333.0 552.5 C1334.7 552.3 1339.4 553.8 1340.3 554.0" stroke="#000" stroke-width="3.7" fill="none"/>
<path d="M1326.5 570.5 C1327.1 570.3 1330.8 569.5 1332.0 569.0 C1333.2 568.5 1336.4 566.8 1337.0 566.5" stroke="#000" stroke-width="4.5" fill="none"/>
<path d="M1333.0 548.0 L1336.0 549.5" stroke="#000" stroke-width="2.5" fill="none"/>
</g></g>
<g clip-path="url(#cI)" transform="translate(0.0,707.3)"><g transform="translate(0.0,-707.3)" fill="none" stroke-linejoin="round" stroke-linecap="round">
<path d="M159.5 827.7 C160.8 827.9 168.4 828.8 171.0 829.0 C173.6 829.2 179.6 830.1 182.2 829.6 C184.8 829.1 190.6 825.9 193.0 825.0 C195.4 824.1 200.8 822.2 203.0 822.1 C205.2 822.0 209.8 823.8 212.0 824.5 C214.2 825.2 219.6 826.9 221.9 827.7 C224.2 828.5 229.2 830.2 231.4 831.5 C233.6 832.8 239.2 839.4 240.8 839.1 C242.4 838.8 244.4 831.2 245.5 829.0 C246.6 826.8 249.0 820.7 250.3 820.2 C251.6 819.7 255.4 823.6 257.0 824.5 C258.6 825.4 260.6 827.3 263.6 827.7 C266.6 828.1 279.3 827.9 282.5 827.7 C285.7 827.5 289.2 826.7 291.0 826.0 C292.8 825.3 296.2 824.2 297.6 822.1 C299.0 820.0 301.9 811.3 303.0 808.0 C304.1 804.7 306.3 793.5 307.1 793.7 C307.9 793.9 309.3 806.3 310.0 810.0 C310.7 813.7 312.0 824.6 312.8 825.8 C313.6 827.0 315.6 821.6 316.5 820.5 C317.4 819.4 319.2 818.0 320.3 816.4 C321.4 814.8 324.9 810.0 326.0 806.9 C327.1 803.8 328.7 793.6 329.5 790.0 C330.3 786.4 332.0 776.3 332.6 775.7 C333.2 775.1 334.4 782.9 335.0 785.0 C335.6 787.1 336.7 791.4 337.4 793.7 C338.1 796.0 340.3 805.3 341.1 805.0 C341.9 804.7 343.3 794.1 344.0 791.0 C344.7 787.9 346.0 780.3 346.8 778.5 C347.6 776.7 349.3 775.6 350.6 775.7 C351.9 775.8 356.4 779.5 358.2 779.5 C360.0 779.5 364.6 777.6 365.7 775.7 C366.8 773.8 367.2 763.5 367.6 763.4 C368.0 763.3 369.1 772.6 369.5 775.0 C369.9 777.4 370.1 782.5 371.4 784.2 C372.7 785.9 378.0 789.0 380.9 789.9 C383.8 790.8 392.5 791.1 396.0 791.8 C399.5 792.5 408.1 795.1 411.2 795.6 C414.3 796.1 421.2 796.4 422.5 796.5" stroke="#fff" stroke-width="4.3" fill="none"/>
<path d="M342.5 838.0 C342.5 836.8 342.0 830.7 342.1 827.7 C342.2 824.7 342.5 814.7 343.0 812.6 C343.5 810.5 345.6 809.9 346.5 809.5 C347.4 809.1 349.7 808.7 350.6 808.8 C351.5 808.9 353.6 809.6 354.5 810.0 C355.4 810.4 357.2 811.5 358.2 812.6 C359.2 813.7 361.9 817.7 363.0 819.5 C364.1 821.3 366.9 826.5 367.6 827.7 C368.3 828.9 368.8 829.7 369.0 830.0" stroke="#fff" stroke-width="4.3" fill="none"/>
<path d="M402.0 832.0 C402.8 831.7 407.5 830.2 409.0 829.5 C410.5 828.8 413.4 827.3 415.0 825.8 C416.6 824.3 421.6 817.5 422.5 816.4" stroke="#fff" stroke-width="4.3" fill="none"/>
<path d="M159.5 937.5 C160.3 936.9 164.5 933.1 166.0 932.0 C167.5 930.9 171.2 927.5 172.7 928.0 C174.2 928.5 177.2 934.2 178.5 936.0 C179.8 937.8 182.8 942.9 184.1 943.2 C185.4 943.5 188.7 939.4 190.0 938.5 C191.3 937.6 194.2 934.4 195.4 935.6 C196.6 936.8 199.3 945.9 200.5 949.0 C201.7 952.1 204.7 961.5 205.8 962.1 C206.9 962.7 209.0 955.8 210.0 954.0 C211.0 952.2 213.1 949.0 214.3 947.0 C215.5 945.0 218.7 939.2 220.0 937.0 C221.3 934.8 224.1 927.9 225.7 928.0 C227.3 928.1 232.0 935.8 234.0 938.0 C236.0 940.2 240.8 946.4 242.7 947.0 C244.6 947.6 248.9 944.8 250.3 943.2 C251.7 941.6 253.9 935.2 255.0 933.0 C256.1 930.8 258.6 925.0 259.8 924.3 C261.0 923.6 264.2 926.3 265.5 927.0 C266.8 927.7 269.3 928.7 271.1 929.9 C272.9 931.1 278.9 935.9 280.6 937.5 C282.3 939.1 284.4 942.2 285.5 943.5 C286.6 944.8 289.1 949.2 290.0 948.9 C290.9 948.6 292.3 942.8 293.0 941.0 C293.7 939.2 295.4 934.6 295.7 933.7" stroke="#fff" stroke-width="4.3" fill="none"/>
<path d="M322.0 914.0 C322.2 913.4 323.5 911.0 324.1 909.1 C324.7 907.2 326.3 900.6 327.0 898.0 C327.7 895.4 329.1 889.3 329.8 886.4 C330.5 883.5 332.1 874.1 332.6 873.2 C333.1 872.3 334.1 877.5 334.5 879.0 C334.9 880.5 336.2 885.2 336.4 886.0" stroke="#fff" stroke-width="4.3" fill="none"/>
<path d="M367.0 762.5 C367.6 762.7 370.7 764.0 372.0 764.2 C373.3 764.4 376.6 764.4 378.0 764.2 C379.4 764.0 383.3 763.0 384.0 762.8" stroke="#fff" stroke-width="3" fill="none"/>
<path d="M367.8 761.3 C368.8 761.6 374.0 763.6 376.0 763.8 C378.0 764.0 383.1 762.9 385.0 763.3 C386.9 763.7 390.2 766.4 392.0 767.3 C393.8 768.2 398.6 770.7 400.5 770.8 C402.4 770.9 406.9 768.4 408.5 768.5 C410.1 768.6 412.9 770.5 414.5 771.3 C416.1 772.1 420.9 775.1 421.8 775.6" stroke="#000" stroke-width="3.7" fill="none"/>
<path d="M413.0 761.0 L413.0 780.0" stroke="#000" stroke-width="2.4" fill="none"/>
</g></g>
<g clip-path="url(#cJ)" transform="translate(310.9,707.3)"><g transform="translate(-310.9,-707.3)" fill="none" stroke-linejoin="round" stroke-linecap="round">
<path d="M471.4 817.3 C472.8 817.7 480.4 819.9 483.0 820.5 C485.6 821.1 491.7 822.1 494.1 822.1 C496.6 822.1 501.8 820.9 504.0 820.5 C506.2 820.1 511.0 819.1 513.0 818.3 C515.0 817.5 519.2 814.9 521.0 814.0 C522.8 813.1 526.6 810.5 528.1 810.7 C529.6 810.9 532.7 814.4 534.0 815.5 C535.3 816.6 537.8 819.2 539.5 820.2 C541.2 821.2 547.0 824.3 548.9 823.9 C550.8 823.5 554.4 818.5 556.0 817.0 C557.6 815.5 560.8 810.8 562.2 810.7 C563.6 810.6 566.7 815.2 568.0 816.5 C569.3 817.8 571.6 821.1 573.6 822.1 C575.6 823.1 582.8 825.1 584.9 824.9 C587.0 824.7 590.4 821.5 592.0 820.5 C593.6 819.5 596.8 817.3 598.2 816.4 C599.6 815.5 602.7 813.3 604.0 812.5 C605.3 811.7 608.2 809.3 609.5 809.8 C610.8 810.3 614.2 815.4 615.5 817.0 C616.8 818.6 619.4 822.9 620.9 823.9 C622.4 824.9 626.6 826.5 628.4 825.8 C630.2 825.1 634.7 821.3 636.0 818.3 C637.3 815.3 638.7 804.2 639.5 800.0 C640.3 795.8 642.1 782.9 642.6 782.3 C643.1 781.7 643.7 791.9 644.0 795.0 C644.3 798.1 644.5 806.3 645.5 808.8 C646.5 811.3 651.8 816.5 653.0 816.4 C654.2 816.3 655.3 809.8 656.0 808.0 C656.7 806.2 657.9 801.4 658.7 801.2 C659.5 801.0 661.6 805.4 662.5 806.5 C663.4 807.6 665.4 810.9 666.3 810.7 C667.2 810.5 669.1 806.0 670.0 804.5 C670.9 803.0 673.1 799.4 673.9 797.5 C674.7 795.6 676.3 790.2 677.0 788.0 C677.7 785.8 678.6 779.3 679.5 778.5 C680.4 777.7 683.7 780.8 685.0 781.5 C686.3 782.2 688.7 783.6 690.9 784.2 C693.1 784.8 701.9 787.0 704.1 787.0 C706.3 787.0 708.7 785.3 710.0 784.5 C711.3 783.7 714.1 781.9 715.5 780.4 C716.9 778.9 720.5 774.0 722.0 772.0 C723.5 770.0 727.9 764.4 728.7 763.4" stroke="#fff" stroke-width="4.3" fill="none"/>
<path d="M666.3 837.2 C667.0 836.5 670.7 832.3 672.0 831.0 C673.3 829.7 676.4 826.1 677.6 825.8 C678.8 825.4 681.4 827.6 682.5 828.0 C683.6 828.4 685.8 830.3 687.1 829.6 C688.4 828.9 692.4 823.8 694.0 822.0 C695.6 820.2 699.1 815.1 700.4 814.5 C701.7 813.9 703.9 816.4 705.0 816.8 C706.1 817.2 708.8 818.5 709.8 818.3 C710.8 818.1 713.1 815.9 714.0 815.0 C714.9 814.1 716.7 812.3 717.4 810.7 C718.1 809.1 719.5 803.2 720.0 801.0 C720.5 798.8 721.2 792.7 722.1 791.8 C723.0 790.9 726.6 793.1 728.0 793.5 C729.4 793.9 733.7 795.4 734.4 795.6" stroke="#fff" stroke-width="4.3" fill="none"/>
<path d="M471.4 928.0 C473.4 928.4 484.2 930.5 488.4 931.8 C492.6 933.1 504.2 938.6 507.3 939.4 C510.4 940.2 513.2 939.1 515.0 939.0 C516.8 938.9 520.3 938.1 522.5 938.4 C524.7 938.7 532.2 940.2 533.8 941.3 C535.4 942.4 535.6 946.5 536.0 948.0 C536.4 949.5 537.2 955.1 537.6 954.5 C538.0 953.9 539.1 945.4 539.5 943.0 C539.9 940.6 540.3 935.2 541.4 933.7 C542.5 932.2 546.9 929.9 548.9 929.9 C550.9 929.9 556.8 933.6 558.4 933.7 C560.0 933.8 561.6 931.4 562.5 930.5 C563.4 929.6 565.2 928.0 566.0 926.1 C566.8 924.2 568.3 916.6 569.0 914.0 C569.7 911.4 570.8 903.8 571.7 903.4 C572.6 903.0 575.4 908.9 576.5 910.5 C577.6 912.1 579.5 915.3 581.1 916.7 C582.7 918.1 588.9 920.4 590.6 922.4 C592.3 924.4 594.4 931.4 595.5 934.0 C596.6 936.6 599.1 944.5 600.0 945.1 C600.9 945.7 602.3 940.6 603.0 939.0 C603.7 937.4 605.1 934.2 605.7 931.8 C606.3 929.3 607.6 921.1 608.2 918.0 C608.8 914.9 609.8 905.8 610.5 905.3 C611.2 904.8 613.2 912.0 614.0 914.0 C614.8 916.0 616.3 920.5 617.1 922.4 C617.9 924.3 620.1 928.7 621.0 930.5 C621.9 932.3 623.6 937.4 624.6 937.5 C625.6 937.6 628.7 932.5 630.0 931.0 C631.3 929.5 634.2 926.2 636.0 924.3 C637.8 922.4 643.9 916.6 645.5 914.8 C647.1 913.0 648.9 909.8 649.3 909.1" stroke="#fff" stroke-width="4.3" fill="none"/>
<path d="M672.8 759.3 C672.9 759.8 673.5 762.6 673.9 763.8 C674.3 765.0 675.3 769.0 676.4 769.5 C677.5 770.0 681.3 768.6 683.0 768.3 C684.7 768.0 689.1 766.9 690.9 766.9 C692.6 766.9 696.5 767.6 698.0 767.9 C699.5 768.2 702.8 768.7 704.1 769.1 C705.4 769.4 707.9 770.7 709.0 770.9 C710.1 771.1 712.6 771.3 713.6 770.9 C714.6 770.5 716.7 768.7 717.5 767.8 C718.3 766.9 719.8 764.3 720.2 763.3 C720.6 762.3 720.7 759.8 720.8 759.3" stroke="#000" stroke-width="3.7" fill="none"/>
</g></g>
<g clip-path="url(#cK)" transform="translate(621.8,707.3)"><g transform="translate(-621.8,-707.3)" fill="none" stroke-linejoin="round" stroke-linecap="round">
<path d="M782.3 818.3 C784.2 817.9 795.5 815.2 798.4 814.5 C801.3 813.8 805.0 812.4 807.0 812.0 C809.0 811.6 813.8 810.2 815.4 810.7 C817.0 811.2 819.7 814.7 821.0 816.0 C822.3 817.3 825.5 821.9 826.8 822.1 C828.1 822.3 831.2 818.9 832.5 818.0 C833.8 817.1 836.6 814.4 838.1 814.5 C839.6 814.6 843.4 817.6 845.0 818.5 C846.6 819.4 849.6 821.9 851.4 822.1 C853.1 822.3 858.0 820.4 860.0 820.0 C862.0 819.6 866.8 817.8 868.4 818.3 C870.0 818.8 872.7 823.0 874.0 824.5 C875.3 826.0 878.5 831.3 879.8 831.5 C881.1 831.7 884.2 827.6 885.5 826.5 C886.8 825.4 889.1 822.8 891.1 822.1 C893.1 821.4 900.6 821.1 902.5 820.2 C904.4 819.3 906.4 815.3 907.5 814.0 C908.6 812.7 910.9 808.6 911.9 808.8 C912.9 809.0 915.4 814.2 916.5 816.0 C917.6 817.8 920.3 822.4 921.4 823.9 C922.5 825.4 924.9 827.5 926.0 828.5 C927.1 829.5 929.9 833.0 930.9 832.5 C931.9 832.0 933.6 825.9 934.5 824.0 C935.4 822.1 936.8 817.3 938.4 816.4 C940.0 815.5 946.8 816.4 947.9 816.4" stroke="#fff" stroke-width="4.3" fill="none"/>
<path d="M1017.9 810.7 C1018.8 810.5 1024.1 810.0 1025.5 808.8 C1026.9 807.6 1028.6 802.5 1029.5 800.5 C1030.4 798.5 1032.3 793.8 1033.1 791.8 C1033.9 789.8 1035.3 785.0 1036.0 783.0 C1036.7 781.0 1037.9 776.4 1038.7 774.7 C1039.5 773.0 1041.6 769.8 1042.5 768.5 C1043.4 767.2 1045.9 764.0 1046.3 763.4" stroke="#fff" stroke-width="4.3" fill="none"/>
<path d="M976.3 841.0 C977.1 841.4 981.5 843.8 983.0 844.5 C984.5 845.2 988.1 847.0 989.5 846.7 C990.9 846.4 993.7 843.1 995.0 842.0 C996.3 840.9 999.6 838.2 1000.9 837.2 C1002.2 836.2 1005.2 833.9 1006.5 833.0 C1007.8 832.1 1010.9 829.2 1012.2 829.6 C1013.5 830.0 1016.7 834.6 1018.0 836.0 C1019.3 837.4 1022.4 841.7 1023.6 841.9 C1024.8 842.1 1027.4 839.0 1028.5 838.0 C1029.6 837.0 1032.2 835.7 1033.1 833.4 C1034.0 831.1 1035.3 821.8 1036.0 818.0 C1036.7 814.2 1037.9 804.9 1038.7 801.2 C1039.5 797.5 1041.6 789.3 1042.5 786.0 C1043.4 782.7 1045.9 774.4 1046.3 772.9" stroke="#fff" stroke-width="4.3" fill="none"/>
<path d="M782.3 933.7 C783.0 933.2 787.1 930.4 788.5 929.5 C789.9 928.6 793.2 926.0 794.6 926.1 C796.0 926.2 799.2 929.1 800.5 930.0 C801.8 930.9 804.8 933.8 806.0 933.7 C807.2 933.6 809.9 930.4 811.0 929.5 C812.1 928.6 814.4 925.8 815.4 926.1 C816.4 926.5 818.6 930.9 819.5 932.5 C820.4 934.1 822.2 937.9 823.0 939.4 C823.8 940.9 825.3 944.2 826.0 945.5 C826.7 946.8 827.1 950.4 828.7 950.8 C830.3 951.2 838.1 949.8 840.0 948.9 C841.9 948.0 843.9 944.8 845.0 943.5 C846.1 942.2 848.2 937.9 849.5 937.5 C850.8 937.1 854.5 939.4 856.0 939.8 C857.5 940.2 861.4 941.7 862.7 941.3 C864.0 940.9 866.4 937.3 867.5 936.0 C868.6 934.7 871.1 931.4 872.2 929.9 C873.3 928.4 875.9 924.5 877.0 923.0 C878.1 921.5 880.6 916.5 881.7 916.7 C882.8 916.9 885.4 922.7 886.5 924.5 C887.6 926.3 889.2 930.1 891.1 931.8 C893.0 933.5 899.9 938.7 902.5 939.4 C905.1 940.1 911.2 937.6 913.8 937.5 C916.4 937.4 923.2 939.1 925.2 938.4 C927.2 937.7 929.9 933.7 930.9 931.8 C931.9 929.9 933.3 924.2 934.0 922.0 C934.7 919.8 935.3 914.2 936.5 912.9 C937.7 911.6 941.7 912.1 944.1 911.0 C946.5 909.9 955.4 904.1 957.4 903.4 C959.4 902.7 960.7 905.1 961.1 905.3" stroke="#fff" stroke-width="4.3" fill="none"/>
<path d="M964.8 760.8 C965.0 761.6 965.7 766.8 966.5 767.7 C967.3 768.6 970.6 768.6 972.0 768.8 C973.4 769.0 977.7 768.9 978.9 769.4 C980.1 769.9 981.3 772.4 982.0 773.3 C982.7 774.2 984.3 776.8 985.1 777.4 C985.9 778.0 988.1 778.7 989.0 778.8 C989.9 778.9 992.4 778.8 993.1 778.3 C993.8 777.8 994.6 775.2 995.0 774.3 C995.4 773.4 994.9 770.9 996.6 770.3 C998.4 769.7 1006.7 769.5 1010.0 769.3 C1013.3 769.1 1023.0 769.0 1025.0 768.5 C1027.0 768.0 1026.6 766.2 1027.0 765.3 C1027.4 764.4 1028.3 761.3 1028.5 760.8" stroke="#fff" stroke-width="3" fill="none"/>
<path d="M926.7 760.3 C926.9 761.6 928.1 769.2 928.5 771.3 C928.9 773.4 929.8 778.3 930.2 778.3 C930.6 778.3 931.8 773.4 932.2 771.3 C932.6 769.2 933.6 761.6 933.8 760.3" stroke="#000" stroke-width="3.7" fill="none"/>
<path d="M957.7 760.3 C957.9 762.0 958.6 772.1 959.0 775.3 C959.4 778.5 960.4 785.8 961.2 788.0 C962.0 790.2 964.5 793.7 965.6 794.2 C966.7 794.7 969.4 792.8 970.5 792.3 C971.6 791.8 974.3 790.8 975.4 789.8 C976.5 788.8 978.3 784.6 979.8 783.6 C981.3 782.6 986.0 781.9 988.0 781.5 C990.0 781.1 994.6 780.5 996.6 780.1 C998.6 779.7 1003.7 778.2 1005.5 778.3 C1007.3 778.4 1010.6 780.1 1012.0 780.8 C1013.4 781.5 1016.7 783.5 1017.9 784.5 C1019.1 785.5 1021.4 790.2 1022.3 789.8 C1023.2 789.4 1024.9 783.6 1025.8 780.9 C1026.7 778.2 1029.1 768.9 1030.3 766.8 C1031.5 764.7 1034.8 764.1 1036.0 763.3 C1037.2 762.5 1040.3 760.6 1040.9 760.3" stroke="#000" stroke-width="3.7" fill="none"/>
</g></g>
<g clip-path="url(#cL)" transform="translate(932.7,707.3)"><g transform="translate(-932.7,-707.3)" fill="none" stroke-linejoin="round" stroke-linecap="round">
<path d="M1168.9 827.7 C1170.0 827.7 1176.6 828.5 1178.4 827.7 C1180.2 826.9 1182.7 822.5 1184.0 821.0 C1185.3 819.5 1188.3 815.8 1189.8 814.5 C1191.3 813.2 1195.0 810.9 1196.5 810.0 C1198.0 809.1 1201.8 806.0 1203.0 806.9 C1204.2 807.8 1206.1 815.4 1207.0 818.0 C1207.9 820.6 1209.5 827.4 1210.6 829.6 C1211.6 831.8 1214.7 834.9 1216.0 836.5 C1217.3 838.1 1220.7 842.8 1221.9 842.9 C1223.1 843.0 1225.4 838.3 1226.5 837.0 C1227.6 835.7 1230.3 831.7 1231.4 831.5 C1232.5 831.3 1234.9 834.6 1236.0 835.5 C1237.1 836.4 1240.0 839.9 1240.9 839.1 C1241.8 838.3 1243.1 830.9 1243.8 828.5 C1244.5 826.1 1244.9 819.9 1246.5 818.3 C1248.1 816.7 1255.9 814.5 1257.9 814.5 C1259.9 814.5 1262.2 817.6 1263.5 818.5 C1264.8 819.4 1268.0 821.9 1269.3 822.1 C1270.6 822.3 1273.9 821.3 1274.9 820.2 C1275.9 819.1 1276.9 814.3 1277.5 812.5 C1278.1 810.7 1279.2 804.8 1279.7 805.0 C1280.2 805.2 1281.1 811.8 1281.5 814.0 C1281.9 816.2 1283.2 822.7 1283.4 823.9" stroke="#fff" stroke-width="4.3" fill="none"/>
<path d="M1293.9 848.5 C1294.2 847.6 1295.8 842.8 1296.5 841.0 C1297.2 839.2 1298.7 835.7 1299.5 833.4 C1300.3 831.1 1302.6 823.9 1303.5 821.0 C1304.4 818.1 1305.9 810.1 1307.1 808.8 C1308.3 807.5 1312.0 809.8 1313.5 810.0 C1315.0 810.2 1318.8 811.1 1320.3 810.7 C1321.8 810.4 1324.7 807.9 1326.0 807.0 C1327.3 806.1 1329.7 804.7 1331.7 803.1 C1333.7 801.5 1341.8 794.8 1343.1 793.7" stroke="#fff" stroke-width="4.3" fill="none"/>
<path d="M1292.0 856.1 C1292.4 856.7 1294.6 859.9 1295.5 861.0 C1296.4 862.1 1298.6 865.6 1299.5 865.6 C1300.4 865.6 1302.6 862.1 1303.5 861.0 C1304.4 859.9 1306.2 857.6 1307.1 856.1 C1308.0 854.6 1310.4 850.3 1311.5 848.5 C1312.6 846.7 1315.4 842.6 1316.6 841.0 C1317.8 839.4 1320.7 836.3 1322.0 835.0 C1323.3 833.7 1326.4 830.7 1327.9 829.6 C1329.4 828.5 1333.2 826.4 1335.0 825.5 C1336.8 824.6 1342.2 822.5 1343.1 822.1" stroke="#fff" stroke-width="4.3" fill="none"/>
<path d="M1168.9 941.3 C1170.0 941.1 1176.5 939.1 1178.4 939.4 C1180.3 939.7 1183.4 942.9 1185.0 944.0 C1186.6 945.1 1190.6 949.2 1191.7 948.9 C1192.8 948.6 1193.8 943.3 1194.5 941.5 C1195.2 939.7 1196.7 935.7 1197.3 933.7 C1197.9 931.7 1199.3 926.2 1200.0 924.0 C1200.7 921.8 1202.2 914.9 1203.0 914.8 C1203.8 914.7 1206.1 921.5 1207.0 923.5 C1207.9 925.5 1209.1 929.9 1210.6 931.8 C1212.1 933.7 1218.6 939.0 1220.0 939.4 C1221.4 939.8 1222.3 936.1 1223.0 935.0 C1223.7 933.9 1224.9 931.5 1225.7 929.9 C1226.5 928.3 1228.6 923.0 1229.5 921.0 C1230.4 919.0 1232.4 913.4 1233.3 912.9 C1234.2 912.4 1236.1 916.1 1237.0 917.0 C1237.9 917.9 1239.9 920.9 1240.9 920.5 C1241.9 920.1 1244.4 915.1 1245.5 913.5 C1246.6 911.9 1248.9 908.4 1250.3 907.2 C1251.7 906.0 1255.9 903.4 1257.9 903.4 C1259.9 903.4 1265.9 907.5 1267.4 907.2 C1268.9 906.9 1269.8 902.5 1270.5 901.0 C1271.2 899.5 1272.7 894.8 1273.0 894.0" stroke="#fff" stroke-width="4.3" fill="none"/>
<path d="M1189.8 761.5 C1190.2 762.1 1192.3 766.2 1193.3 766.8 C1194.3 767.4 1196.8 766.5 1198.0 766.3 C1199.2 766.1 1202.7 765.4 1203.9 765.0 C1205.1 764.6 1207.2 763.2 1208.0 762.8 C1208.8 762.4 1210.7 761.7 1211.0 761.5" stroke="#fff" stroke-width="3" fill="none"/>
<path d="M1219.9 761.5 C1220.3 762.0 1222.2 764.8 1223.0 765.8 C1223.8 766.8 1226.0 769.5 1227.0 770.3 C1228.0 771.1 1230.5 772.4 1231.5 772.8 C1232.5 773.2 1234.6 774.0 1235.8 773.9 C1237.0 773.8 1240.6 772.4 1242.0 771.8 C1243.4 771.2 1247.2 769.3 1248.2 768.5 C1249.2 767.7 1250.1 766.1 1250.5 765.3 C1250.9 764.5 1251.6 761.9 1251.7 761.5" stroke="#fff" stroke-width="3" fill="none"/>
<path d="M1262.4 761.5 C1262.6 762.1 1263.4 765.3 1263.8 766.3 C1264.2 767.3 1264.9 769.6 1265.9 770.3 C1266.9 771.0 1270.6 771.9 1272.0 772.3 C1273.4 772.7 1277.1 773.3 1278.3 773.9 C1279.5 774.5 1281.2 776.8 1282.0 777.8 C1282.8 778.8 1284.6 781.1 1285.4 782.7 C1286.2 784.3 1287.9 789.4 1288.5 791.3 C1289.1 793.2 1290.2 797.3 1290.7 798.6 C1291.2 799.9 1292.0 802.4 1292.5 802.2 C1293.0 802.0 1294.4 798.0 1295.0 796.8 C1295.6 795.6 1296.9 792.8 1297.8 791.6 C1298.7 790.4 1301.8 787.8 1303.0 786.8 C1304.2 785.8 1307.1 783.5 1308.4 782.7 C1309.7 781.9 1312.8 780.4 1314.0 779.8 C1315.2 779.2 1317.7 778.1 1319.0 777.4 C1320.3 776.7 1324.1 774.6 1325.5 773.8 C1326.9 773.0 1330.2 771.0 1331.4 770.3 C1332.6 769.6 1335.0 768.2 1336.0 767.6 C1337.0 767.0 1339.8 765.3 1340.3 765.0" stroke="#fff" stroke-width="3" fill="none"/>
<path d="M1283.6 761.5 C1283.9 762.5 1285.4 768.2 1286.0 770.3 C1286.6 772.4 1288.3 777.9 1288.9 779.2 C1289.5 780.5 1290.9 781.4 1291.5 781.8 C1292.1 782.2 1293.7 783.2 1294.2 782.7 C1294.7 782.2 1295.6 778.5 1296.0 777.3 C1296.4 776.1 1296.6 773.1 1297.8 772.1 C1299.0 771.1 1303.9 769.4 1306.0 768.8 C1308.1 768.2 1313.3 767.1 1315.5 766.8 C1317.7 766.5 1322.7 766.2 1325.0 766.1 C1327.3 766.0 1333.8 765.9 1335.0 765.9" stroke="#fff" stroke-width="3" fill="none"/>
<path d="M1167.5 765.3 C1167.9 765.6 1170.1 767.7 1171.0 768.3 C1171.9 768.9 1174.2 770.3 1175.6 770.3 C1177.0 770.3 1181.3 768.4 1182.7 768.5 C1184.1 768.6 1186.8 770.7 1188.0 771.3 C1189.2 771.9 1191.4 774.0 1193.3 773.9 C1195.2 773.8 1201.6 771.3 1203.9 770.3 C1206.2 769.3 1211.3 764.9 1212.8 765.0 C1214.3 765.1 1215.7 769.9 1216.5 771.3 C1217.3 772.7 1219.1 776.1 1219.9 777.4 C1220.7 778.7 1222.0 781.9 1223.4 782.7 C1224.8 783.5 1230.9 783.6 1232.3 784.5 C1233.7 785.4 1234.4 788.9 1235.0 790.3 C1235.6 791.7 1236.9 795.7 1237.6 796.9 C1238.3 798.1 1240.3 800.8 1241.1 800.4 C1241.9 800.0 1243.9 795.8 1244.7 793.3 C1245.5 790.8 1247.4 781.9 1248.2 779.2 C1249.0 776.5 1250.8 772.2 1251.5 770.3 C1252.2 768.4 1253.8 763.0 1254.4 762.8 C1255.0 762.6 1256.0 767.0 1256.5 768.3 C1257.0 769.6 1257.7 772.2 1258.8 773.9 C1259.9 775.6 1264.0 780.8 1265.9 782.7 C1267.8 784.6 1273.1 789.1 1274.8 789.8 C1276.5 790.5 1279.1 787.9 1280.1 788.9 C1281.1 789.9 1282.8 795.2 1283.6 798.6 C1284.4 802.0 1286.4 813.8 1287.2 818.1 C1288.0 822.4 1290.1 832.9 1290.7 835.8 C1291.3 838.7 1292.0 843.3 1292.5 842.9 C1293.0 842.5 1294.3 835.6 1295.1 832.3 C1295.9 829.0 1297.9 818.5 1299.5 814.6 C1301.1 810.7 1306.1 801.8 1308.4 798.6 C1310.7 795.4 1316.5 789.5 1319.0 787.1 C1321.5 784.7 1327.3 779.8 1329.6 778.3 C1331.9 776.8 1337.1 775.2 1338.5 773.9 C1339.9 772.6 1341.1 768.7 1341.5 767.3 C1341.9 765.9 1341.9 762.4 1342.0 761.8" stroke="#000" stroke-width="3.7" fill="none"/>
</g></g>
<g clip-path="url(#cM)" transform="translate(0.0,1060.1)"><g transform="translate(0.0,-1060.1)" fill="none" stroke-linejoin="round" stroke-linecap="round">
<path d="M367.8 1114.1 C368.8 1114.4 374.0 1116.4 376.0 1116.6 C378.0 1116.8 383.1 1115.7 385.0 1116.1 C386.9 1116.5 390.2 1119.2 392.0 1120.1 C393.8 1121.0 398.6 1123.5 400.5 1123.6 C402.4 1123.7 406.9 1121.2 408.5 1121.3 C410.1 1121.4 412.9 1123.3 414.5 1124.1 C416.1 1124.9 420.9 1127.9 421.8 1128.4" stroke="#000" stroke-width="3.7" fill="none"/>
</g></g>
<g clip-path="url(#cN)" transform="translate(310.9,1060.1)"><g transform="translate(-310.9,-1060.1)" fill="none" stroke-linejoin="round" stroke-linecap="round">
<path d="M672.8 1112.1 C672.9 1112.6 673.5 1115.4 673.9 1116.6 C674.3 1117.8 675.3 1121.8 676.4 1122.3 C677.5 1122.8 681.3 1121.4 683.0 1121.1 C684.7 1120.8 689.1 1119.7 690.9 1119.7 C692.6 1119.7 696.5 1120.4 698.0 1120.7 C699.5 1121.0 702.8 1121.5 704.1 1121.9 C705.4 1122.2 707.9 1123.5 709.0 1123.7 C710.1 1123.9 712.6 1124.1 713.6 1123.7 C714.6 1123.3 716.7 1121.5 717.5 1120.6 C718.3 1119.7 719.8 1117.1 720.2 1116.1 C720.6 1115.1 720.7 1112.6 720.8 1112.1" stroke="#000" stroke-width="3.7" fill="none"/>
</g></g>
<g clip-path="url(#cO)" transform="translate(621.8,1060.1)"><g transform="translate(-621.8,-1060.1)" fill="none" stroke-linejoin="round" stroke-linecap="round">
<path d="M926.7 1113.1 C926.9 1114.4 928.1 1122.0 928.5 1124.1 C928.9 1126.2 929.8 1131.1 930.2 1131.1 C930.6 1131.1 931.8 1126.2 932.2 1124.1 C932.6 1122.0 933.6 1114.4 933.8 1113.1" stroke="#000" stroke-width="3.7" fill="none"/>
<path d="M957.7 1113.1 C957.9 1114.8 958.6 1124.9 959.0 1128.1 C959.4 1131.3 960.4 1138.6 961.2 1140.8 C962.0 1143.0 964.5 1146.5 965.6 1147.0 C966.7 1147.5 969.4 1145.6 970.5 1145.1 C971.6 1144.6 974.3 1143.6 975.4 1142.6 C976.5 1141.6 978.3 1137.4 979.8 1136.4 C981.3 1135.4 986.0 1134.7 988.0 1134.3 C990.0 1133.9 994.6 1133.3 996.6 1132.9 C998.6 1132.5 1003.7 1131.0 1005.5 1131.1 C1007.3 1131.2 1010.6 1132.9 1012.0 1133.6 C1013.4 1134.3 1016.7 1136.2 1017.9 1137.3 C1019.1 1138.3 1021.4 1143.0 1022.3 1142.6 C1023.2 1142.2 1024.9 1136.4 1025.8 1133.7 C1026.7 1131.0 1029.1 1121.7 1030.3 1119.6 C1031.5 1117.5 1034.8 1116.9 1036.0 1116.1 C1037.2 1115.3 1040.3 1113.4 1040.9 1113.1" stroke="#000" stroke-width="3.7" fill="none"/>
</g></g>
<g clip-path="url(#cP)" transform="translate(932.7,1060.1)"><g transform="translate(-932.7,-1060.1)" fill="none" stroke-linejoin="round" stroke-linecap="round">
<path d="M1167.5 1120.1 C1167.9 1120.4 1170.1 1122.5 1171.0 1123.1 C1171.9 1123.7 1174.2 1125.1 1175.6 1125.1 C1177.0 1125.1 1181.3 1123.4 1182.7 1123.5 C1184.1 1123.6 1186.8 1125.5 1188.0 1126.1 C1189.2 1126.7 1192.0 1128.4 1193.3 1128.7 C1194.6 1129.0 1197.8 1128.7 1199.0 1128.6 C1200.2 1128.5 1203.0 1127.7 1203.5 1127.6" stroke="#000" stroke-width="3.7" fill="none"/>
<path d="M1250.8 1125.6 C1251.1 1124.8 1252.6 1120.3 1253.0 1119.1 C1253.4 1117.9 1254.2 1115.4 1254.6 1115.6 C1255.0 1115.8 1255.9 1119.7 1256.5 1121.1 C1257.1 1122.5 1258.6 1125.9 1259.8 1127.7 C1261.0 1129.5 1265.2 1134.9 1266.9 1136.5 C1268.7 1138.1 1272.9 1140.8 1274.8 1141.6 C1276.7 1142.4 1281.9 1141.5 1283.2 1143.1 C1284.5 1144.7 1285.0 1151.0 1285.6 1155.1 C1286.2 1159.2 1288.1 1174.0 1288.6 1178.1 C1289.1 1182.2 1290.0 1188.7 1290.2 1190.1" stroke="#000" stroke-width="3.7" fill="none"/>
<path d="M1290.7 1194.1 C1290.9 1194.3 1292.0 1196.7 1292.5 1195.7 C1293.0 1194.6 1294.3 1188.4 1295.1 1185.1 C1295.9 1181.8 1297.9 1171.3 1299.5 1167.4 C1301.1 1163.5 1306.1 1154.6 1308.4 1151.4 C1310.7 1148.2 1316.5 1142.3 1319.0 1139.9 C1321.5 1137.5 1327.3 1132.6 1329.6 1131.1 C1331.9 1129.6 1337.1 1128.0 1338.5 1126.7 C1339.9 1125.4 1341.1 1121.5 1341.5 1120.1 C1341.9 1118.7 1341.9 1115.2 1342.0 1114.6" stroke="#000" stroke-width="3.7" fill="none"/>
</g></g>
<g clip-path="url(#cQ)" transform="translate(0.0,1414.6)"><g transform="translate(0.0,-1414.6)" fill="none" stroke-linejoin="round" stroke-linecap="round">
<path d="M159.5 1530.2 C161.0 1529.8 169.4 1527.5 172.7 1526.4 C176.0 1525.3 184.6 1521.6 187.9 1520.7 C191.2 1519.8 198.9 1519.8 201.1 1518.8 C203.3 1517.8 205.3 1512.2 206.8 1512.2 C208.3 1512.2 212.1 1517.4 214.3 1518.8 C216.5 1520.2 223.5 1524.9 225.7 1524.5 C227.9 1524.1 231.5 1517.6 233.3 1515.0 C235.1 1512.4 239.0 1504.1 240.8 1501.8 C242.6 1499.5 246.6 1495.4 248.4 1495.2 C250.2 1495.0 254.2 1498.3 256.0 1499.9 C257.8 1501.5 261.6 1507.5 263.6 1509.3 C265.6 1511.1 270.8 1513.9 273.0 1515.0 C275.2 1516.1 280.5 1518.8 282.5 1518.8 C284.5 1518.8 288.0 1517.2 290.0 1515.0 C292.0 1512.8 297.1 1503.2 299.5 1499.9 C301.9 1496.6 308.0 1488.6 310.9 1486.6 C313.8 1484.6 321.3 1483.2 324.1 1482.9 C326.9 1482.6 333.3 1483.7 334.5 1483.8" stroke="#fff" stroke-width="4.3" fill="none"/>
<path d="M355.3 1467.7 C355.4 1471.7 356.3 1495.5 356.3 1501.8 C356.3 1508.1 355.7 1517.9 355.5 1522.0 C355.3 1526.1 354.5 1535.2 354.4 1537.0" stroke="#fff" stroke-width="4.3" fill="none"/>
<path d="M313.0 1493.0 C313.2 1493.7 314.4 1497.7 314.5 1499.0 C314.6 1500.3 313.6 1503.4 313.5 1504.0" stroke="#fff" stroke-width="5" fill="none"/>
<path d="M160.0 1538.0 L162.0 1546.0" stroke="#fff" stroke-width="5" fill="none"/>
<path d="M367.6 1621.0 C367.8 1620.6 368.5 1617.8 369.5 1617.2 C370.5 1616.6 374.4 1616.2 376.0 1616.0 C377.6 1615.8 381.2 1615.6 382.8 1615.3 C384.4 1615.0 388.2 1613.9 390.0 1613.5 C391.8 1613.1 396.2 1611.4 397.9 1611.5 C399.6 1611.6 402.9 1613.3 404.5 1614.0 C406.1 1614.7 409.1 1616.3 411.2 1617.2 C413.3 1618.1 421.2 1621.4 422.5 1622.0" stroke="#fff" stroke-width="4.3" fill="none"/>
<path d="M159.5 1681.6 C160.4 1682.0 166.8 1684.1 167.0 1685.4 C167.2 1686.7 160.5 1691.4 161.4 1692.9 C162.3 1694.4 172.2 1698.4 174.6 1698.6 C177.0 1698.8 181.0 1694.4 182.2 1694.8 C183.4 1695.2 183.8 1700.2 184.5 1702.0 C185.2 1703.8 186.4 1708.2 187.9 1710.0 C189.4 1711.8 195.1 1716.4 197.3 1717.5 C199.5 1718.6 204.6 1718.1 206.8 1719.4 C209.0 1720.7 214.4 1728.9 216.2 1728.9 C218.0 1728.9 220.1 1721.4 221.9 1719.4 C223.7 1717.4 229.2 1713.2 231.4 1711.8 C233.6 1710.4 239.0 1706.4 240.8 1707.1 C242.6 1707.8 244.9 1715.4 246.5 1717.5 C248.1 1719.6 252.1 1723.1 254.1 1725.1 C256.1 1727.1 261.6 1732.0 263.6 1734.6 C265.6 1737.2 270.2 1746.3 271.1 1747.8" stroke="#fff" stroke-width="4.3" fill="none"/>
<path d="M182.0 1686.5 L182.6 1691.0" stroke="#fff" stroke-width="4" fill="none"/>
<path d="M159.5 1727.0 C159.8 1727.3 161.8 1728.8 162.5 1729.5 C163.2 1730.2 164.8 1732.3 165.1 1732.7" stroke="#fff" stroke-width="4.3" fill="none"/>
<path d="M201.1 1745.9 C202.4 1745.8 209.2 1745.2 212.5 1745.0 C215.8 1744.8 227.5 1744.1 229.5 1744.0" stroke="#fff" stroke-width="4.3" fill="none"/>
<path d="M367.8 1468.6 C368.8 1468.9 374.0 1470.9 376.0 1471.1 C378.0 1471.3 383.1 1470.2 385.0 1470.6 C386.9 1471.0 390.2 1473.7 392.0 1474.6 C393.8 1475.5 398.6 1478.0 400.5 1478.1 C402.4 1478.2 406.9 1475.7 408.5 1475.8 C410.1 1475.9 412.9 1477.8 414.5 1478.6 C416.1 1479.4 420.9 1482.4 421.8 1482.9" stroke="#000" stroke-width="3.7" fill="none"/>
</g></g>
<g clip-path="url(#cR)" transform="translate(310.9,1414.6)"><g transform="translate(-310.9,-1414.6)" fill="none" stroke-linejoin="round" stroke-linecap="round">
<path d="M471.4 1515.0 C472.3 1514.8 477.4 1514.2 478.9 1513.1 C480.4 1512.0 482.4 1506.7 484.6 1505.6 C486.8 1504.5 494.4 1504.4 497.9 1503.7 C501.4 1503.0 512.7 1501.3 514.9 1499.9 C517.1 1498.5 515.3 1492.5 516.8 1491.4 C518.3 1490.3 526.1 1489.9 528.1 1490.4 C530.1 1490.9 532.0 1495.9 533.8 1496.1 C535.6 1496.3 541.1 1492.1 543.3 1492.3 C545.5 1492.5 550.5 1496.9 552.7 1498.0 C554.9 1499.1 560.2 1499.8 562.2 1501.8 C564.2 1503.8 567.8 1514.1 569.8 1515.0 C571.8 1515.9 576.8 1511.1 579.2 1509.3 C581.6 1507.5 588.2 1501.4 590.6 1499.9 C593.0 1498.4 597.6 1495.9 600.0 1496.1 C602.4 1496.3 609.0 1500.7 611.4 1501.8 C613.8 1502.9 619.1 1504.1 620.9 1505.6 C622.7 1507.1 625.0 1514.8 626.5 1515.0 C628.0 1515.2 632.8 1511.7 634.1 1507.5 C635.4 1503.3 637.0 1483.5 637.9 1479.1 C638.8 1474.7 640.7 1469.2 641.7 1469.6 C642.7 1470.0 645.7 1476.9 646.4 1482.9 C647.1 1488.9 646.6 1515.8 647.4 1520.7 C648.2 1525.6 651.8 1524.7 653.0 1524.5 C654.2 1524.3 656.9 1522.6 657.8 1518.8 C658.7 1515.0 659.9 1495.8 660.6 1492.3 C661.3 1488.8 662.7 1487.4 663.4 1488.5 C664.1 1489.6 665.6 1499.8 666.3 1501.8 C667.0 1503.8 668.6 1509.4 669.1 1505.6 C669.6 1501.8 670.8 1473.8 671.0 1469.6" stroke="#fff" stroke-width="4.3" fill="none"/>
<path d="M677.6 1621.0 C678.2 1620.4 681.7 1617.1 683.0 1616.0 C684.3 1614.9 687.2 1611.6 689.0 1611.5 C690.8 1611.4 695.8 1614.4 698.4 1615.3 C701.0 1616.2 709.6 1618.1 711.7 1619.1 C713.8 1620.1 715.4 1622.4 716.5 1623.5 C717.6 1624.6 719.1 1627.9 721.2 1628.6 C723.3 1629.3 732.9 1629.4 734.4 1629.5" stroke="#fff" stroke-width="4.3" fill="none"/>
<path d="M471.4 1711.8 C472.9 1712.2 481.5 1714.3 484.6 1715.6 C487.7 1716.9 495.5 1721.6 497.9 1723.2 C500.3 1724.8 503.6 1729.8 505.4 1728.9 C507.2 1728.0 510.8 1717.4 513.0 1715.6 C515.2 1713.8 521.7 1713.5 524.3 1713.7 C526.9 1713.9 533.3 1716.8 535.7 1717.5 C538.1 1718.2 543.2 1719.8 545.2 1719.4 C547.2 1719.0 550.7 1714.6 552.7 1713.7 C554.7 1712.8 560.9 1711.1 562.2 1711.8 C563.5 1712.5 563.9 1718.5 564.1 1719.4" stroke="#fff" stroke-width="4.3" fill="none"/>
<path d="M471.4 1734.6 C472.9 1734.6 480.6 1733.9 484.6 1734.6 C488.6 1735.3 501.6 1740.0 505.4 1740.2 C509.2 1740.4 513.7 1736.2 516.8 1736.4 C519.9 1736.6 529.0 1741.3 531.9 1742.1 C534.8 1742.9 540.3 1743.0 541.4 1743.1" stroke="#fff" stroke-width="4.3" fill="none"/>
<path d="M672.8 1466.6 C672.9 1467.1 673.5 1469.9 673.9 1471.1 C674.3 1472.3 675.3 1476.3 676.4 1476.8 C677.5 1477.3 681.3 1475.9 683.0 1475.6 C684.7 1475.3 689.1 1474.2 690.9 1474.2 C692.6 1474.2 696.5 1474.9 698.0 1475.2 C699.5 1475.5 702.8 1476.0 704.1 1476.4 C705.4 1476.7 707.9 1478.0 709.0 1478.2 C710.1 1478.4 712.6 1478.6 713.6 1478.2 C714.6 1477.8 716.7 1476.0 717.5 1475.1 C718.3 1474.2 719.8 1471.6 720.2 1470.6 C720.6 1469.6 720.7 1467.1 720.8 1466.6" stroke="#000" stroke-width="3.7" fill="none"/>
</g></g>
<g clip-path="url(#cS)" transform="translate(621.8,1414.6)"><g transform="translate(-621.8,-1414.6)" fill="none" stroke-linejoin="round" stroke-linecap="round">
<path d="M782.3 1518.8 C783.1 1518.6 787.5 1518.0 788.9 1516.9 C790.3 1515.8 792.4 1510.1 794.6 1509.3 C796.8 1508.5 805.0 1510.4 807.9 1510.3 C810.8 1510.2 817.2 1506.3 819.2 1508.4 C821.2 1510.5 823.6 1525.9 824.9 1528.3 C826.2 1530.7 829.5 1530.8 830.6 1529.2 C831.7 1527.6 832.5 1517.8 834.3 1515.0 C836.1 1512.2 842.6 1507.4 845.7 1505.6 C848.8 1503.8 857.7 1500.2 860.8 1499.9 C863.9 1499.6 870.6 1501.4 872.2 1502.7 C873.8 1504.0 874.5 1509.5 874.1 1511.2 C873.7 1512.9 868.0 1515.8 868.4 1516.9 C868.8 1518.0 876.6 1519.1 877.9 1520.7 C879.2 1522.3 878.9 1529.8 879.8 1530.2 C880.7 1530.6 884.5 1526.5 885.4 1524.5 C886.3 1522.5 885.5 1515.1 887.3 1513.1 C889.1 1511.1 898.0 1509.3 900.6 1507.5 C903.2 1505.7 908.2 1498.9 910.0 1498.0 C911.8 1497.1 914.8 1497.7 915.7 1499.9 C916.6 1502.1 916.9 1514.5 917.6 1516.9 C918.3 1519.3 920.7 1522.5 921.4 1520.7 C922.1 1518.9 923.0 1507.8 923.3 1501.8 C923.6 1495.8 924.1 1473.4 924.2 1469.6" stroke="#fff" stroke-width="4.3" fill="none"/>
<path d="M991.4 1630.5 C992.7 1630.7 1000.4 1632.7 1002.8 1632.4 C1005.2 1632.1 1010.0 1628.8 1012.2 1627.6 C1014.4 1626.4 1019.5 1622.1 1021.7 1622.0 C1023.9 1621.9 1029.2 1625.3 1031.2 1626.7 C1033.2 1628.1 1037.0 1633.0 1038.7 1634.3 C1040.4 1635.6 1044.6 1637.6 1045.4 1638.0" stroke="#fff" stroke-width="4.3" fill="none"/>
<path d="M782.3 1711.8 C784.0 1711.8 793.5 1711.1 796.5 1711.8 C799.5 1712.5 805.5 1715.9 807.9 1717.5 C810.3 1719.1 815.1 1724.2 817.3 1725.1 C819.5 1726.0 824.4 1725.3 826.8 1725.1 C829.2 1724.9 835.9 1724.6 838.1 1723.2 C840.3 1721.8 843.9 1713.7 845.7 1712.8 C847.5 1711.9 851.3 1715.7 853.3 1715.6 C855.3 1715.5 860.5 1711.4 862.7 1711.8 C864.9 1712.2 871.1 1718.5 872.2 1719.4" stroke="#fff" stroke-width="4.3" fill="none"/>
<path d="M782.3 1739.3 C784.0 1739.3 793.5 1738.8 796.5 1739.3 C799.5 1739.8 804.8 1743.0 807.9 1744.0 C811.0 1745.0 819.5 1747.1 823.0 1747.8 C826.5 1748.5 834.8 1749.9 838.1 1749.7 C841.4 1749.5 849.8 1746.3 851.4 1745.9" stroke="#fff" stroke-width="4.3" fill="none"/>
<path d="M926.7 1467.6 C926.9 1468.9 928.1 1476.5 928.5 1478.6 C928.9 1480.7 929.8 1485.6 930.2 1485.6 C930.6 1485.6 931.8 1480.7 932.2 1478.6 C932.6 1476.5 933.6 1468.9 933.8 1467.6" stroke="#000" stroke-width="3.7" fill="none"/>
<path d="M957.7 1467.6 C957.9 1469.3 958.6 1479.4 959.0 1482.6 C959.4 1485.8 960.4 1493.1 961.2 1495.3 C962.0 1497.5 964.5 1501.0 965.6 1501.5 C966.7 1502.0 969.4 1500.1 970.5 1499.6 C971.6 1499.1 974.3 1498.1 975.4 1497.1 C976.5 1496.1 978.3 1491.9 979.8 1490.9 C981.3 1489.9 986.0 1489.2 988.0 1488.8 C990.0 1488.4 994.6 1487.8 996.6 1487.4 C998.6 1487.0 1003.7 1485.5 1005.5 1485.6 C1007.3 1485.7 1010.6 1487.4 1012.0 1488.1 C1013.4 1488.8 1016.7 1490.8 1017.9 1491.8 C1019.1 1492.8 1021.4 1497.5 1022.3 1497.1 C1023.2 1496.7 1024.9 1490.9 1025.8 1488.2 C1026.7 1485.5 1029.1 1476.2 1030.3 1474.1 C1031.5 1472.0 1034.8 1471.4 1036.0 1470.6 C1037.2 1469.8 1040.3 1467.9 1040.9 1467.6" stroke="#000" stroke-width="3.7" fill="none"/>
</g></g>
<g clip-path="url(#cT)" transform="translate(932.7,1414.6)"><g transform="translate(-932.7,-1414.6)" fill="none" stroke-linejoin="round" stroke-linecap="round">
<path d="M1193.6 1484.7 C1194.5 1485.6 1200.7 1489.4 1201.1 1492.3 C1201.5 1495.2 1199.1 1506.4 1197.3 1509.3 C1195.5 1512.2 1188.2 1515.1 1186.0 1516.9 C1183.8 1518.7 1180.5 1523.2 1178.4 1524.5 C1176.3 1525.8 1169.2 1527.9 1168.0 1528.3" stroke="#fff" stroke-width="3.2" fill="none"/>
<path d="M1204.9 1494.2 C1204.2 1497.1 1206.4 1512.3 1206.8 1516.9 C1207.2 1521.5 1207.6 1531.6 1208.7 1534.0 C1209.8 1536.4 1214.8 1536.6 1216.3 1537.7 C1217.8 1538.8 1220.6 1543.6 1221.9 1543.4 C1223.2 1543.2 1225.6 1537.3 1227.6 1535.8 C1229.6 1534.3 1238.1 1532.4 1239.0 1530.2 C1239.9 1528.0 1236.1 1519.8 1235.2 1516.9 C1234.3 1514.0 1233.2 1507.6 1231.4 1505.6 C1229.6 1503.6 1222.2 1501.5 1220.0 1499.9 C1217.8 1498.3 1214.3 1493.0 1212.5 1492.3 C1210.7 1491.6 1205.6 1491.3 1204.9 1494.2Z" stroke="#fff" stroke-width="3.2" fill="none"/>
<path d="M1246.5 1501.8 C1245.8 1503.3 1247.5 1512.2 1248.4 1513.1 C1249.3 1514.0 1253.4 1510.8 1254.1 1509.3 C1254.8 1507.8 1255.0 1500.8 1254.1 1499.9 C1253.2 1499.0 1247.2 1500.3 1246.5 1501.8Z" stroke="#fff" stroke-width="3.2" fill="none"/>
<path d="M1168.0 1706.2 C1168.8 1705.8 1172.9 1702.2 1174.6 1702.4 C1176.3 1702.6 1180.9 1706.3 1182.2 1708.1 C1183.5 1709.9 1186.4 1716.0 1186.0 1717.5 C1185.6 1719.0 1180.5 1721.0 1178.4 1721.3 C1176.3 1721.6 1169.2 1720.5 1168.0 1720.4" stroke="#fff" stroke-width="3.2" fill="none"/>
<path d="M1301.4 1628.6 C1301.7 1628.0 1303.3 1624.6 1304.0 1623.5 C1304.7 1622.4 1305.6 1619.4 1307.1 1619.1 C1308.6 1618.8 1314.6 1620.5 1316.6 1621.0 C1318.6 1621.5 1322.7 1623.9 1324.1 1623.8 C1325.5 1623.7 1327.9 1620.8 1329.0 1620.0 C1330.1 1619.2 1332.1 1617.3 1333.6 1617.2 C1335.1 1617.1 1341.1 1618.9 1342.1 1619.1" stroke="#fff" stroke-width="4.3" fill="none"/>
<path d="M1167.5 1474.6 C1167.9 1474.9 1170.1 1477.0 1171.0 1477.6 C1171.9 1478.2 1174.2 1479.6 1175.6 1479.6 C1177.0 1479.6 1181.3 1477.9 1182.7 1478.0 C1184.1 1478.1 1186.8 1480.0 1188.0 1480.6 C1189.2 1481.2 1192.0 1482.9 1193.3 1483.2 C1194.6 1483.5 1197.8 1483.2 1199.0 1483.1 C1200.2 1483.0 1203.0 1482.2 1203.5 1482.1" stroke="#000" stroke-width="3.7" fill="none"/>
<path d="M1250.8 1480.1 C1251.1 1479.3 1252.6 1474.8 1253.0 1473.6 C1253.4 1472.4 1254.2 1469.9 1254.6 1470.1 C1255.0 1470.3 1255.9 1474.2 1256.5 1475.6 C1257.1 1477.0 1258.6 1480.4 1259.8 1482.2 C1261.0 1484.0 1265.2 1489.4 1266.9 1491.0 C1268.7 1492.6 1272.9 1495.3 1274.8 1496.1 C1276.7 1496.9 1281.9 1496.0 1283.2 1497.6 C1284.5 1499.2 1285.0 1505.5 1285.6 1509.6 C1286.2 1513.7 1288.1 1528.5 1288.6 1532.6 C1289.1 1536.7 1290.0 1543.2 1290.2 1544.6" stroke="#000" stroke-width="3.7" fill="none"/>
<path d="M1290.7 1548.6 C1290.9 1548.8 1292.0 1551.2 1292.5 1550.2 C1293.0 1549.1 1294.3 1542.9 1295.1 1539.6 C1295.9 1536.3 1297.9 1525.8 1299.5 1521.9 C1301.1 1518.0 1306.1 1509.1 1308.4 1505.9 C1310.7 1502.7 1316.5 1496.8 1319.0 1494.4 C1321.5 1492.0 1327.3 1487.1 1329.6 1485.6 C1331.9 1484.1 1337.1 1482.5 1338.5 1481.2 C1339.9 1479.9 1341.1 1476.0 1341.5 1474.6 C1341.9 1473.2 1341.9 1469.7 1342.0 1469.1" stroke="#000" stroke-width="3.7" fill="none"/>
</g></g>
<g transform="translate(0.0,0.0)">
<g clip-path="url(#cA)">
<path d="M242.0 306.2 C243.0 306.3 247.2 305.1 249.5 306.6 C251.8 308.1 256.4 314.4 259.0 317.3 C261.6 320.2 266.3 325.5 269.0 328.5 C271.7 331.5 277.5 338.0 279.5 340.0 C281.5 342.0 282.5 342.8 284.0 343.4 C285.5 344.0 290.1 344.1 291.0 344.2" fill="none" stroke="#fff" stroke-width="3.5" stroke-linejoin="round" stroke-linecap="round"/>
</g>
<g clip-path="url(#mclip)">
<path d="M232.2 347.5 L235.5 310.7 L246.2 311.3 L279.2 348.3 Z" fill="#787878" stroke="#1b1b1b" stroke-width="5.9" stroke-linejoin="round"/>
<path d="M299.0 347.5 L303.3 338.1 L309.4 326.0 L315.4 313.8 L320.0 301.7 L323.3 289.6 L326.3 277.5 L329.4 265.4 L332.4 253.2 L334.6 241.1 L336.0 229.0 L338.3 204.7 L342.1 180.5 L345.5 156.3 L347.7 138.0 L348.7 131.2 L349.7 129.0 L350.7 131.2 L351.7 138.0 L354.6 156.3 L358.2 180.5 L361.8 204.7 L365.1 229.0 L368.8 253.2 L372.4 277.5 L376.0 301.7 L379.7 326.0 L382.8 347.5 Z" fill="#787878" stroke="#1b1b1b" stroke-width="6.1" stroke-linejoin="round"/>
</g>
<path d="M258.6 345 v-10.5 M349.8 345 v-10.5" stroke="#1b1b1b" stroke-width="3.6"/>
<path d="M229.5 345.3 H386.0" stroke="#1b1b1b" stroke-width="4.2"/>
<path d="M348.4 133.8 l8.5 11.6 l-8.5 11.6 l-8.5 -11.6 Z" fill="#00ffff" stroke="#150808" stroke-width="1.5" stroke-linejoin="miter"/>
<path d="M342.2 195.4 l8.5 11.6 l-8.5 11.6 l-8.5 -11.6 Z" fill="#00ffff" stroke="#150808" stroke-width="1.5" stroke-linejoin="miter"/>
<path d="M331.9 248.7 l8.5 11.6 l-8.5 11.6 l-8.5 -11.6 Z" fill="#00ffff" stroke="#150808" stroke-width="1.5" stroke-linejoin="miter"/>
<path d="M309.8 316.7 l8.5 11.6 l-8.5 11.6 l-8.5 -11.6 Z" fill="#00ffff" stroke="#150808" stroke-width="1.5" stroke-linejoin="miter"/>
</g>
<g transform="translate(310.9,0.0)">
<g clip-path="url(#cB)">
<path d="M242.0 306.2 C243.0 306.3 247.2 305.1 249.5 306.6 C251.8 308.1 256.4 314.4 259.0 317.3 C261.6 320.2 266.3 325.5 269.0 328.5 C271.7 331.5 277.5 338.0 279.5 340.0 C281.5 342.0 282.5 342.8 284.0 343.4 C285.5 344.0 290.1 344.1 291.0 344.2" fill="none" stroke="#fff" stroke-width="3.5" stroke-linejoin="round" stroke-linecap="round"/>
</g>
<g clip-path="url(#mclip)">
<path d="M232.2 347.5 L235.5 310.7 L246.2 311.3 L279.2 348.3 Z" fill="#787878" stroke="#1b1b1b" stroke-width="5.9" stroke-linejoin="round"/>
<path d="M299.0 347.5 L303.3 338.1 L309.4 326.0 L315.4 313.8 L320.0 301.7 L323.3 289.6 L326.3 277.5 L329.4 265.4 L332.4 253.2 L334.6 241.1 L336.0 229.0 L338.3 204.7 L342.1 180.5 L345.5 156.3 L347.7 138.0 L348.7 131.2 L349.7 129.0 L350.7 131.2 L351.7 138.0 L354.6 156.3 L358.2 180.5 L361.8 204.7 L365.1 229.0 L368.8 253.2 L372.4 277.5 L376.0 301.7 L379.7 326.0 L382.8 347.5 Z" fill="#787878" stroke="#1b1b1b" stroke-width="6.1" stroke-linejoin="round"/>
</g>
<path d="M258.6 345 v-10.5 M349.8 345 v-10.5" stroke="#1b1b1b" stroke-width="3.6"/>
<path d="M229.5 345.3 H386.0" stroke="#1b1b1b" stroke-width="4.2"/>
<path d="M350.0 134.0 l8.5 11.6 l-8.5 11.6 l-8.5 -11.6 Z" fill="#00ffff" stroke="#150808" stroke-width="1.5" stroke-linejoin="miter"/>
<path d="M343.0 195.5 l8.5 11.6 l-8.5 11.6 l-8.5 -11.6 Z" fill="#00ffff" stroke="#150808" stroke-width="1.5" stroke-linejoin="miter"/>
<path d="M332.6 249.0 l8.5 11.6 l-8.5 11.6 l-8.5 -11.6 Z" fill="#00ffff" stroke="#150808" stroke-width="1.5" stroke-linejoin="miter"/>
<path d="M309.9 316.8 l8.5 11.6 l-8.5 11.6 l-8.5 -11.6 Z" fill="#00ffff" stroke="#150808" stroke-width="1.5" stroke-linejoin="miter"/>
</g>
<g transform="translate(621.8,0.0)">
<g clip-path="url(#cC)">
<path d="M242.0 306.2 C243.0 306.3 247.2 305.1 249.5 306.6 C251.8 308.1 256.4 314.4 259.0 317.3 C261.6 320.2 266.3 325.5 269.0 328.5 C271.7 331.5 277.5 338.0 279.5 340.0 C281.5 342.0 282.5 342.8 284.0 343.4 C285.5 344.0 290.1 344.1 291.0 344.2" fill="none" stroke="#fff" stroke-width="3.5" stroke-linejoin="round" stroke-linecap="round"/>
</g>
<g clip-path="url(#mclip)">
<path d="M232.2 347.5 L235.5 310.7 L246.2 311.3 L279.2 348.3 Z" fill="#787878" stroke="#1b1b1b" stroke-width="5.9" stroke-linejoin="round"/>
<path d="M299.0 347.5 L303.3 338.1 L309.4 326.0 L315.4 313.8 L320.0 301.7 L323.3 289.6 L326.3 277.5 L329.4 265.4 L332.4 253.2 L334.6 241.1 L336.0 229.0 L338.3 204.7 L342.1 180.5 L345.5 156.3 L347.7 138.0 L348.7 131.2 L349.7 129.0 L350.7 131.2 L351.7 138.0 L354.6 156.3 L358.2 180.5 L361.8 204.7 L365.1 229.0 L368.8 253.2 L372.4 277.5 L376.0 301.7 L379.7 326.0 L382.8 347.5 Z" fill="#787878" stroke="#1b1b1b" stroke-width="6.1" stroke-linejoin="round"/>
</g>
<path d="M258.6 345 v-10.5 M349.8 345 v-10.5" stroke="#1b1b1b" stroke-width="3.6"/>
<path d="M229.5 345.3 H386.0" stroke="#1b1b1b" stroke-width="4.2"/>
<path d="M350.0 134.0 l8.5 11.6 l-8.5 11.6 l-8.5 -11.6 Z" fill="#00ffff" stroke="#150808" stroke-width="1.5" stroke-linejoin="miter"/>
<path d="M343.0 195.5 l8.5 11.6 l-8.5 11.6 l-8.5 -11.6 Z" fill="#00ffff" stroke="#150808" stroke-width="1.5" stroke-linejoin="miter"/>
<path d="M332.6 249.0 l8.5 11.6 l-8.5 11.6 l-8.5 -11.6 Z" fill="#00ffff" stroke="#150808" stroke-width="1.5" stroke-linejoin="miter"/>
<path d="M309.9 316.8 l8.5 11.6 l-8.5 11.6 l-8.5 -11.6 Z" fill="#00ffff" stroke="#150808" stroke-width="1.5" stroke-linejoin="miter"/>
</g>
<g transform="translate(932.7,0.0)">
<g clip-path="url(#cD)">
<path d="M242.0 306.2 C243.0 306.3 247.2 305.1 249.5 306.6 C251.8 308.1 256.4 314.4 259.0 317.3 C261.6 320.2 266.3 325.5 269.0 328.5 C271.7 331.5 277.5 338.0 279.5 340.0 C281.5 342.0 282.5 342.8 284.0 343.4 C285.5 344.0 290.1 344.1 291.0 344.2" fill="none" stroke="#fff" stroke-width="3.5" stroke-linejoin="round" stroke-linecap="round"/>
</g>
<g clip-path="url(#mclip)">
<path d="M232.2 347.5 L235.5 310.7 L246.2 311.3 L279.2 348.3 Z" fill="#787878" stroke="#1b1b1b" stroke-width="5.9" stroke-linejoin="round"/>
<path d="M299.0 347.5 L303.3 338.1 L309.4 326.0 L315.4 313.8 L320.0 301.7 L323.3 289.6 L326.3 277.5 L329.4 265.4 L332.4 253.2 L334.6 241.1 L336.0 229.0 L338.3 204.7 L342.1 180.5 L345.5 156.3 L347.7 138.0 L348.7 131.2 L349.7 129.0 L350.7 131.2 L351.7 138.0 L354.6 156.3 L358.2 180.5 L361.8 204.7 L365.1 229.0 L368.8 253.2 L372.4 277.5 L376.0 301.7 L379.7 326.0 L382.8 347.5 Z" fill="#787878" stroke="#1b1b1b" stroke-width="6.1" stroke-linejoin="round"/>
</g>
<path d="M258.6 345 v-10.5 M349.8 345 v-10.5" stroke="#1b1b1b" stroke-width="3.6"/>
<path d="M229.5 345.3 H386.0" stroke="#1b1b1b" stroke-width="4.2"/>
<path d="M350.0 134.0 l8.5 11.6 l-8.5 11.6 l-8.5 -11.6 Z" fill="#00ffff" stroke="#150808" stroke-width="1.5" stroke-linejoin="miter"/>
<path d="M343.0 195.5 l8.5 11.6 l-8.5 11.6 l-8.5 -11.6 Z" fill="#00ffff" stroke="#150808" stroke-width="1.5" stroke-linejoin="miter"/>
<path d="M332.6 249.0 l8.5 11.6 l-8.5 11.6 l-8.5 -11.6 Z" fill="#00ffff" stroke="#150808" stroke-width="1.5" stroke-linejoin="miter"/>
<path d="M309.9 316.8 l8.5 11.6 l-8.5 11.6 l-8.5 -11.6 Z" fill="#00ffff" stroke="#150808" stroke-width="1.5" stroke-linejoin="miter"/>
</g>
<g transform="translate(0.0,353.0)">
<g clip-path="url(#cE)">
<path d="M242.0 306.2 C243.0 306.3 247.2 305.1 249.5 306.6 C251.8 308.1 256.4 314.4 259.0 317.3 C261.6 320.2 266.3 325.5 269.0 328.5 C271.7 331.5 277.5 338.0 279.5 340.0 C281.5 342.0 282.5 342.8 284.0 343.4 C285.5 344.0 290.1 344.1 291.0 344.2" fill="none" stroke="#fff" stroke-width="3.5" stroke-linejoin="round" stroke-linecap="round"/>
</g>
<g clip-path="url(#mclip)">
<path d="M232.2 347.5 L235.5 310.7 L246.2 311.3 L279.2 348.3 Z" fill="#787878" stroke="#1b1b1b" stroke-width="5.9" stroke-linejoin="round"/>
<path d="M299.0 347.5 L303.3 338.1 L309.4 326.0 L315.4 313.8 L320.0 301.7 L323.3 289.6 L326.3 277.5 L329.4 265.4 L332.4 253.2 L334.6 241.1 L336.0 229.0 L338.3 204.7 L342.1 180.5 L345.5 156.3 L347.7 138.0 L348.7 131.2 L349.7 129.0 L350.7 131.2 L351.7 138.0 L354.6 156.3 L358.2 180.5 L361.8 204.7 L365.1 229.0 L368.8 253.2 L372.4 277.5 L376.0 301.7 L379.7 326.0 L382.8 347.5 Z" fill="#787878" stroke="#1b1b1b" stroke-width="6.1" stroke-linejoin="round"/>
</g>
<path d="M258.6 345 v-10.5 M349.8 345 v-10.5" stroke="#1b1b1b" stroke-width="3.6"/>
<path d="M229.5 345.3 H386.0" stroke="#1b1b1b" stroke-width="4.2"/>
<path d="M348.4 133.8 l8.5 11.6 l-8.5 11.6 l-8.5 -11.6 Z" fill="#00ffff" stroke="#150808" stroke-width="1.5" stroke-linejoin="miter"/>
<path d="M342.2 195.4 l8.5 11.6 l-8.5 11.6 l-8.5 -11.6 Z" fill="#00ffff" stroke="#150808" stroke-width="1.5" stroke-linejoin="miter"/>
<path d="M331.9 248.7 l8.5 11.6 l-8.5 11.6 l-8.5 -11.6 Z" fill="#00ffff" stroke="#150808" stroke-width="1.5" stroke-linejoin="miter"/>
<path d="M309.8 316.7 l8.5 11.6 l-8.5 11.6 l-8.5 -11.6 Z" fill="#00ffff" stroke="#150808" stroke-width="1.5" stroke-linejoin="miter"/>
</g>
<g transform="translate(310.9,353.0)">
<g clip-path="url(#cF)">
<path d="M242.0 306.2 C243.0 306.3 247.2 305.1 249.5 306.6 C251.8 308.1 256.4 314.4 259.0 317.3 C261.6 320.2 266.3 325.5 269.0 328.5 C271.7 331.5 277.5 338.0 279.5 340.0 C281.5 342.0 282.5 342.8 284.0 343.4 C285.5 344.0 290.1 344.1 291.0 344.2" fill="none" stroke="#fff" stroke-width="3.5" stroke-linejoin="round" stroke-linecap="round"/>
</g>
<g clip-path="url(#mclip)">
<path d="M232.2 347.5 L235.5 310.7 L246.2 311.3 L279.2 348.3 Z" fill="#787878" stroke="#1b1b1b" stroke-width="5.9" stroke-linejoin="round"/>
<path d="M299.0 347.5 L303.3 338.1 L309.4 326.0 L315.4 313.8 L320.0 301.7 L323.3 289.6 L326.3 277.5 L329.4 265.4 L332.4 253.2 L334.6 241.1 L336.0 229.0 L338.3 204.7 L342.1 180.5 L345.5 156.3 L347.7 138.0 L348.7 131.2 L349.7 129.0 L350.7 131.2 L351.7 138.0 L354.6 156.3 L358.2 180.5 L361.8 204.7 L365.1 229.0 L368.8 253.2 L372.4 277.5 L376.0 301.7 L379.7 326.0 L382.8 347.5 Z" fill="#787878" stroke="#1b1b1b" stroke-width="6.1" stroke-linejoin="round"/>
</g>
<path d="M258.6 345 v-10.5 M349.8 345 v-10.5" stroke="#1b1b1b" stroke-width="3.6"/>
<path d="M229.5 345.3 H386.0" stroke="#1b1b1b" stroke-width="4.2"/>
<path d="M350.0 134.0 l8.5 11.6 l-8.5 11.6 l-8.5 -11.6 Z" fill="#00ffff" stroke="#150808" stroke-width="1.5" stroke-linejoin="miter"/>
<path d="M343.0 195.5 l8.5 11.6 l-8.5 11.6 l-8.5 -11.6 Z" fill="#00ffff" stroke="#150808" stroke-width="1.5" stroke-linejoin="miter"/>
<path d="M332.6 249.0 l8.5 11.6 l-8.5 11.6 l-8.5 -11.6 Z" fill="#00ffff" stroke="#150808" stroke-width="1.5" stroke-linejoin="miter"/>
<path d="M309.9 316.8 l8.5 11.6 l-8.5 11.6 l-8.5 -11.6 Z" fill="#00ffff" stroke="#150808" stroke-width="1.5" stroke-linejoin="miter"/>
</g>
<g transform="translate(621.8,353.0)">
<g clip-path="url(#cG)">
<path d="M242.0 306.2 C243.0 306.3 247.2 305.1 249.5 306.6 C251.8 308.1 256.4 314.4 259.0 317.3 C261.6 320.2 266.3 325.5 269.0 328.5 C271.7 331.5 277.5 338.0 279.5 340.0 C281.5 342.0 282.5 342.8 284.0 343.4 C285.5 344.0 290.1 344.1 291.0 344.2" fill="none" stroke="#fff" stroke-width="3.5" stroke-linejoin="round" stroke-linecap="round"/>
</g>
<g clip-path="url(#mclip)">
<path d="M232.2 347.5 L235.5 310.7 L246.2 311.3 L279.2 348.3 Z" fill="#787878" stroke="#1b1b1b" stroke-width="5.9" stroke-linejoin="round"/>
<path d="M299.0 347.5 L303.3 338.1 L309.4 326.0 L315.4 313.8 L320.0 301.7 L323.3 289.6 L326.3 277.5 L329.4 265.4 L332.4 253.2 L334.6 241.1 L336.0 229.0 L338.3 204.7 L342.1 180.5 L345.5 156.3 L347.7 138.0 L348.7 131.2 L349.7 129.0 L350.7 131.2 L351.7 138.0 L354.6 156.3 L358.2 180.5 L361.8 204.7 L365.1 229.0 L368.8 253.2 L372.4 277.5 L376.0 301.7 L379.7 326.0 L382.8 347.5 Z" fill="#787878" stroke="#1b1b1b" stroke-width="6.1" stroke-linejoin="round"/>
</g>
<path d="M258.6 345 v-10.5 M349.8 345 v-10.5" stroke="#1b1b1b" stroke-width="3.6"/>
<path d="M229.5 345.3 H386.0" stroke="#1b1b1b" stroke-width="4.2"/>
<path d="M350.0 134.0 l8.5 11.6 l-8.5 11.6 l-8.5 -11.6 Z" fill="#00ffff" stroke="#150808" stroke-width="1.5" stroke-linejoin="miter"/>
<path d="M343.0 195.5 l8.5 11.6 l-8.5 11.6 l-8.5 -11.6 Z" fill="#00ffff" stroke="#150808" stroke-width="1.5" stroke-linejoin="miter"/>
<path d="M332.6 249.0 l8.5 11.6 l-8.5 11.6 l-8.5 -11.6 Z" fill="#00ffff" stroke="#150808" stroke-width="1.5" stroke-linejoin="miter"/>
<path d="M309.9 316.8 l8.5 11.6 l-8.5 11.6 l-8.5 -11.6 Z" fill="#00ffff" stroke="#150808" stroke-width="1.5" stroke-linejoin="miter"/>
</g>
<g transform="translate(932.7,353.0)">
<g clip-path="url(#cH)">
<path d="M242.0 306.2 C243.0 306.3 247.2 305.1 249.5 306.6 C251.8 308.1 256.4 314.4 259.0 317.3 C261.6 320.2 266.3 325.5 269.0 328.5 C271.7 331.5 277.5 338.0 279.5 340.0 C281.5 342.0 282.5 342.8 284.0 343.4 C285.5 344.0 290.1 344.1 291.0 344.2" fill="none" stroke="#fff" stroke-width="3.5" stroke-linejoin="round" stroke-linecap="round"/>
</g>
<g clip-path="url(#mclip)">
<path d="M232.2 347.5 L235.5 310.7 L246.2 311.3 L279.2 348.3 Z" fill="#787878" stroke="#1b1b1b" stroke-width="5.9" stroke-linejoin="round"/>
<path d="M299.0 347.5 L303.3 338.1 L309.4 326.0 L315.4 313.8 L320.0 301.7 L323.3 289.6 L326.3 277.5 L329.4 265.4 L332.4 253.2 L334.6 241.1 L336.0 229.0 L338.3 204.7 L342.1 180.5 L345.5 156.3 L347.7 138.0 L348.7 131.2 L349.7 129.0 L350.7 131.2 L351.7 138.0 L354.6 156.3 L358.2 180.5 L361.8 204.7 L365.1 229.0 L368.8 253.2 L372.4 277.5 L376.0 301.7 L379.7 326.0 L382.8 347.5 Z" fill="#787878" stroke="#1b1b1b" stroke-width="6.1" stroke-linejoin="round"/>
</g>
<path d="M258.6 345 v-10.5 M349.8 345 v-10.5" stroke="#1b1b1b" stroke-width="3.6"/>
<path d="M229.5 345.3 H386.0" stroke="#1b1b1b" stroke-width="4.2"/>
<path d="M350.0 134.0 l8.5 11.6 l-8.5 11.6 l-8.5 -11.6 Z" fill="#00ffff" stroke="#150808" stroke-width="1.5" stroke-linejoin="miter"/>
<path d="M343.0 195.5 l8.5 11.6 l-8.5 11.6 l-8.5 -11.6 Z" fill="#00ffff" stroke="#150808" stroke-width="1.5" stroke-linejoin="miter"/>
<path d="M332.6 249.0 l8.5 11.6 l-8.5 11.6 l-8.5 -11.6 Z" fill="#00ffff" stroke="#150808" stroke-width="1.5" stroke-linejoin="miter"/>
<path d="M309.9 316.8 l8.5 11.6 l-8.5 11.6 l-8.5 -11.6 Z" fill="#00ffff" stroke="#150808" stroke-width="1.5" stroke-linejoin="miter"/>
</g>
<g transform="translate(0.0,707.3)">
<g clip-path="url(#cI)">
<path d="M242.0 306.2 C243.0 306.3 247.2 305.1 249.5 306.6 C251.8 308.1 256.4 314.4 259.0 317.3 C261.6 320.2 266.3 325.5 269.0 328.5 C271.7 331.5 277.5 338.0 279.5 340.0 C281.5 342.0 282.5 342.8 284.0 343.4 C285.5 344.0 290.1 344.1 291.0 344.2" fill="none" stroke="#fff" stroke-width="3.5" stroke-linejoin="round" stroke-linecap="round"/>
</g>
<g clip-path="url(#mclip)">
<path d="M232.2 347.5 L235.5 310.7 L246.2 311.3 L279.2 348.3 Z" fill="#787878" stroke="#1b1b1b" stroke-width="5.9" stroke-linejoin="round"/>
<path d="M299.0 347.5 L303.3 338.1 L309.4 326.0 L315.4 313.8 L320.0 301.7 L323.3 289.6 L326.3 277.5 L329.4 265.4 L332.4 253.2 L334.6 241.1 L336.0 229.0 L338.3 204.7 L342.1 180.5 L345.5 156.3 L347.7 138.0 L348.7 131.2 L349.7 129.0 L350.7 131.2 L351.7 138.0 L354.6 156.3 L358.2 180.5 L361.8 204.7 L365.1 229.0 L368.8 253.2 L372.4 277.5 L376.0 301.7 L379.7 326.0 L382.8 347.5 Z" fill="#787878" stroke="#1b1b1b" stroke-width="6.1" stroke-linejoin="round"/>
</g>
<path d="M258.6 345 v-10.5 M349.8 345 v-10.5" stroke="#1b1b1b" stroke-width="3.6"/>
<path d="M229.5 345.3 H386.0" stroke="#1b1b1b" stroke-width="4.2"/>
<path d="M348.4 133.8 l8.5 11.6 l-8.5 11.6 l-8.5 -11.6 Z" fill="#00ffff" stroke="#150808" stroke-width="1.5" stroke-linejoin="miter"/>
<path d="M342.2 195.4 l8.5 11.6 l-8.5 11.6 l-8.5 -11.6 Z" fill="#00ffff" stroke="#150808" stroke-width="1.5" stroke-linejoin="miter"/>
<path d="M331.9 248.7 l8.5 11.6 l-8.5 11.6 l-8.5 -11.6 Z" fill="#00ffff" stroke="#150808" stroke-width="1.5" stroke-linejoin="miter"/>
<path d="M309.8 316.7 l8.5 11.6 l-8.5 11.6 l-8.5 -11.6 Z" fill="#00ffff" stroke="#150808" stroke-width="1.5" stroke-linejoin="miter"/>
</g>
<g transform="translate(310.9,707.3)">
<g clip-path="url(#cJ)">
<path d="M242.0 306.2 C243.0 306.3 247.2 305.1 249.5 306.6 C251.8 308.1 256.4 314.4 259.0 317.3 C261.6 320.2 266.3 325.5 269.0 328.5 C271.7 331.5 277.5 338.0 279.5 340.0 C281.5 342.0 282.5 342.8 284.0 343.4 C285.5 344.0 290.1 344.1 291.0 344.2" fill="none" stroke="#fff" stroke-width="3.5" stroke-linejoin="round" stroke-linecap="round"/>
</g>
<g clip-path="url(#mclip)">
<path d="M232.2 347.5 L235.5 310.7 L246.2 311.3 L279.2 348.3 Z" fill="#787878" stroke="#1b1b1b" stroke-width="5.9" stroke-linejoin="round"/>
<path d="M299.0 347.5 L303.3 338.1 L309.4 326.0 L315.4 313.8 L320.0 301.7 L323.3 289.6 L326.3 277.5 L329.4 265.4 L332.4 253.2 L334.6 241.1 L336.0 229.0 L338.3 204.7 L342.1 180.5 L345.5 156.3 L347.7 138.0 L348.7 131.2 L349.7 129.0 L350.7 131.2 L351.7 138.0 L354.6 156.3 L358.2 180.5 L361.8 204.7 L365.1 229.0 L368.8 253.2 L372.4 277.5 L376.0 301.7 L379.7 326.0 L382.8 347.5 Z" fill="#787878" stroke="#1b1b1b" stroke-width="6.1" stroke-linejoin="round"/>
</g>
<path d="M258.6 345 v-10.5 M349.8 345 v-10.5" stroke="#1b1b1b" stroke-width="3.6"/>
<path d="M229.5 345.3 H386.0" stroke="#1b1b1b" stroke-width="4.2"/>
<path d="M350.0 134.0 l8.5 11.6 l-8.5 11.6 l-8.5 -11.6 Z" fill="#00ffff" stroke="#150808" stroke-width="1.5" stroke-linejoin="miter"/>
<path d="M343.0 195.5 l8.5 11.6 l-8.5 11.6 l-8.5 -11.6 Z" fill="#00ffff" stroke="#150808" stroke-width="1.5" stroke-linejoin="miter"/>
<path d="M332.6 249.0 l8.5 11.6 l-8.5 11.6 l-8.5 -11.6 Z" fill="#00ffff" stroke="#150808" stroke-width="1.5" stroke-linejoin="miter"/>
<path d="M309.9 316.8 l8.5 11.6 l-8.5 11.6 l-8.5 -11.6 Z" fill="#00ffff" stroke="#150808" stroke-width="1.5" stroke-linejoin="miter"/>
</g>
<g transform="translate(621.8,707.3)">
<g clip-path="url(#cK)">
<path d="M242.0 306.2 C243.0 306.3 247.2 305.1 249.5 306.6 C251.8 308.1 256.4 314.4 259.0 317.3 C261.6 320.2 266.3 325.5 269.0 328.5 C271.7 331.5 277.5 338.0 279.5 340.0 C281.5 342.0 282.5 342.8 284.0 343.4 C285.5 344.0 290.1 344.1 291.0 344.2" fill="none" stroke="#fff" stroke-width="3.5" stroke-linejoin="round" stroke-linecap="round"/>
</g>
<g clip-path="url(#mclip)">
<path d="M232.2 347.5 L235.5 310.7 L246.2 311.3 L279.2 348.3 Z" fill="#787878" stroke="#1b1b1b" stroke-width="5.9" stroke-linejoin="round"/>
<path d="M299.0 347.5 L303.3 338.1 L309.4 326.0 L315.4 313.8 L320.0 301.7 L323.3 289.6 L326.3 277.5 L329.4 265.4 L332.4 253.2 L334.6 241.1 L336.0 229.0 L338.3 204.7 L342.1 180.5 L345.5 156.3 L347.7 138.0 L348.7 131.2 L349.7 129.0 L350.7 131.2 L351.7 138.0 L354.6 156.3 L358.2 180.5 L361.8 204.7 L365.1 229.0 L368.8 253.2 L372.4 277.5 L376.0 301.7 L379.7 326.0 L382.8 347.5 Z" fill="#787878" stroke="#1b1b1b" stroke-width="6.1" stroke-linejoin="round"/>
</g>
<path d="M258.6 345 v-10.5 M349.8 345 v-10.5" stroke="#1b1b1b" stroke-width="3.6"/>
<path d="M229.5 345.3 H386.0" stroke="#1b1b1b" stroke-width="4.2"/>
<path d="M350.0 134.0 l8.5 11.6 l-8.5 11.6 l-8.5 -11.6 Z" fill="#00ffff" stroke="#150808" stroke-width="1.5" stroke-linejoin="miter"/>
<path d="M343.0 195.5 l8.5 11.6 l-8.5 11.6 l-8.5 -11.6 Z" fill="#00ffff" stroke="#150808" stroke-width="1.5" stroke-linejoin="miter"/>
<path d="M332.6 249.0 l8.5 11.6 l-8.5 11.6 l-8.5 -11.6 Z" fill="#00ffff" stroke="#150808" stroke-width="1.5" stroke-linejoin="miter"/>
<path d="M309.9 316.8 l8.5 11.6 l-8.5 11.6 l-8.5 -11.6 Z" fill="#00ffff" stroke="#150808" stroke-width="1.5" stroke-linejoin="miter"/>
</g>
<g transform="translate(932.7,707.3)">
<g clip-path="url(#cL)">
<path d="M242.0 306.2 C243.0 306.3 247.2 305.1 249.5 306.6 C251.8 308.1 256.4 314.4 259.0 317.3 C261.6 320.2 266.3 325.5 269.0 328.5 C271.7 331.5 277.5 338.0 279.5 340.0 C281.5 342.0 282.5 342.8 284.0 343.4 C285.5 344.0 290.1 344.1 291.0 344.2" fill="none" stroke="#fff" stroke-width="3.5" stroke-linejoin="round" stroke-linecap="round"/>
</g>
<g clip-path="url(#mclip)">
<path d="M232.2 347.5 L235.5 310.7 L246.2 311.3 L279.2 348.3 Z" fill="#787878" stroke="#1b1b1b" stroke-width="5.9" stroke-linejoin="round"/>
<path d="M299.0 347.5 L303.3 338.1 L309.4 326.0 L315.4 313.8 L320.0 301.7 L323.3 289.6 L326.3 277.5 L329.4 265.4 L332.4 253.2 L334.6 241.1 L336.0 229.0 L338.3 204.7 L342.1 180.5 L345.5 156.3 L347.7 138.0 L348.7 131.2 L349.7 129.0 L350.7 131.2 L351.7 138.0 L354.6 156.3 L358.2 180.5 L361.8 204.7 L365.1 229.0 L368.8 253.2 L372.4 277.5 L376.0 301.7 L379.7 326.0 L382.8 347.5 Z" fill="#787878" stroke="#1b1b1b" stroke-width="6.1" stroke-linejoin="round"/>
</g>
<path d="M258.6 345 v-10.5 M349.8 345 v-10.5" stroke="#1b1b1b" stroke-width="3.6"/>
<path d="M229.5 345.3 H386.0" stroke="#1b1b1b" stroke-width="4.2"/>
<path d="M350.0 134.0 l8.5 11.6 l-8.5 11.6 l-8.5 -11.6 Z" fill="#00ffff" stroke="#150808" stroke-width="1.5" stroke-linejoin="miter"/>
<path d="M343.0 195.5 l8.5 11.6 l-8.5 11.6 l-8.5 -11.6 Z" fill="#00ffff" stroke="#150808" stroke-width="1.5" stroke-linejoin="miter"/>
<path d="M332.6 249.0 l8.5 11.6 l-8.5 11.6 l-8.5 -11.6 Z" fill="#00ffff" stroke="#150808" stroke-width="1.5" stroke-linejoin="miter"/>
<path d="M309.9 316.8 l8.5 11.6 l-8.5 11.6 l-8.5 -11.6 Z" fill="#00ffff" stroke="#150808" stroke-width="1.5" stroke-linejoin="miter"/>
</g>
<g transform="translate(0.0,1060.1)">
<g clip-path="url(#cM)">
<path d="M242.0 306.2 C243.0 306.3 247.2 305.1 249.5 306.6 C251.8 308.1 256.4 314.4 259.0 317.3 C261.6 320.2 266.3 325.5 269.0 328.5 C271.7 331.5 277.5 338.0 279.5 340.0 C281.5 342.0 282.5 342.8 284.0 343.4 C285.5 344.0 290.1 344.1 291.0 344.2" fill="none" stroke="#fff" stroke-width="3.5" stroke-linejoin="round" stroke-linecap="round"/>
</g>
<g clip-path="url(#mclip)">
<path d="M232.2 347.5 L235.5 310.7 L246.2 311.3 L279.2 348.3 Z" fill="#787878" stroke="#1b1b1b" stroke-width="5.9" stroke-linejoin="round"/>
<path d="M299.0 347.5 L303.3 338.1 L309.4 326.0 L315.4 313.8 L320.0 301.7 L323.3 289.6 L326.3 277.5 L329.4 265.4 L332.4 253.2 L334.6 241.1 L336.0 229.0 L338.3 204.7 L342.1 180.5 L345.5 156.3 L347.7 138.0 L348.7 131.2 L349.7 129.0 L350.7 131.2 L351.7 138.0 L354.6 156.3 L358.2 180.5 L361.8 204.7 L365.1 229.0 L368.8 253.2 L372.4 277.5 L376.0 301.7 L379.7 326.0 L382.8 347.5 Z" fill="#787878" stroke="#1b1b1b" stroke-width="6.1" stroke-linejoin="round"/>
</g>
<path d="M258.6 345 v-10.5 M349.8 345 v-10.5" stroke="#1b1b1b" stroke-width="3.6"/>
<path d="M229.5 345.3 H386.0" stroke="#1b1b1b" stroke-width="4.2"/>
<path d="M348.4 133.8 l8.5 11.6 l-8.5 11.6 l-8.5 -11.6 Z" fill="#00ffff" stroke="#150808" stroke-width="1.5" stroke-linejoin="miter"/>
<path d="M342.2 195.4 l8.5 11.6 l-8.5 11.6 l-8.5 -11.6 Z" fill="#00ffff" stroke="#150808" stroke-width="1.5" stroke-linejoin="miter"/>
<path d="M331.9 248.7 l8.5 11.6 l-8.5 11.6 l-8.5 -11.6 Z" fill="#00ffff" stroke="#150808" stroke-width="1.5" stroke-linejoin="miter"/>
<path d="M309.8 316.7 l8.5 11.6 l-8.5 11.6 l-8.5 -11.6 Z" fill="#00ffff" stroke="#150808" stroke-width="1.5" stroke-linejoin="miter"/>
</g>
<g transform="translate(310.9,1060.1)">
<g clip-path="url(#cN)">
<path d="M242.0 306.2 C243.0 306.3 247.2 305.1 249.5 306.6 C251.8 308.1 256.4 314.4 259.0 317.3 C261.6 320.2 266.3 325.5 269.0 328.5 C271.7 331.5 277.5 338.0 279.5 340.0 C281.5 342.0 282.5 342.8 284.0 343.4 C285.5 344.0 290.1 344.1 291.0 344.2" fill="none" stroke="#fff" stroke-width="3.5" stroke-linejoin="round" stroke-linecap="round"/>
</g>
<g clip-path="url(#mclip)">
<path d="M232.2 347.5 L235.5 310.7 L246.2 311.3 L279.2 348.3 Z" fill="#787878" stroke="#1b1b1b" stroke-width="5.9" stroke-linejoin="round"/>
<path d="M299.0 347.5 L303.3 338.1 L309.4 326.0 L315.4 313.8 L320.0 301.7 L323.3 289.6 L326.3 277.5 L329.4 265.4 L332.4 253.2 L334.6 241.1 L336.0 229.0 L338.3 204.7 L342.1 180.5 L345.5 156.3 L347.7 138.0 L348.7 131.2 L349.7 129.0 L350.7 131.2 L351.7 138.0 L354.6 156.3 L358.2 180.5 L361.8 204.7 L365.1 229.0 L368.8 253.2 L372.4 277.5 L376.0 301.7 L379.7 326.0 L382.8 347.5 Z" fill="#787878" stroke="#1b1b1b" stroke-width="6.1" stroke-linejoin="round"/>
</g>
<path d="M258.6 345 v-10.5 M349.8 345 v-10.5" stroke="#1b1b1b" stroke-width="3.6"/>
<path d="M229.5 345.3 H386.0" stroke="#1b1b1b" stroke-width="4.2"/>
<path d="M350.0 134.0 l8.5 11.6 l-8.5 11.6 l-8.5 -11.6 Z" fill="#00ffff" stroke="#150808" stroke-width="1.5" stroke-linejoin="miter"/>
<path d="M343.0 195.5 l8.5 11.6 l-8.5 11.6 l-8.5 -11.6 Z" fill="#00ffff" stroke="#150808" stroke-width="1.5" stroke-linejoin="miter"/>
<path d="M332.6 249.0 l8.5 11.6 l-8.5 11.6 l-8.5 -11.6 Z" fill="#00ffff" stroke="#150808" stroke-width="1.5" stroke-linejoin="miter"/>
<path d="M309.9 316.8 l8.5 11.6 l-8.5 11.6 l-8.5 -11.6 Z" fill="#00ffff" stroke="#150808" stroke-width="1.5" stroke-linejoin="miter"/>
</g>
<g transform="translate(621.8,1060.1)">
<g clip-path="url(#cO)">
<path d="M242.0 306.2 C243.0 306.3 247.2 305.1 249.5 306.6 C251.8 308.1 256.4 314.4 259.0 317.3 C261.6 320.2 266.3 325.5 269.0 328.5 C271.7 331.5 277.5 338.0 279.5 340.0 C281.5 342.0 282.5 342.8 284.0 343.4 C285.5 344.0 290.1 344.1 291.0 344.2" fill="none" stroke="#fff" stroke-width="3.5" stroke-linejoin="round" stroke-linecap="round"/>
</g>
<g clip-path="url(#mclip)">
<path d="M232.2 347.5 L235.5 310.7 L246.2 311.3 L279.2 348.3 Z" fill="#787878" stroke="#1b1b1b" stroke-width="5.9" stroke-linejoin="round"/>
<path d="M299.0 347.5 L303.3 338.1 L309.4 326.0 L315.4 313.8 L320.0 301.7 L323.3 289.6 L326.3 277.5 L329.4 265.4 L332.4 253.2 L334.6 241.1 L336.0 229.0 L338.3 204.7 L342.1 180.5 L345.5 156.3 L347.7 138.0 L348.7 131.2 L349.7 129.0 L350.7 131.2 L351.7 138.0 L354.6 156.3 L358.2 180.5 L361.8 204.7 L365.1 229.0 L368.8 253.2 L372.4 277.5 L376.0 301.7 L379.7 326.0 L382.8 347.5 Z" fill="#787878" stroke="#1b1b1b" stroke-width="6.1" stroke-linejoin="round"/>
</g>
<path d="M258.6 345 v-10.5 M349.8 345 v-10.5" stroke="#1b1b1b" stroke-width="3.6"/>
<path d="M229.5 345.3 H386.0" stroke="#1b1b1b" stroke-width="4.2"/>
<path d="M350.0 134.0 l8.5 11.6 l-8.5 11.6 l-8.5 -11.6 Z" fill="#00ffff" stroke="#150808" stroke-width="1.5" stroke-linejoin="miter"/>
<path d="M343.0 195.5 l8.5 11.6 l-8.5 11.6 l-8.5 -11.6 Z" fill="#00ffff" stroke="#150808" stroke-width="1.5" stroke-linejoin="miter"/>
<path d="M332.6 249.0 l8.5 11.6 l-8.5 11.6 l-8.5 -11.6 Z" fill="#00ffff" stroke="#150808" stroke-width="1.5" stroke-linejoin="miter"/>
<path d="M309.9 316.8 l8.5 11.6 l-8.5 11.6 l-8.5 -11.6 Z" fill="#00ffff" stroke="#150808" stroke-width="1.5" stroke-linejoin="miter"/>
</g>
<g transform="translate(932.7,1060.1)">
<g clip-path="url(#cP)">
<path d="M242.0 306.2 C243.0 306.3 247.2 305.1 249.5 306.6 C251.8 308.1 256.4 314.4 259.0 317.3 C261.6 320.2 266.3 325.5 269.0 328.5 C271.7 331.5 277.5 338.0 279.5 340.0 C281.5 342.0 282.5 342.8 284.0 343.4 C285.5 344.0 290.1 344.1 291.0 344.2" fill="none" stroke="#fff" stroke-width="3.5" stroke-linejoin="round" stroke-linecap="round"/>
</g>
<g clip-path="url(#mclip)">
<path d="M232.2 347.5 L235.5 310.7 L246.2 311.3 L279.2 348.3 Z" fill="#787878" stroke="#1b1b1b" stroke-width="5.9" stroke-linejoin="round"/>
<path d="M299.0 347.5 L303.3 338.1 L309.4 326.0 L315.4 313.8 L320.0 301.7 L323.3 289.6 L326.3 277.5 L329.4 265.4 L332.4 253.2 L334.6 241.1 L336.0 229.0 L338.3 204.7 L342.1 180.5 L345.5 156.3 L347.7 138.0 L348.7 131.2 L349.7 129.0 L350.7 131.2 L351.7 138.0 L354.6 156.3 L358.2 180.5 L361.8 204.7 L365.1 229.0 L368.8 253.2 L372.4 277.5 L376.0 301.7 L379.7 326.0 L382.8 347.5 Z" fill="#787878" stroke="#1b1b1b" stroke-width="6.1" stroke-linejoin="round"/>
</g>
<path d="M258.6 345 v-10.5 M349.8 345 v-10.5" stroke="#1b1b1b" stroke-width="3.6"/>
<path d="M229.5 345.3 H386.0" stroke="#1b1b1b" stroke-width="4.2"/>
<path d="M350.0 134.0 l8.5 11.6 l-8.5 11.6 l-8.5 -11.6 Z" fill="#00ffff" stroke="#150808" stroke-width="1.5" stroke-linejoin="miter"/>
<path d="M343.0 195.5 l8.5 11.6 l-8.5 11.6 l-8.5 -11.6 Z" fill="#00ffff" stroke="#150808" stroke-width="1.5" stroke-linejoin="miter"/>
<path d="M332.6 249.0 l8.5 11.6 l-8.5 11.6 l-8.5 -11.6 Z" fill="#00ffff" stroke="#150808" stroke-width="1.5" stroke-linejoin="miter"/>
<path d="M309.9 316.8 l8.5 11.6 l-8.5 11.6 l-8.5 -11.6 Z" fill="#00ffff" stroke="#150808" stroke-width="1.5" stroke-linejoin="miter"/>
</g>
<g transform="translate(0.0,1414.6)">
<g clip-path="url(#cQ)">
<path d="M242.0 306.2 C243.0 306.3 247.2 305.1 249.5 306.6 C251.8 308.1 256.4 314.4 259.0 317.3 C261.6 320.2 266.3 325.5 269.0 328.5 C271.7 331.5 277.5 338.0 279.5 340.0 C281.5 342.0 282.5 342.8 284.0 343.4 C285.5 344.0 290.1 344.1 291.0 344.2" fill="none" stroke="#fff" stroke-width="3.5" stroke-linejoin="round" stroke-linecap="round"/>
</g>
<g clip-path="url(#mclip)">
<path d="M232.2 347.5 L235.5 310.7 L246.2 311.3 L279.2 348.3 Z" fill="#787878" stroke="#1b1b1b" stroke-width="5.9" stroke-linejoin="round"/>
<path d="M299.0 347.5 L303.3 338.1 L309.4 326.0 L315.4 313.8 L320.0 301.7 L323.3 289.6 L326.3 277.5 L329.4 265.4 L332.4 253.2 L334.6 241.1 L336.0 229.0 L338.3 204.7 L342.1 180.5 L345.5 156.3 L347.7 138.0 L348.7 131.2 L349.7 129.0 L350.7 131.2 L351.7 138.0 L354.6 156.3 L358.2 180.5 L361.8 204.7 L365.1 229.0 L368.8 253.2 L372.4 277.5 L376.0 301.7 L379.7 326.0 L382.8 347.5 Z" fill="#787878" stroke="#1b1b1b" stroke-width="6.1" stroke-linejoin="round"/>
</g>
<path d="M258.6 345 v-10.5 M349.8 345 v-10.5" stroke="#1b1b1b" stroke-width="3.6"/>
<path d="M229.5 345.3 H386.0" stroke="#1b1b1b" stroke-width="4.2"/>
<path d="M348.4 133.8 l8.5 11.6 l-8.5 11.6 l-8.5 -11.6 Z" fill="#00ffff" stroke="#150808" stroke-width="1.5" stroke-linejoin="miter"/>
<path d="M342.2 195.4 l8.5 11.6 l-8.5 11.6 l-8.5 -11.6 Z" fill="#00ffff" stroke="#150808" stroke-width="1.5" stroke-linejoin="miter"/>
<path d="M331.9 248.7 l8.5 11.6 l-8.5 11.6 l-8.5 -11.6 Z" fill="#00ffff" stroke="#150808" stroke-width="1.5" stroke-linejoin="miter"/>
<path d="M309.8 316.7 l8.5 11.6 l-8.5 11.6 l-8.5 -11.6 Z" fill="#00ffff" stroke="#150808" stroke-width="1.5" stroke-linejoin="miter"/>
</g>
<g transform="translate(310.9,1414.6)">
<g clip-path="url(#cR)">
<path d="M242.0 306.2 C243.0 306.3 247.2 305.1 249.5 306.6 C251.8 308.1 256.4 314.4 259.0 317.3 C261.6 320.2 266.3 325.5 269.0 328.5 C271.7 331.5 277.5 338.0 279.5 340.0 C281.5 342.0 282.5 342.8 284.0 343.4 C285.5 344.0 290.1 344.1 291.0 344.2" fill="none" stroke="#fff" stroke-width="3.5" stroke-linejoin="round" stroke-linecap="round"/>
</g>
<g clip-path="url(#mclip)">
<path d="M232.2 347.5 L235.5 310.7 L246.2 311.3 L279.2 348.3 Z" fill="#787878" stroke="#1b1b1b" stroke-width="5.9" stroke-linejoin="round"/>
<path d="M299.0 347.5 L303.3 338.1 L309.4 326.0 L315.4 313.8 L320.0 301.7 L323.3 289.6 L326.3 277.5 L329.4 265.4 L332.4 253.2 L334.6 241.1 L336.0 229.0 L338.3 204.7 L342.1 180.5 L345.5 156.3 L347.7 138.0 L348.7 131.2 L349.7 129.0 L350.7 131.2 L351.7 138.0 L354.6 156.3 L358.2 180.5 L361.8 204.7 L365.1 229.0 L368.8 253.2 L372.4 277.5 L376.0 301.7 L379.7 326.0 L382.8 347.5 Z" fill="#787878" stroke="#1b1b1b" stroke-width="6.1" stroke-linejoin="round"/>
</g>
<path d="M258.6 345 v-10.5 M349.8 345 v-10.5" stroke="#1b1b1b" stroke-width="3.6"/>
<path d="M229.5 345.3 H386.0" stroke="#1b1b1b" stroke-width="4.2"/>
<path d="M350.0 134.0 l8.5 11.6 l-8.5 11.6 l-8.5 -11.6 Z" fill="#00ffff" stroke="#150808" stroke-width="1.5" stroke-linejoin="miter"/>
<path d="M343.0 195.5 l8.5 11.6 l-8.5 11.6 l-8.5 -11.6 Z" fill="#00ffff" stroke="#150808" stroke-width="1.5" stroke-linejoin="miter"/>
<path d="M332.6 249.0 l8.5 11.6 l-8.5 11.6 l-8.5 -11.6 Z" fill="#00ffff" stroke="#150808" stroke-width="1.5" stroke-linejoin="miter"/>
<path d="M309.9 316.8 l8.5 11.6 l-8.5 11.6 l-8.5 -11.6 Z" fill="#00ffff" stroke="#150808" stroke-width="1.5" stroke-linejoin="miter"/>
</g>
<g transform="translate(621.8,1414.6)">
<g clip-path="url(#cS)">
<path d="M242.0 306.2 C243.0 306.3 247.2 305.1 249.5 306.6 C251.8 308.1 256.4 314.4 259.0 317.3 C261.6 320.2 266.3 325.5 269.0 328.5 C271.7 331.5 277.5 338.0 279.5 340.0 C281.5 342.0 282.5 342.8 284.0 343.4 C285.5 344.0 290.1 344.1 291.0 344.2" fill="none" stroke="#fff" stroke-width="3.5" stroke-linejoin="round" stroke-linecap="round"/>
</g>
<g clip-path="url(#mclip)">
<path d="M232.2 347.5 L235.5 310.7 L246.2 311.3 L279.2 348.3 Z" fill="#787878" stroke="#1b1b1b" stroke-width="5.9" stroke-linejoin="round"/>
<path d="M299.0 347.5 L303.3 338.1 L309.4 326.0 L315.4 313.8 L320.0 301.7 L323.3 289.6 L326.3 277.5 L329.4 265.4 L332.4 253.2 L334.6 241.1 L336.0 229.0 L338.3 204.7 L342.1 180.5 L345.5 156.3 L347.7 138.0 L348.7 131.2 L349.7 129.0 L350.7 131.2 L351.7 138.0 L354.6 156.3 L358.2 180.5 L361.8 204.7 L365.1 229.0 L368.8 253.2 L372.4 277.5 L376.0 301.7 L379.7 326.0 L382.8 347.5 Z" fill="#787878" stroke="#1b1b1b" stroke-width="6.1" stroke-linejoin="round"/>
</g>
<path d="M258.6 345 v-10.5 M349.8 345 v-10.5" stroke="#1b1b1b" stroke-width="3.6"/>
<path d="M229.5 345.3 H386.0" stroke="#1b1b1b" stroke-width="4.2"/>
<path d="M350.0 134.0 l8.5 11.6 l-8.5 11.6 l-8.5 -11.6 Z" fill="#00ffff" stroke="#150808" stroke-width="1.5" stroke-linejoin="miter"/>
<path d="M343.0 195.5 l8.5 11.6 l-8.5 11.6 l-8.5 -11.6 Z" fill="#00ffff" stroke="#150808" stroke-width="1.5" stroke-linejoin="miter"/>
<path d="M332.6 249.0 l8.5 11.6 l-8.5 11.6 l-8.5 -11.6 Z" fill="#00ffff" stroke="#150808" stroke-width="1.5" stroke-linejoin="miter"/>
<path d="M309.9 316.8 l8.5 11.6 l-8.5 11.6 l-8.5 -11.6 Z" fill="#00ffff" stroke="#150808" stroke-width="1.5" stroke-linejoin="miter"/>
</g>
<g transform="translate(932.7,1414.6)">
<g clip-path="url(#cT)">
<path d="M242.0 306.2 C243.0 306.3 247.2 305.1 249.5 306.6 C251.8 308.1 256.4 314.4 259.0 317.3 C261.6 320.2 266.3 325.5 269.0 328.5 C271.7 331.5 277.5 338.0 279.5 340.0 C281.5 342.0 282.5 342.8 284.0 343.4 C285.5 344.0 290.1 344.1 291.0 344.2" fill="none" stroke="#fff" stroke-width="3.5" stroke-linejoin="round" stroke-linecap="round"/>
</g>
<g clip-path="url(#mclip)">
<path d="M232.2 347.5 L235.5 310.7 L246.2 311.3 L279.2 348.3 Z" fill="#787878" stroke="#1b1b1b" stroke-width="5.9" stroke-linejoin="round"/>
<path d="M299.0 347.5 L303.3 338.1 L309.4 326.0 L315.4 313.8 L320.0 301.7 L323.3 289.6 L326.3 277.5 L329.4 265.4 L332.4 253.2 L334.6 241.1 L336.0 229.0 L338.3 204.7 L342.1 180.5 L345.5 156.3 L347.7 138.0 L348.7 131.2 L349.7 129.0 L350.7 131.2 L351.7 138.0 L354.6 156.3 L358.2 180.5 L361.8 204.7 L365.1 229.0 L368.8 253.2 L372.4 277.5 L376.0 301.7 L379.7 326.0 L382.8 347.5 Z" fill="#787878" stroke="#1b1b1b" stroke-width="6.1" stroke-linejoin="round"/>
</g>
<path d="M258.6 345 v-10.5 M349.8 345 v-10.5" stroke="#1b1b1b" stroke-width="3.6"/>
<path d="M229.5 345.3 H386.0" stroke="#1b1b1b" stroke-width="4.2"/>
<path d="M350.0 134.0 l8.5 11.6 l-8.5 11.6 l-8.5 -11.6 Z" fill="#00ffff" stroke="#150808" stroke-width="1.5" stroke-linejoin="miter"/>
<path d="M343.0 195.5 l8.5 11.6 l-8.5 11.6 l-8.5 -11.6 Z" fill="#00ffff" stroke="#150808" stroke-width="1.5" stroke-linejoin="miter"/>
<path d="M332.6 249.0 l8.5 11.6 l-8.5 11.6 l-8.5 -11.6 Z" fill="#00ffff" stroke="#150808" stroke-width="1.5" stroke-linejoin="miter"/>
<path d="M309.9 316.8 l8.5 11.6 l-8.5 11.6 l-8.5 -11.6 Z" fill="#00ffff" stroke="#150808" stroke-width="1.5" stroke-linejoin="miter"/>
</g>
<text x="151.1" y="32.0" font-size="29.8" font-weight="bold" text-anchor="start">A</text>
<text x="468.9" y="32.0" font-size="29.8" font-weight="bold" text-anchor="start">B</text>
<text x="780.5" y="32.0" font-size="29.8" font-weight="bold" text-anchor="start">C</text>
<text x="1096.0" y="32.0" font-size="29.8" font-weight="bold" text-anchor="start">D</text>
<text x="151.1" y="385.0" font-size="29.8" font-weight="bold" text-anchor="start">E</text>
<text x="470.0" y="385.0" font-size="29.8" font-weight="bold" text-anchor="start">F</text>
<text x="780.5" y="385.0" font-size="29.8" font-weight="bold" text-anchor="start">G</text>
<text x="1098.2" y="385.0" font-size="29.8" font-weight="bold" text-anchor="start">H</text>
<text x="153.0" y="742.7" font-size="29.8" font-weight="bold" text-anchor="start">I</text>
<text x="471.9" y="742.7" font-size="29.8" font-weight="bold" text-anchor="start">J</text>
<text x="780.5" y="742.7" font-size="29.8" font-weight="bold" text-anchor="start">K</text>
<text x="1098.2" y="742.7" font-size="29.8" font-weight="bold" text-anchor="start">L</text>
<text x="151.1" y="1098.7" font-size="29.8" font-weight="bold" text-anchor="start">M</text>
<text x="470.0" y="1098.7" font-size="29.8" font-weight="bold" text-anchor="start">N</text>
<text x="780.5" y="1098.7" font-size="29.8" font-weight="bold" text-anchor="start">O</text>
<text x="1098.8" y="1098.7" font-size="29.8" font-weight="bold" text-anchor="start">P</text>
<text x="151.1" y="1453.8" font-size="29.8" font-weight="bold" text-anchor="start">Q</text>
<text x="470.0" y="1453.8" font-size="29.8" font-weight="bold" text-anchor="start">R</text>
<text x="780.5" y="1453.8" font-size="29.8" font-weight="bold" text-anchor="start">S</text>
<text x="1101.4" y="1453.8" font-size="29.8" font-weight="bold" text-anchor="start">T</text>
<text x="211.6" y="38.4" font-size="45.9" font-weight="bold" text-anchor="start">4-5 May</text>
<text x="525.8" y="38.4" font-size="45.9" font-weight="bold" text-anchor="start">10-12 May</text>
<text x="833.3" y="38.4" font-size="45.9" font-weight="bold" text-anchor="start">18-19 May</text>
<text x="1147.0" y="38.4" font-size="45.9" font-weight="bold" text-anchor="start">26-28 May</text>
<text x="141.8" y="154.7" font-size="42" text-anchor="end">-50</text>
<text x="141.8" y="241.5" font-size="42" text-anchor="end">-100</text>
<text x="141.8" y="328.4" font-size="42" text-anchor="end">-150</text>
<text x="141.8" y="67.2" font-size="42" text-anchor="end">0</text>
<text x="37.3" y="198.6" font-size="42" font-weight="bold" text-anchor="middle" transform="rotate(-90 37.3 198.6)">Depth (m)</text>
<text x="141.8" y="507.7" font-size="42" text-anchor="end">-50</text>
<text x="141.8" y="594.5" font-size="42" text-anchor="end">-100</text>
<text x="141.8" y="681.4" font-size="42" text-anchor="end">-150</text>
<text x="141.8" y="421.6" font-size="42" text-anchor="end">0</text>
<text x="37.3" y="553.2" font-size="42" font-weight="bold" text-anchor="middle" transform="rotate(-90 37.3 553.2)">Depth (m)</text>
<text x="141.8" y="862.0" font-size="42" text-anchor="end">-50</text>
<text x="141.8" y="948.8" font-size="42" text-anchor="end">-100</text>
<text x="141.8" y="1035.7" font-size="42" text-anchor="end">-150</text>
<text x="141.8" y="774.5" font-size="42" text-anchor="end">0</text>
<text x="37.3" y="906.0" font-size="42" font-weight="bold" text-anchor="middle" transform="rotate(-90 37.3 906.0)">Depth (m)</text>
<text x="141.8" y="1214.8" font-size="42" text-anchor="end">-50</text>
<text x="141.8" y="1301.6" font-size="42" text-anchor="end">-100</text>
<text x="141.8" y="1388.5" font-size="42" text-anchor="end">-150</text>
<text x="141.8" y="1129.1" font-size="42" text-anchor="end">0</text>
<text x="37.3" y="1260.6" font-size="42" font-weight="bold" text-anchor="middle" transform="rotate(-90 37.3 1260.6)">Depth (m)</text>
<text x="141.8" y="1569.3" font-size="42" text-anchor="end">-50</text>
<text x="141.8" y="1656.1" font-size="42" text-anchor="end">-100</text>
<text x="141.8" y="1743.0" font-size="42" text-anchor="end">-150</text>
<text x="141.8" y="1482.4" font-size="42" text-anchor="end">0</text>
<text x="37.3" y="1614.0" font-size="42" font-weight="bold" text-anchor="middle" transform="rotate(-90 37.3 1614.0)">Depth (m)</text>
<text x="211.8" y="1819.9" font-size="42" text-anchor="middle">-30</text>
<text x="303.4" y="1819.9" font-size="42" text-anchor="middle">-10</text>
<text x="395.3" y="1819.9" font-size="42" text-anchor="middle">10</text>
<text x="291.9" y="1876.4" font-size="42" font-weight="bold" text-anchor="middle">Distance (km)</text>
<text x="522.7" y="1819.9" font-size="42" text-anchor="middle">-30</text>
<text x="614.3" y="1819.9" font-size="42" text-anchor="middle">-10</text>
<text x="706.2" y="1819.9" font-size="42" text-anchor="middle">10</text>
<text x="602.8" y="1876.4" font-size="42" font-weight="bold" text-anchor="middle">Distance (km)</text>
<text x="833.6" y="1819.9" font-size="42" text-anchor="middle">-30</text>
<text x="925.2" y="1819.9" font-size="42" text-anchor="middle">-10</text>
<text x="1017.1" y="1819.9" font-size="42" text-anchor="middle">10</text>
<text x="913.7" y="1876.4" font-size="42" font-weight="bold" text-anchor="middle">Distance (km)</text>
<text x="1144.5" y="1819.9" font-size="42" text-anchor="middle">-30</text>
<text x="1236.1" y="1819.9" font-size="42" text-anchor="middle">-10</text>
<text x="1328.0" y="1819.9" font-size="42" text-anchor="middle">10</text>
<text x="1224.6" y="1876.4" font-size="42" font-weight="bold" text-anchor="middle">Distance (km)</text>
<text x="380.8" y="150.5" font-size="30.5" font-weight="bold" text-anchor="middle">YS5</text>
<text x="368.2" y="236.1" font-size="30.5" font-weight="bold" text-anchor="middle">YS6</text>
<text x="361.6" y="286.6" font-size="30.5" font-weight="bold" text-anchor="middle">YS2</text>
<text x="346.0" y="340.6" font-size="30.5" font-weight="bold" text-anchor="middle">YS3</text>
<text x="298.7" y="193.9" font-size="27" text-anchor="middle" transform="rotate(-10 298.7 184.2)">32.45</text>
<text x="671.6" y="92.2" font-size="27" text-anchor="middle">32.35</text>
<text x="1230.5" y="200.3" font-size="27" text-anchor="middle">32.45</text>
<text x="428.5" y="752.5" font-size="27" text-anchor="middle">25.9</text>
<text x="309.0" y="929.2" font-size="27" text-anchor="middle" transform="rotate(-32 309.0 919.5)">26</text>
<text x="385.7" y="836.5" font-size="27" text-anchor="middle">26</text>
<text x="982.9" y="824.0" font-size="27" text-anchor="middle" transform="rotate(2 982.9 814.3)">25.95</text>
<text x="1229.8" y="1146.1" font-size="27" text-anchor="middle" transform="rotate(18 1229.8 1136.4)">25.9</text>
<text x="1228.8" y="1496.0" font-size="27" text-anchor="middle" transform="rotate(20 1228.8 1486.3)">25.9</text>
<text x="342.1" y="1522.8" font-size="27" text-anchor="middle" transform="rotate(68 342.1 1513.1)">107</text>
<text x="186.0" y="1747.1" font-size="27" text-anchor="middle" transform="rotate(18 186.0 1737.4)">96</text>
<rect x="1402.6" y="49.9" width="65.5" height="295.5" fill="url(#cb0)"/>
<path d="M1402.6 50.3 H1468.1" stroke="#222" stroke-width="1.2"/>
<text x="1481.4" y="106.3" font-size="35.6" text-anchor="start">32.6</text>
<text x="1481.4" y="190.0" font-size="35.6" text-anchor="start">32.4</text>
<text x="1481.4" y="275.3" font-size="35.6" text-anchor="start">32.2</text>
<text x="1481.4" y="359.7" font-size="35.6" text-anchor="start">32</text>
<rect x="1402.6" y="402.9" width="65.5" height="295.5" fill="url(#cb1)"/>
<path d="M1402.6 403.3 H1468.1" stroke="#222" stroke-width="1.2"/>
<text x="1481.4" y="418.8" font-size="35.6" text-anchor="start">-1.4</text>
<text x="1481.4" y="504.3" font-size="35.6" text-anchor="start">-1.5</text>
<text x="1481.4" y="591.6" font-size="35.6" text-anchor="start">-1.6</text>
<text x="1481.4" y="677.9" font-size="35.6" text-anchor="start">-1.7</text>
<rect x="1402.6" y="757.2" width="65.5" height="295.5" fill="url(#cb2)"/>
<text x="1481.4" y="826.8" font-size="35.6" text-anchor="start">26.2</text>
<text x="1481.4" y="910.7" font-size="35.6" text-anchor="start">26</text>
<text x="1481.4" y="994.7" font-size="35.6" text-anchor="start">25.8</text>
<rect x="1402.6" y="1110.0" width="65.5" height="295.5" fill="url(#cb3)"/>
<path d="M1402.6 1110.4 H1468.1" stroke="#222" stroke-width="1.2"/>
<text x="1481.4" y="1156.8" font-size="35.6" text-anchor="start">0.6</text>
<text x="1481.4" y="1266.9" font-size="35.6" text-anchor="start">0.4</text>
<text x="1481.4" y="1376.6" font-size="35.6" text-anchor="start">0.2</text>
<rect x="1402.6" y="1464.5" width="65.5" height="295.5" fill="url(#cb4)"/>
<path d="M1402.6 1464.9 H1468.1" stroke="#222" stroke-width="1.2"/>
<text x="1481.4" y="1478.9" font-size="35.6" text-anchor="start">120</text>
<text x="1481.4" y="1570.9" font-size="35.6" text-anchor="start">110</text>
<text x="1481.4" y="1663.3" font-size="35.6" text-anchor="start">100</text>
<text x="1481.4" y="1755.0" font-size="35.6" text-anchor="start">90</text>
<text x="1617.5" y="199.5" font-size="42" font-weight="bold" text-anchor="middle" transform="rotate(-90 1617.5 199.5)">g kg<tspan font-size="34.5" dy="-20.5">-1</tspan></text>
<text x="1610.0" y="552.5" font-size="42" font-weight="bold" text-anchor="middle" transform="rotate(-90 1610.0 552.5)"><tspan font-size="34.5" dy="-20.5">o</tspan><tspan dy="20.5">C</tspan></text>
<text x="1617.5" y="906.0" font-size="42" font-weight="bold" text-anchor="middle" transform="rotate(-90 1617.5 906.0)">kg m<tspan font-size="34.5" dy="-20.5">-3</tspan></text>
<text x="1597.7" y="1259.5" font-size="42" font-weight="bold" text-anchor="middle" transform="rotate(-90 1597.7 1259.5)">Chl-a (mg m<tspan font-size="34.5" dy="-20.5">-3</tspan><tspan dy="20.5">)</tspan></text>
<text x="1596.8" y="1613.0" font-size="42.5" font-weight="bold" text-anchor="middle" transform="rotate(-90 1596.8 1613.0)">O<tspan font-size="34.5" dy="19.5">2</tspan><tspan dy="-19.5"> %</tspan></text>
</svg>
</body></html>
